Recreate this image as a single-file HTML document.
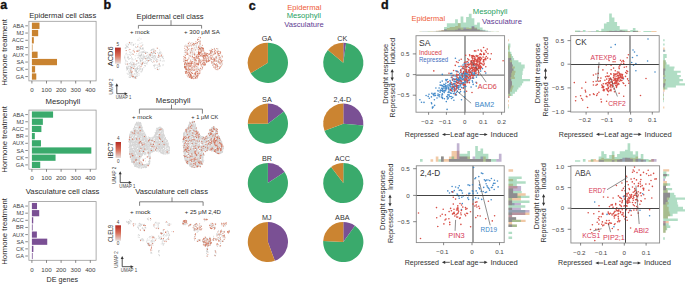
<!DOCTYPE html>
<html><head><meta charset="utf-8"><style>
html,body{margin:0;padding:0;background:#fff;}
body{width:685px;height:284px;overflow:hidden;}
svg{display:block;font-family:"Liberation Sans",sans-serif;}
</style></head><body>
<svg width="685" height="284" viewBox="0 0 685 284">
<rect width="685" height="284" fill="#fff"/>
<text x="0.30" y="8.80" font-size="12.5" fill="#111" font-weight="bold" stroke="#111" stroke-width="0.35">a</text>
<text x="103.40" y="8.90" font-size="12.5" fill="#111" font-weight="bold" stroke="#111" stroke-width="0.35">b</text>
<text x="248.80" y="9.50" font-size="12.5" fill="#111" font-weight="bold" stroke="#111" stroke-width="0.35">c</text>
<text x="381.10" y="8.90" font-size="12.5" fill="#111" font-weight="bold" stroke="#111" stroke-width="0.35">d</text>
<text x="62.70" y="18.34" font-size="7.6" fill="#2b2b2b" text-anchor="middle" textLength="67.00" lengthAdjust="spacingAndGlyphs">Epidermal cell class</text>
<rect x="28.90" y="21.30" width="67.20" height="59.60" fill="none" stroke="#9a9a9a" stroke-width="0.8"/>
<rect x="31.90" y="22.65" width="7.60" height="6.30" fill="#c98330"/>
<line x1="25.30" y1="25.80" x2="27.90" y2="25.80" stroke="#555" stroke-width="0.7"/>
<text x="23.90" y="27.80" font-size="5.6" fill="#444" text-anchor="end">ABA</text>
<rect x="31.90" y="29.90" width="6.29" height="6.30" fill="#c98330"/>
<line x1="25.30" y1="33.05" x2="27.90" y2="33.05" stroke="#555" stroke-width="0.7"/>
<text x="23.90" y="35.05" font-size="5.6" fill="#444" text-anchor="end">MJ</text>
<rect x="31.90" y="37.15" width="1.91" height="6.30" fill="#c98330"/>
<line x1="25.30" y1="40.30" x2="27.90" y2="40.30" stroke="#555" stroke-width="0.7"/>
<text x="23.90" y="42.30" font-size="5.6" fill="#444" text-anchor="end">ACC</text>
<rect x="31.90" y="44.40" width="0.59" height="6.30" fill="#c98330"/>
<line x1="25.30" y1="47.55" x2="27.90" y2="47.55" stroke="#555" stroke-width="0.7"/>
<text x="23.90" y="49.55" font-size="5.6" fill="#444" text-anchor="end">BR</text>
<rect x="31.90" y="51.65" width="5.70" height="6.30" fill="#c98330"/>
<line x1="25.30" y1="54.80" x2="27.90" y2="54.80" stroke="#555" stroke-width="0.7"/>
<text x="23.90" y="56.80" font-size="5.6" fill="#444" text-anchor="end">AUX</text>
<rect x="31.90" y="58.90" width="25.12" height="6.30" fill="#c98330"/>
<line x1="25.30" y1="62.05" x2="27.90" y2="62.05" stroke="#555" stroke-width="0.7"/>
<text x="23.90" y="64.05" font-size="5.6" fill="#444" text-anchor="end">SA</text>
<rect x="31.90" y="66.15" width="3.22" height="6.30" fill="#c98330"/>
<line x1="25.30" y1="69.30" x2="27.90" y2="69.30" stroke="#555" stroke-width="0.7"/>
<text x="23.90" y="71.30" font-size="5.6" fill="#444" text-anchor="end">CK</text>
<rect x="31.90" y="73.40" width="4.39" height="6.30" fill="#c98330"/>
<line x1="25.30" y1="76.55" x2="27.90" y2="76.55" stroke="#555" stroke-width="0.7"/>
<text x="23.90" y="78.55" font-size="5.6" fill="#444" text-anchor="end">GA</text>
<line x1="31.90" y1="80.90" x2="31.90" y2="83.50" stroke="#555" stroke-width="0.7"/>
<text x="31.90" y="91.80" font-size="6.2" fill="#444" text-anchor="middle">0</text>
<line x1="46.50" y1="80.90" x2="46.50" y2="83.50" stroke="#555" stroke-width="0.7"/>
<text x="46.50" y="91.80" font-size="6.2" fill="#444" text-anchor="middle">100</text>
<line x1="61.10" y1="80.90" x2="61.10" y2="83.50" stroke="#555" stroke-width="0.7"/>
<text x="61.10" y="91.80" font-size="6.2" fill="#444" text-anchor="middle">200</text>
<line x1="75.70" y1="80.90" x2="75.70" y2="83.50" stroke="#555" stroke-width="0.7"/>
<text x="75.70" y="91.80" font-size="6.2" fill="#444" text-anchor="middle">300</text>
<line x1="90.30" y1="80.90" x2="90.30" y2="83.50" stroke="#555" stroke-width="0.7"/>
<text x="90.30" y="91.80" font-size="6.2" fill="#444" text-anchor="middle">400</text>
<text x="62.90" y="104.04" font-size="7.6" fill="#2b2b2b" text-anchor="middle" textLength="34.80" lengthAdjust="spacingAndGlyphs">Mesophyll</text>
<rect x="28.90" y="110.10" width="67.20" height="59.10" fill="none" stroke="#9a9a9a" stroke-width="0.8"/>
<rect x="31.90" y="111.45" width="21.18" height="6.24" fill="#3aaa6c"/>
<line x1="25.30" y1="114.57" x2="27.90" y2="114.57" stroke="#555" stroke-width="0.7"/>
<text x="23.90" y="116.57" font-size="5.6" fill="#444" text-anchor="end">ABA</text>
<rect x="31.90" y="118.64" width="10.96" height="6.24" fill="#3aaa6c"/>
<line x1="25.30" y1="121.76" x2="27.90" y2="121.76" stroke="#555" stroke-width="0.7"/>
<text x="23.90" y="123.76" font-size="5.6" fill="#444" text-anchor="end">MJ</text>
<rect x="31.90" y="125.82" width="9.50" height="6.24" fill="#3aaa6c"/>
<line x1="25.30" y1="128.94" x2="27.90" y2="128.94" stroke="#555" stroke-width="0.7"/>
<text x="23.90" y="130.94" font-size="5.6" fill="#444" text-anchor="end">ACC</text>
<rect x="31.90" y="133.01" width="2.93" height="6.24" fill="#3aaa6c"/>
<line x1="25.30" y1="136.13" x2="27.90" y2="136.13" stroke="#555" stroke-width="0.7"/>
<text x="23.90" y="138.13" font-size="5.6" fill="#444" text-anchor="end">BR</text>
<rect x="31.90" y="140.20" width="9.06" height="6.24" fill="#3aaa6c"/>
<line x1="25.30" y1="143.32" x2="27.90" y2="143.32" stroke="#555" stroke-width="0.7"/>
<text x="23.90" y="145.32" font-size="5.6" fill="#444" text-anchor="end">AUX</text>
<rect x="31.90" y="147.39" width="59.43" height="6.24" fill="#3aaa6c"/>
<line x1="25.30" y1="150.51" x2="27.90" y2="150.51" stroke="#555" stroke-width="0.7"/>
<text x="23.90" y="152.51" font-size="5.6" fill="#444" text-anchor="end">SA</text>
<rect x="31.90" y="154.57" width="23.66" height="6.24" fill="#3aaa6c"/>
<line x1="25.30" y1="157.69" x2="27.90" y2="157.69" stroke="#555" stroke-width="0.7"/>
<text x="23.90" y="159.69" font-size="5.6" fill="#444" text-anchor="end">CK</text>
<rect x="31.90" y="161.76" width="8.33" height="6.24" fill="#3aaa6c"/>
<line x1="25.30" y1="164.88" x2="27.90" y2="164.88" stroke="#555" stroke-width="0.7"/>
<text x="23.90" y="166.88" font-size="5.6" fill="#444" text-anchor="end">GA</text>
<line x1="31.90" y1="169.20" x2="31.90" y2="171.80" stroke="#555" stroke-width="0.7"/>
<text x="31.90" y="179.90" font-size="6.2" fill="#444" text-anchor="middle">0</text>
<line x1="46.50" y1="169.20" x2="46.50" y2="171.80" stroke="#555" stroke-width="0.7"/>
<text x="46.50" y="179.90" font-size="6.2" fill="#444" text-anchor="middle">100</text>
<line x1="61.10" y1="169.20" x2="61.10" y2="171.80" stroke="#555" stroke-width="0.7"/>
<text x="61.10" y="179.90" font-size="6.2" fill="#444" text-anchor="middle">200</text>
<line x1="75.70" y1="169.20" x2="75.70" y2="171.80" stroke="#555" stroke-width="0.7"/>
<text x="75.70" y="179.90" font-size="6.2" fill="#444" text-anchor="middle">300</text>
<line x1="90.30" y1="169.20" x2="90.30" y2="171.80" stroke="#555" stroke-width="0.7"/>
<text x="90.30" y="179.90" font-size="6.2" fill="#444" text-anchor="middle">400</text>
<text x="62.60" y="193.64" font-size="7.6" fill="#2b2b2b" text-anchor="middle" textLength="73.60" lengthAdjust="spacingAndGlyphs">Vasculature cell class</text>
<rect x="28.90" y="201.60" width="67.20" height="58.70" fill="none" stroke="#9a9a9a" stroke-width="0.8"/>
<rect x="31.90" y="202.95" width="5.12" height="6.19" fill="#7a4f94"/>
<line x1="25.30" y1="206.04" x2="27.90" y2="206.04" stroke="#555" stroke-width="0.7"/>
<text x="23.90" y="208.04" font-size="5.6" fill="#444" text-anchor="end">ABA</text>
<rect x="31.90" y="210.09" width="7.31" height="6.19" fill="#7a4f94"/>
<line x1="25.30" y1="213.18" x2="27.90" y2="213.18" stroke="#555" stroke-width="0.7"/>
<text x="23.90" y="215.18" font-size="5.6" fill="#444" text-anchor="end">MJ</text>
<rect x="31.90" y="217.22" width="1.32" height="6.19" fill="#7a4f94"/>
<line x1="25.30" y1="220.32" x2="27.90" y2="220.32" stroke="#555" stroke-width="0.7"/>
<text x="23.90" y="222.32" font-size="5.6" fill="#444" text-anchor="end">ACC</text>
<rect x="31.90" y="224.36" width="0.74" height="6.19" fill="#7a4f94"/>
<line x1="25.30" y1="227.46" x2="27.90" y2="227.46" stroke="#555" stroke-width="0.7"/>
<text x="23.90" y="229.46" font-size="5.6" fill="#444" text-anchor="end">BR</text>
<rect x="31.90" y="231.50" width="4.97" height="6.19" fill="#7a4f94"/>
<line x1="25.30" y1="234.59" x2="27.90" y2="234.59" stroke="#555" stroke-width="0.7"/>
<text x="23.90" y="236.59" font-size="5.6" fill="#444" text-anchor="end">AUX</text>
<rect x="31.90" y="238.64" width="15.34" height="6.19" fill="#7a4f94"/>
<line x1="25.30" y1="241.73" x2="27.90" y2="241.73" stroke="#555" stroke-width="0.7"/>
<text x="23.90" y="243.73" font-size="5.6" fill="#444" text-anchor="end">SA</text>
<rect x="31.90" y="245.78" width="1.47" height="6.19" fill="#7a4f94"/>
<line x1="25.30" y1="248.87" x2="27.90" y2="248.87" stroke="#555" stroke-width="0.7"/>
<text x="23.90" y="250.87" font-size="5.6" fill="#444" text-anchor="end">CK</text>
<rect x="31.90" y="252.91" width="0.74" height="6.19" fill="#7a4f94"/>
<line x1="25.30" y1="256.01" x2="27.90" y2="256.01" stroke="#555" stroke-width="0.7"/>
<text x="23.90" y="258.01" font-size="5.6" fill="#444" text-anchor="end">GA</text>
<line x1="31.90" y1="260.30" x2="31.90" y2="262.90" stroke="#555" stroke-width="0.7"/>
<text x="31.90" y="271.70" font-size="6.2" fill="#444" text-anchor="middle">0</text>
<line x1="46.50" y1="260.30" x2="46.50" y2="262.90" stroke="#555" stroke-width="0.7"/>
<text x="46.50" y="271.70" font-size="6.2" fill="#444" text-anchor="middle">100</text>
<line x1="61.10" y1="260.30" x2="61.10" y2="262.90" stroke="#555" stroke-width="0.7"/>
<text x="61.10" y="271.70" font-size="6.2" fill="#444" text-anchor="middle">200</text>
<line x1="75.70" y1="260.30" x2="75.70" y2="262.90" stroke="#555" stroke-width="0.7"/>
<text x="75.70" y="271.70" font-size="6.2" fill="#444" text-anchor="middle">300</text>
<line x1="90.30" y1="260.30" x2="90.30" y2="262.90" stroke="#555" stroke-width="0.7"/>
<text x="90.30" y="271.70" font-size="6.2" fill="#444" text-anchor="middle">400</text>
<text x="62.30" y="282.26" font-size="7.4" fill="#2b2b2b" text-anchor="middle" textLength="31.40" lengthAdjust="spacingAndGlyphs">DE genes</text>
<text x="0" y="0" font-size="7.7" fill="#2b2b2b" text-anchor="middle" textLength="66.7" lengthAdjust="spacingAndGlyphs" transform="translate(6.6 52.50) rotate(-90)">Hormone treatment</text>
<text x="0" y="0" font-size="7.7" fill="#2b2b2b" text-anchor="middle" textLength="66.7" lengthAdjust="spacingAndGlyphs" transform="translate(6.6 139.50) rotate(-90)">Hormone treatment</text>
<text x="0" y="0" font-size="7.7" fill="#2b2b2b" text-anchor="middle" textLength="66.7" lengthAdjust="spacingAndGlyphs" transform="translate(6.6 231.40) rotate(-90)">Hormone treatment</text>
<text x="170.10" y="19.14" font-size="7.6" fill="#2b2b2b" text-anchor="middle" textLength="67.00" lengthAdjust="spacingAndGlyphs">Epidermal cell class</text>
<path d="M138.40 28.60 V25.40 H201.60 V28.60 M171.00 25.40 V20.20" fill="none" stroke="#555" stroke-width="0.75"/>
<text x="139.75" y="34.16" font-size="6.0" fill="#2b2b2b" text-anchor="middle" textLength="19.70" lengthAdjust="spacingAndGlyphs">+ mock</text>
<text x="201.95" y="34.16" font-size="6.0" fill="#2b2b2b" text-anchor="middle" textLength="35.70" lengthAdjust="spacingAndGlyphs">+ 300 μM SA</text>
<defs><linearGradient id="cb1" x1="0" y1="0" x2="0" y2="1"><stop offset="0" stop-color="#b52a22"/><stop offset="0.5" stop-color="#d9705a"/><stop offset="1" stop-color="#e6e0de"/></linearGradient></defs>
<rect x="115.00" y="47.60" width="5.80" height="16.20" fill="url(#cb1)"/>
<text x="117.90" y="46.00" font-size="4.6" fill="#444" text-anchor="middle">5</text>
<text x="117.90" y="68.40" font-size="4.6" fill="#444" text-anchor="middle">0</text>
<text x="0" y="0" font-size="7.4" fill="#2b2b2b" text-anchor="middle" textLength="19.80" lengthAdjust="spacingAndGlyphs" transform="translate(112.96 56.30) rotate(-90)">ACD6</text>
<path d="M116.80 85.70 V93.70 H125.10" fill="none" stroke="#333" stroke-width="0.85"/>
<path d="M115.30 86.20 L116.80 83.20 L118.30 86.20 Z" fill="#333"/>
<path d="M124.60 92.20 L127.60 93.70 L124.60 95.20 Z" fill="#333"/>
<text x="0" y="0" font-size="4.8" fill="#444" text-anchor="middle" textLength="16.10" lengthAdjust="spacingAndGlyphs" transform="translate(113.00 86.55) rotate(-90)">UMAP 2</text>
<text x="123.60" y="99.43" font-size="4.8" fill="#444" text-anchor="middle" textLength="15.60" lengthAdjust="spacingAndGlyphs">UMAP 1</text>
<text x="173.10" y="103.14" font-size="7.6" fill="#2b2b2b" text-anchor="middle" textLength="34.60" lengthAdjust="spacingAndGlyphs">Mesophyll</text>
<path d="M139.40 113.60 V109.10 H202.40 V113.60 M171.50 109.10 V104.60" fill="none" stroke="#555" stroke-width="0.75"/>
<text x="142.00" y="118.96" font-size="6.0" fill="#2b2b2b" text-anchor="middle" textLength="20.00" lengthAdjust="spacingAndGlyphs">+ mock</text>
<text x="204.80" y="118.96" font-size="6.0" fill="#2b2b2b" text-anchor="middle" textLength="27.00" lengthAdjust="spacingAndGlyphs">+ 1 μM CK</text>
<defs><linearGradient id="cb2" x1="0" y1="0" x2="0" y2="1"><stop offset="0" stop-color="#b52a22"/><stop offset="0.5" stop-color="#d9705a"/><stop offset="1" stop-color="#e6e0de"/></linearGradient></defs>
<rect x="115.60" y="142.00" width="5.40" height="16.00" fill="url(#cb2)"/>
<text x="118.30" y="140.40" font-size="4.6" fill="#444" text-anchor="middle">4</text>
<text x="118.30" y="162.60" font-size="4.6" fill="#444" text-anchor="middle">0</text>
<text x="0" y="0" font-size="7.4" fill="#2b2b2b" text-anchor="middle" textLength="16.00" lengthAdjust="spacingAndGlyphs" transform="translate(112.96 150.50) rotate(-90)">IBC7</text>
<path d="M120.20 173.80 V182.60 H129.30" fill="none" stroke="#333" stroke-width="0.85"/>
<path d="M118.70 174.30 L120.20 171.30 L121.70 174.30 Z" fill="#333"/>
<path d="M128.80 181.10 L131.80 182.60 L128.80 184.10 Z" fill="#333"/>
<text x="0" y="0" font-size="4.8" fill="#444" text-anchor="middle" textLength="17.00" lengthAdjust="spacingAndGlyphs" transform="translate(116.20 175.20) rotate(-90)">UMAP 2</text>
<text x="127.30" y="188.23" font-size="4.8" fill="#444" text-anchor="middle" textLength="16.00" lengthAdjust="spacingAndGlyphs">UMAP 1</text>
<text x="171.60" y="194.34" font-size="7.6" fill="#2b2b2b" text-anchor="middle" textLength="72.80" lengthAdjust="spacingAndGlyphs">Vasculature cell class</text>
<path d="M139.60 205.80 V201.80 H203.10 V205.80 M172.00 201.80 V197.40" fill="none" stroke="#555" stroke-width="0.75"/>
<text x="140.25" y="214.16" font-size="6.0" fill="#2b2b2b" text-anchor="middle" textLength="20.50" lengthAdjust="spacingAndGlyphs">+ mock</text>
<text x="202.85" y="214.36" font-size="6.0" fill="#2b2b2b" text-anchor="middle" textLength="36.10" lengthAdjust="spacingAndGlyphs">+ 25 μM 2,4D</text>
<defs><linearGradient id="cb3" x1="0" y1="0" x2="0" y2="1"><stop offset="0" stop-color="#b52a22"/><stop offset="0.5" stop-color="#d9705a"/><stop offset="1" stop-color="#e6e0de"/></linearGradient></defs>
<rect x="115.30" y="225.30" width="5.70" height="15.50" fill="url(#cb3)"/>
<text x="118.15" y="223.70" font-size="4.6" fill="#444" text-anchor="middle">4</text>
<text x="118.15" y="245.40" font-size="4.6" fill="#444" text-anchor="middle">0</text>
<text x="0" y="0" font-size="7.4" fill="#2b2b2b" text-anchor="middle" textLength="17.20" lengthAdjust="spacingAndGlyphs" transform="translate(113.06 233.40) rotate(-90)">CLEL9</text>
<path d="M122.20 258.50 V266.70 H131.10" fill="none" stroke="#333" stroke-width="0.85"/>
<path d="M120.70 259.00 L122.20 256.00 L123.70 259.00 Z" fill="#333"/>
<path d="M130.60 265.20 L133.60 266.70 L130.60 268.20 Z" fill="#333"/>
<text x="0" y="0" font-size="4.8" fill="#444" text-anchor="middle" textLength="16.40" lengthAdjust="spacingAndGlyphs" transform="translate(118.20 259.60) rotate(-90)">UMAP 2</text>
<text x="128.95" y="272.13" font-size="4.8" fill="#444" text-anchor="middle" textLength="16.30" lengthAdjust="spacingAndGlyphs">UMAP 1</text>
<path d="M136.3 73.7h0M143.1 49.6h0M144.9 56.5h0M149.5 58.5h0M132.0 66.0h0M135.0 74.0h0M126.7 53.2h0M130.3 71.2h0M130.3 55.4h0M132.9 65.1h0M159.4 64.7h0M160.5 60.8h0M132.0 76.0h0M131.5 74.1h0M147.1 52.7h0M159.4 56.5h0M137.2 68.5h0M139.2 38.1h0M163.1 64.6h0M133.4 45.2h0M135.2 77.0h0M163.6 58.6h0M127.1 54.9h0M148.5 57.0h0M157.0 67.6h0M125.9 61.7h0M136.8 76.4h0M132.0 61.0h0M137.9 50.2h0M136.9 73.2h0M129.5 69.2h0M137.4 67.3h0M125.4 64.3h0M139.5 47.5h0M157.6 52.7h0M127.6 68.6h0M129.6 42.3h0M136.6 71.9h0M139.4 66.8h0M157.4 65.3h0M158.1 69.6h0M153.2 55.6h0M146.0 53.2h0M153.2 52.9h0M161.2 53.1h0M130.2 66.9h0M142.2 68.5h0M131.4 73.1h0M131.7 65.1h0M145.0 63.3h0M131.5 42.6h0M133.5 77.7h0M144.6 57.8h0M127.0 46.8h0M131.0 75.6h0M137.5 76.3h0M135.6 70.6h0M141.7 54.3h0M126.9 67.5h0M162.7 56.6h0M153.2 58.9h0M142.5 63.4h0M127.3 61.8h0M132.1 73.9h0M143.0 63.0h0M140.6 60.4h0M154.1 52.9h0M154.6 58.1h0M147.5 60.3h0M151.5 61.4h0M138.4 55.7h0M160.0 52.7h0M127.2 73.4h0M142.7 52.6h0M134.2 63.9h0M143.4 58.9h0M132.4 77.4h0M136.6 47.6h0M132.1 42.6h0M155.1 68.5h0M129.7 42.6h0M135.7 77.4h0M131.7 43.8h0M124.9 56.1h0M135.1 70.2h0M149.0 53.9h0M128.9 50.1h0M137.8 40.1h0M130.0 70.5h0M135.1 66.4h0M149.5 56.0h0M136.0 68.8h0M154.0 52.8h0M152.3 53.2h0M132.5 67.6h0M142.3 49.0h0M127.4 46.1h0M147.2 58.2h0M129.3 74.1h0M145.2 52.4h0M143.1 55.9h0M140.0 43.3h0M147.7 57.5h0M140.5 48.2h0M128.4 47.3h0M126.1 50.8h0M127.1 44.0h0M141.9 42.8h0M129.0 70.9h0M142.6 64.7h0M130.9 42.7h0M126.4 45.9h0M142.9 51.8h0M137.6 68.7h0M140.5 68.7h0M136.8 67.9h0M152.9 56.9h0M129.5 75.0h0M147.1 56.2h0M130.6 71.1h0M162.0 53.9h0M154.6 56.7h0M139.8 55.1h0M126.7 68.6h0M136.5 68.9h0M137.3 63.7h0M128.6 66.2h0M136.2 63.6h0M140.5 61.2h0M130.5 66.6h0M145.2 62.2h0M137.8 50.6h0M125.7 60.0h0M132.4 50.9h0M129.4 63.5h0M130.5 74.9h0M151.4 59.9h0M150.0 58.7h0M129.5 66.0h0M155.8 55.9h0M159.0 53.8h0M135.5 76.4h0M164.0 61.2h0M144.8 58.1h0M129.3 43.2h0M141.5 64.7h0M146.0 52.9h0M136.2 64.5h0M144.1 56.4h0M135.9 70.7h0M153.2 50.9h0M156.7 59.7h0M138.3 39.7h0M149.2 58.8h0M141.2 54.9h0M140.3 56.4h0M134.2 67.1h0M160.2 53.4h0M159.5 65.2h0M143.2 61.8h0M128.7 71.0h0M146.0 63.4h0M158.9 53.3h0M141.3 54.3h0M131.3 63.8h0M143.1 56.4h0M152.2 54.1h0M127.3 57.8h0M139.1 49.7h0M137.5 60.8h0M129.1 73.5h0M136.1 69.6h0M129.1 68.5h0M130.2 58.5h0M142.7 69.3h0M126.6 67.0h0M138.8 71.3h0M141.9 53.0h0M159.8 66.6h0M148.7 58.3h0M140.7 63.8h0M143.4 57.6h0M137.1 75.9h0M152.8 49.2h0M146.7 58.8h0M160.9 52.2h0M129.4 75.4h0M128.0 57.9h0M129.2 59.3h0M140.7 59.9h0M142.7 58.9h0M140.0 67.0h0M140.9 52.2h0M135.6 47.0h0M142.0 49.2h0M129.9 77.5h0M137.4 66.7h0M144.7 65.6h0M126.8 70.2h0M151.0 50.4h0M127.7 64.8h0M149.0 55.7h0M153.4 56.4h0M138.9 40.5h0M139.5 50.4h0M139.7 65.4h0M148.7 56.2h0M125.0 57.8h0M160.1 51.8h0M138.8 57.7h0M147.6 55.1h0M157.3 68.3h0M136.0 71.4h0M139.2 63.1h0M136.4 53.5h0M152.2 55.5h0M133.7 64.6h0M142.9 44.8h0M127.9 56.3h0M136.2 65.2h0M137.8 50.6h0M144.0 52.4h0M127.7 68.8h0M142.0 51.7h0M133.5 76.5h0M150.2 54.9h0M137.8 44.8h0M150.5 56.3h0M155.6 57.4h0M128.4 45.0h0M158.5 66.3h0M140.0 55.4h0M141.2 69.3h0M128.5 44.4h0M135.6 68.7h0M136.2 70.7h0M138.5 63.5h0M138.0 44.8h0M129.8 72.7h0M139.0 70.4h0M151.9 55.9h0M132.0 45.2h0M156.7 59.3h0M135.0 59.7h0M142.8 47.9h0M137.7 69.2h0M130.0 43.7h0M153.6 65.4h0M157.7 48.5h0M149.5 60.4h0M159.4 68.9h0M140.6 55.7h0M139.7 50.8h0M149.1 57.8h0M156.2 58.5h0M130.6 66.3h0M129.5 63.9h0M125.7 45.0h0M150.6 59.2h0M134.2 66.6h0M162.2 61.1h0M141.7 58.6h0M155.6 55.3h0M142.4 45.3h0M145.9 51.9h0M131.8 54.4h0M131.0 64.7h0M154.8 65.3h0M139.8 55.8h0M125.2 48.1h0M130.5 72.2h0M147.8 57.9h0M155.6 56.3h0M143.8 56.0h0M134.3 69.8h0M132.5 59.0h0M158.5 54.9h0M128.0 74.4h0M160.4 65.8h0M137.4 72.6h0M152.1 49.7h0M134.0 49.1h0M138.7 66.1h0M136.2 70.9h0M135.5 58.8h0M136.0 71.9h0M153.8 50.8h0M157.5 59.5h0M135.1 69.9h0M138.5 54.1h0M141.4 60.8h0M138.7 68.6h0M148.2 54.6h0M145.1 65.8h0M162.9 57.8h0M139.9 60.9h0M127.0 69.3h0M154.4 49.3h0M135.1 71.5h0M134.3 68.3h0M136.6 61.5h0M130.1 68.6h0M144.4 52.3h0M131.4 57.7h0M130.8 52.9h0M142.1 70.5h0M148.3 58.2h0M136.8 71.9h0M133.9 44.3h0M155.3 53.0h0M126.9 46.6h0M146.9 58.8h0M130.6 62.3h0M164.0 60.4h0M133.7 44.5h0M155.8 65.0h0M127.1 67.8h0M136.9 73.1h0M135.1 55.7h0M128.6 64.3h0M139.2 53.3h0M145.2 61.3h0M128.6 57.1h0M158.2 69.7h0M154.2 66.0h0M145.4 65.9h0M149.8 58.0h0M129.2 72.7h0M137.5 57.8h0M131.5 73.0h0M154.4 55.5h0M144.7 63.5h0M130.3 63.2h0M137.0 61.1h0M154.5 52.6h0M137.9 72.3h0M130.3 77.3h0M143.8 52.1h0M127.8 63.4h0M136.2 76.5h0M130.5 73.1h0M145.8 58.2h0M130.7 69.4h0M135.5 47.0h0M137.3 69.5h0M143.7 62.2h0M136.1 75.1h0M154.9 55.8h0M159.5 53.3h0M143.6 51.7h0M134.5 77.0h0M140.5 61.9h0M153.8 57.6h0M135.3 76.6h0M131.9 69.0h0M154.3 66.9h0M127.7 69.4h0M128.1 57.6h0M155.6 60.4h0M162.9 65.6h0M136.2 78.3h0M153.8 49.1h0M144.3 50.7h0M149.4 54.3h0M154.8 59.3h0M138.0 66.2h0M131.4 73.7h0M131.6 68.9h0M134.7 77.6h0M135.1 78.2h0M127.1 66.6h0M153.2 49.3h0M150.5 53.3h0M142.8 48.6h0M161.9 56.7h0M140.0 48.9h0M139.0 73.7h0M142.3 60.7h0M142.1 63.9h0M140.7 60.6h0M129.1 72.0h0M139.5 59.1h0M130.7 68.2h0M143.5 48.2h0M155.7 51.1h0M132.1 62.4h0M152.6 62.4h0M138.6 57.5h0M141.4 58.2h0M140.1 48.8h0M132.9 67.0h0M159.5 63.3h0M127.3 47.2h0M159.8 55.8h0M144.9 56.2h0M135.2 64.5h0M141.3 53.8h0M151.3 50.5h0M160.2 54.2h0M143.5 62.7h0M162.3 57.6h0M137.2 55.3h0M146.3 56.8h0M135.0 77.4h0M153.7 56.9h0M159.7 50.0h0M140.6 48.0h0M163.0 56.2h0M129.3 58.7h0M150.9 60.1h0M132.0 59.2h0M142.2 48.3h0M150.6 55.4h0M143.3 62.4h0M139.2 56.6h0M140.8 72.0h0M151.6 49.6h0M134.2 65.9h0M159.0 60.8h0M132.7 64.4h0M150.0 60.5h0M151.6 57.5h0M154.7 64.9h0M158.9 57.2h0M125.2 63.1h0M140.6 48.1h0M146.5 55.6h0M137.9 74.0h0M140.2 55.6h0M128.7 59.2h0M133.3 63.1h0M146.8 63.0h0M142.4 69.8h0M132.5 53.7h0M133.0 62.6h0M134.3 63.1h0M125.9 48.4h0M158.9 66.2h0M142.6 58.1h0M157.8 59.9h0M141.5 52.6h0M151.6 53.9h0M157.1 65.1h0M152.8 53.6h0M141.0 39.0h0M141.9 71.6h0M147.6 62.2h0M138.8 46.9h0M130.9 71.2h0M140.8 71.6h0M124.9 58.8h0M140.4 59.4h0M128.3 68.0h0M160.2 58.9h0M153.0 57.8h0M125.9 47.5h0M147.7 52.4h0M152.6 57.5h0M132.4 71.2h0M133.8 75.7h0M148.2 61.4h0M139.9 52.7h0M129.1 77.0h0M139.9 58.5h0M143.2 54.7h0M135.4 43.8h0M140.2 69.7h0M157.8 67.1h0M139.7 69.1h0M151.4 59.8h0M133.4 60.1h0M128.8 66.9h0M160.5 60.4h0M157.5 57.3h0M131.7 76.2h0M152.6 55.1h0M142.8 59.7h0M138.3 62.6h0M125.8 54.0h0M127.7 63.9h0M127.7 73.8h0M141.3 65.2h0M134.6 73.7h0M139.8 68.2h0M139.0 75.2h0M134.0 74.2h0M137.6 74.0h0M133.0 68.6h0M133.3 45.5h0M129.8 54.6h0M150.3 52.8h0M136.4 70.8h0M131.0 64.5h0M130.9 69.2h0M126.0 60.7h0M146.5 60.5h0M129.6 52.0h0M133.8 65.3h0M130.8 44.4h0M136.0 76.7h0M158.2 56.9h0M141.4 55.4h0M131.4 56.8h0M124.5 57.2h0M141.2 57.0h0M153.7 53.1h0M157.2 61.7h0M156.7 62.4h0M140.9 57.5h0M141.4 71.7h0M128.0 54.6h0M143.8 67.6h0M131.0 52.1h0M147.0 64.0h0M131.3 68.2h0M138.4 63.2h0M153.6 60.8h0M159.9 52.6h0M131.6 72.8h0M130.1 76.7h0" stroke="#c4c4c4" stroke-width="1.00" stroke-linecap="round" opacity="0.85" fill="none"/>
<path d="M129.3 71.0h0M128.0 64.0h0M139.7 47.3h0M160.9 54.5h0M143.9 66.3h0M149.3 58.3h0M155.1 53.5h0M134.8 75.2h0M158.2 67.1h0M135.2 63.4h0M152.5 52.0h0M129.8 65.8h0M139.4 44.2h0M138.3 57.1h0M164.2 60.3h0M157.6 60.3h0M129.8 62.0h0M157.7 49.2h0M136.4 43.1h0M129.3 59.4h0M132.3 78.4h0M127.9 51.3h0M149.1 53.9h0M133.9 54.2h0M161.0 54.1h0M132.2 77.7h0M128.4 64.6h0M133.9 45.9h0M129.8 76.6h0M129.4 75.3h0M130.9 50.7h0M132.8 78.5h0M128.0 73.1h0M136.3 77.0h0M154.4 47.9h0M140.6 37.9h0M139.7 53.8h0M134.3 70.0h0M135.5 50.8h0M144.0 48.4h0M137.3 54.6h0M134.6 72.2h0M138.5 54.6h0M133.1 71.8h0M131.1 70.1h0M136.8 46.4h0M127.4 62.7h0M147.9 55.3h0M162.6 65.8h0M129.3 47.5h0M142.2 53.3h0M126.8 49.9h0M136.3 59.7h0M148.5 54.1h0M159.0 53.3h0M136.5 69.2h0M131.1 45.1h0M131.6 60.4h0M156.9 53.1h0M135.2 78.1h0M129.8 70.7h0M158.3 60.8h0M139.7 64.6h0M163.6 61.2h0M154.6 57.3h0M131.5 66.2h0M127.4 62.7h0M138.8 40.3h0M155.7 49.5h0M141.1 42.3h0M137.6 42.4h0M134.6 61.2h0M136.3 65.0h0M160.4 61.1h0M132.2 51.4h0M145.4 62.9h0M138.0 55.4h0M149.4 56.1h0M135.7 54.1h0M139.7 49.1h0M148.4 58.4h0M140.8 66.7h0M156.9 64.2h0M138.0 76.3h0M128.5 70.8h0M141.2 53.5h0M158.1 64.5h0M129.0 58.0h0M135.9 51.3h0M135.8 55.0h0M157.7 58.6h0M138.2 76.8h0M137.8 63.8h0M127.1 55.4h0M129.4 49.3h0M132.2 50.0h0M142.6 49.9h0M137.8 57.3h0M160.9 54.2h0M158.2 66.1h0M127.8 52.1h0M137.6 55.9h0M161.4 56.9h0M139.0 66.2h0M135.4 66.9h0M141.0 57.0h0M131.9 45.4h0M158.8 61.1h0M141.2 69.5h0M134.4 57.7h0M148.5 55.2h0M131.1 46.8h0M148.7 54.1h0M136.9 58.1h0M138.2 74.1h0M160.7 64.9h0M125.8 45.1h0M147.4 54.7h0M127.6 45.3h0M147.5 53.8h0M154.9 56.5h0M159.5 68.8h0M144.1 51.9h0M132.9 49.1h0M138.5 52.0h0M131.5 56.8h0M128.8 73.5h0M137.4 47.6h0M130.6 57.1h0M131.6 43.2h0M152.5 54.9h0M151.2 56.6h0M144.5 49.9h0M141.4 57.1h0M138.0 71.7h0M134.2 46.1h0M138.1 69.9h0M158.3 60.6h0M138.8 64.2h0M139.9 42.9h0M139.1 59.8h0M127.3 59.5h0M150.7 52.0h0M127.3 44.5h0M135.3 43.8h0M132.3 59.8h0M141.8 71.6h0M144.3 59.6h0M135.3 61.8h0M137.5 47.7h0M156.6 59.1h0M143.0 61.4h0M156.7 63.1h0M144.9 50.0h0M147.2 56.9h0M126.8 70.1h0M134.4 60.2h0M138.5 51.3h0M141.5 48.0h0M138.6 43.7h0M137.7 66.3h0M159.1 62.7h0M128.6 64.5h0M144.4 50.0h0M137.1 45.4h0M127.7 53.1h0M138.4 40.2h0M135.4 67.5h0M127.8 59.2h0M132.8 69.1h0M139.2 61.1h0M160.9 52.5h0M131.8 48.8h0M134.3 43.3h0M138.1 47.3h0M130.4 59.2h0M132.3 52.2h0M137.3 71.2h0M133.7 59.6h0M137.4 66.0h0M143.9 67.4h0M130.4 43.0h0M153.8 53.2h0M133.9 73.2h0M138.8 41.4h0M133.1 69.3h0M134.9 60.3h0M157.8 62.6h0M136.3 73.8h0M129.6 50.6h0M129.8 69.4h0M159.5 62.0h0M147.7 56.2h0M148.7 60.0h0M134.6 61.5h0M130.7 57.8h0M136.0 56.0h0M151.9 50.4h0M161.8 60.9h0M136.2 55.7h0M142.2 38.8h0M136.2 42.6h0M136.4 62.2h0M128.7 54.7h0M139.3 48.9h0M141.0 57.9h0M134.2 47.5h0M153.3 56.1h0M130.8 70.5h0M129.3 49.3h0M154.4 49.4h0M145.5 59.5h0M126.1 59.8h0M146.2 55.4h0M140.5 59.5h0M160.3 64.5h0M135.1 43.0h0M127.1 48.1h0M129.1 65.6h0M139.7 56.4h0M134.7 75.6h0M158.6 57.1h0M139.2 39.5h0M135.6 61.7h0M158.2 66.0h0M156.8 50.7h0M132.4 45.5h0M128.8 46.9h0M133.3 65.2h0M141.2 45.3h0M136.5 59.0h0M141.9 39.8h0M137.9 65.8h0M140.8 72.2h0M132.1 57.2h0M125.5 52.1h0M143.4 61.6h0M130.0 59.7h0M133.3 55.4h0M136.2 53.2h0M138.9 76.7h0M132.6 48.9h0M161.8 53.2h0M153.7 57.6h0M126.2 57.8h0M134.0 55.3h0M127.0 52.0h0M163.2 56.8h0M141.8 52.7h0M132.7 48.8h0M126.8 72.4h0M143.9 62.2h0M159.8 57.7h0M135.4 59.2h0M144.4 49.4h0M133.6 51.9h0M140.0 52.5h0M134.2 71.0h0M136.7 54.0h0M129.4 74.5h0M139.3 66.4h0M125.4 66.2h0M133.4 55.9h0M130.9 56.5h0M131.7 42.8h0M143.9 56.1h0M152.6 51.0h0M143.8 65.2h0M157.9 65.6h0M140.5 74.1h0M132.6 75.4h0M140.4 72.4h0M140.2 71.2h0M128.8 48.8h0M129.2 68.0h0M143.1 64.5h0M133.9 67.8h0M137.1 73.5h0M133.4 60.6h0M127.8 55.0h0M141.2 52.3h0M137.1 44.5h0M134.4 72.8h0M157.1 50.5h0M129.4 42.5h0M140.7 71.9h0M127.4 54.9h0M138.5 74.5h0M130.4 64.5h0M137.3 64.1h0M158.2 49.1h0M132.0 70.1h0M139.7 38.7h0M156.7 48.9h0M125.7 62.0h0M151.7 60.5h0M145.6 62.0h0M138.3 59.9h0M134.3 44.4h0M142.2 54.1h0M135.1 75.9h0M143.6 46.8h0M129.3 64.2h0M127.4 74.2h0M156.5 48.2h0M129.0 60.4h0M143.0 49.9h0M138.3 50.1h0M161.7 61.4h0M150.0 52.8h0M146.1 53.6h0M127.6 73.8h0M136.6 48.7h0M129.7 49.7h0M137.3 44.6h0M134.9 49.2h0M158.7 55.6h0M131.9 77.0h0M132.1 62.5h0M145.9 56.0h0M133.6 60.6h0M142.7 38.4h0M163.6 63.4h0M147.1 63.2h0M152.9 55.0h0M136.9 51.7h0M134.6 59.6h0M127.0 60.1h0M134.8 67.9h0M137.8 73.8h0M133.9 50.0h0M145.6 54.1h0M157.9 66.9h0M131.3 50.1h0M137.8 76.0h0M142.6 62.8h0M161.6 53.5h0M152.1 52.9h0M157.7 59.3h0M151.8 51.7h0M139.4 57.5h0M138.3 39.6h0M158.1 55.7h0M139.1 72.7h0M159.8 61.3h0M162.3 53.6h0M139.5 63.8h0M140.5 66.7h0M157.4 60.7h0M137.7 73.6h0M140.0 68.2h0M134.2 63.4h0M139.0 57.1h0M159.6 50.1h0M138.8 72.6h0M133.6 46.8h0M155.4 55.5h0M157.9 65.0h0M158.1 70.0h0M138.6 63.3h0M156.7 49.7h0M129.2 68.1h0M134.3 48.3h0M131.1 51.6h0M128.0 45.5h0M159.2 53.9h0M129.3 48.2h0M151.4 54.0h0M127.7 49.3h0M125.7 58.8h0M126.5 56.4h0M131.0 45.0h0M138.7 66.7h0M139.2 53.9h0M129.9 44.6h0M155.2 54.9h0M135.7 78.5h0M141.7 60.7h0M131.0 54.8h0M135.7 71.0h0" stroke="#ffffff" stroke-width="0.56" stroke-linecap="round" opacity="1.0" fill="none"/>
<path d="M133.7 50.8h0M145.5 53.3h0M157.2 48.1h0M150.3 54.9h0M145.4 58.8h0M134.4 51.9h0M133.9 64.0h0M137.2 51.5h0M126.2 50.5h0M129.4 42.5h0M132.3 76.6h0M132.1 71.9h0M136.6 60.7h0M136.8 51.1h0M131.3 67.4h0M129.9 49.4h0M127.1 64.1h0M155.4 53.5h0M142.3 62.8h0M154.0 61.8h0M133.6 68.4h0M141.0 66.6h0M133.3 76.5h0M130.9 70.2h0M159.0 64.0h0M137.5 46.7h0M142.0 64.1h0M138.2 51.0h0M133.2 54.2h0M135.4 77.9h0M155.1 50.8h0M151.6 52.4h0M149.8 54.7h0M161.0 56.1h0M156.9 61.1h0M132.1 75.1h0M161.5 55.1h0M157.4 69.5h0M158.7 55.4h0M153.8 51.8h0M131.2 72.1h0M141.1 46.1h0M158.7 57.0h0M142.3 63.5h0M148.4 60.6h0" stroke="#d2694c" stroke-width="1.10" stroke-linecap="round" opacity="0.8" fill="none"/>
<path d="M195.2 75.3h0M190.0 66.1h0M214.2 48.3h0M185.7 55.0h0M211.3 48.8h0M194.0 51.2h0M198.2 49.4h0M193.8 65.2h0M198.4 67.3h0M201.0 51.2h0M189.7 46.4h0M219.4 56.0h0M195.9 46.0h0M218.5 66.5h0M193.0 67.6h0M186.2 64.9h0M196.2 64.7h0M192.4 51.7h0M197.0 43.9h0M188.3 65.1h0M197.1 43.9h0M186.1 69.2h0M187.9 54.0h0M201.5 69.7h0M205.1 64.9h0M216.9 60.9h0M195.6 43.5h0M190.0 63.8h0M196.7 45.1h0M213.7 55.2h0M189.7 72.4h0M195.0 53.3h0M193.0 54.5h0M193.1 70.9h0M210.4 56.9h0M199.7 48.0h0M214.0 57.4h0M186.1 63.3h0M195.6 78.0h0M212.2 62.7h0M199.3 69.9h0M203.0 66.7h0M208.2 59.7h0M208.2 55.1h0M187.8 52.8h0M200.1 59.9h0M219.8 62.1h0M195.5 64.8h0M196.5 60.2h0M187.3 60.6h0M202.5 64.0h0M206.0 61.0h0M213.4 63.1h0M210.9 53.7h0M218.2 60.0h0M199.6 59.3h0M209.5 60.6h0M187.4 51.1h0M218.9 68.7h0M188.4 58.0h0M216.3 57.2h0M185.9 63.9h0M217.8 48.6h0M191.5 50.8h0M195.1 77.4h0M192.7 54.7h0M202.8 66.0h0M222.2 62.7h0M218.2 61.9h0M188.8 72.7h0M204.4 57.3h0M186.3 65.5h0M198.4 59.4h0M194.7 69.3h0M205.8 53.2h0M217.9 49.2h0M185.1 71.5h0M190.3 51.0h0M200.3 51.7h0M186.7 62.2h0M214.9 54.1h0M199.7 40.7h0M194.9 47.6h0M185.1 50.8h0M190.1 45.8h0M195.1 43.8h0M216.6 56.7h0M198.5 68.4h0M200.4 61.7h0M210.2 51.4h0M184.9 50.8h0M192.9 50.7h0M191.3 72.0h0M196.8 49.0h0M197.5 70.3h0M200.4 40.7h0M199.4 47.7h0M196.8 77.4h0M216.6 66.6h0M193.1 68.4h0M211.3 59.1h0M192.9 45.6h0M200.1 48.5h0M218.8 56.5h0M196.1 75.7h0M185.1 46.2h0M216.2 67.6h0M211.5 52.6h0M185.8 63.6h0M186.2 70.5h0M213.6 59.1h0M219.2 63.5h0M192.3 78.1h0M221.5 55.3h0M215.2 67.2h0M194.4 45.2h0M185.9 50.3h0M195.6 72.6h0M193.2 77.3h0M197.6 73.8h0M219.8 66.8h0M220.5 64.6h0M192.8 63.0h0M187.1 67.5h0M219.5 63.3h0M190.1 75.6h0M187.4 46.5h0M217.6 61.6h0M196.8 70.7h0M192.6 71.0h0M217.2 65.0h0M194.9 48.1h0M190.4 53.9h0M197.7 48.8h0M218.3 68.9h0M216.4 63.6h0M196.9 52.1h0M193.2 75.7h0M219.5 55.5h0M199.4 42.4h0M221.9 63.5h0M197.2 58.2h0M221.2 58.2h0M215.5 58.9h0M200.8 52.3h0M188.7 72.0h0M198.1 69.4h0M196.6 47.4h0M195.3 54.5h0M203.2 59.0h0M221.9 65.0h0M193.6 61.2h0M200.9 46.7h0M196.6 46.5h0M205.1 54.2h0M222.2 61.3h0M185.9 61.2h0M199.4 45.8h0M192.9 42.7h0M188.9 62.7h0M186.1 59.0h0M215.8 69.1h0M200.6 47.1h0M188.7 76.9h0M221.0 56.5h0M211.4 52.9h0M217.3 50.1h0M191.6 42.9h0M208.6 60.3h0M196.7 68.8h0M189.1 55.7h0M185.1 65.4h0M187.3 70.3h0M211.3 51.5h0M204.3 60.3h0M194.2 54.4h0M217.3 60.8h0M198.9 70.2h0M199.5 73.4h0M195.6 77.7h0M221.0 60.2h0M191.8 57.9h0M195.0 50.1h0M196.0 45.3h0M184.9 68.5h0M183.8 61.0h0M198.0 64.2h0M206.6 57.0h0M214.5 60.9h0M219.3 61.5h0M211.6 50.7h0M212.4 64.1h0M188.5 64.1h0M184.5 50.5h0M187.2 45.4h0M184.3 52.4h0M213.3 64.7h0M207.5 56.5h0M190.7 76.8h0M215.9 60.9h0M215.5 64.2h0M194.4 48.9h0M190.2 59.9h0M194.6 43.7h0M189.0 67.7h0M195.9 60.7h0M214.5 49.0h0M201.5 48.9h0M202.9 49.8h0M196.2 43.5h0M194.6 54.1h0M188.0 46.5h0M199.6 61.4h0M204.8 52.4h0M193.9 46.9h0M208.4 54.2h0M191.8 73.4h0M192.0 70.1h0M188.0 43.4h0M186.7 50.3h0M219.7 64.0h0M213.4 63.1h0M190.9 49.2h0M201.6 62.8h0M191.5 52.6h0M192.9 53.8h0M195.7 71.4h0M198.2 52.6h0M203.5 60.6h0M193.6 59.4h0M219.7 52.9h0M202.6 54.3h0M187.8 49.0h0M193.5 75.6h0M184.3 54.8h0M199.9 55.2h0M185.7 45.0h0M189.2 64.6h0M198.4 60.1h0M203.6 55.9h0M212.2 52.2h0M199.4 37.2h0M192.9 69.6h0M210.2 60.7h0M215.6 57.8h0M210.1 57.5h0M197.4 69.1h0M202.0 55.8h0M199.4 56.2h0M192.2 70.5h0M218.6 57.9h0M217.5 49.1h0M188.3 71.7h0M190.6 65.8h0M189.7 68.7h0M221.6 62.9h0M184.9 67.9h0M189.3 48.6h0M219.8 58.8h0M198.7 62.8h0M217.8 54.0h0M189.8 75.2h0M184.2 61.7h0M208.6 59.3h0M190.8 75.7h0M197.2 67.5h0M191.4 69.6h0M191.7 55.1h0M218.7 51.2h0M194.2 45.1h0M217.5 62.1h0M195.7 74.5h0M190.1 64.2h0M186.8 69.1h0M211.9 53.0h0M204.0 57.3h0M190.7 52.2h0M208.5 58.6h0M190.3 68.8h0M215.2 64.8h0M216.9 61.5h0M190.4 65.7h0M208.5 60.8h0M202.2 69.2h0M212.6 61.7h0M186.0 46.6h0M206.2 62.5h0M201.6 50.0h0M189.7 50.9h0M203.8 65.3h0M192.6 59.6h0M213.5 65.2h0M217.1 56.7h0M196.0 67.2h0M187.5 69.2h0M201.8 47.3h0M193.1 49.8h0M214.3 53.2h0M197.3 76.7h0M205.1 59.5h0M199.3 70.1h0M195.8 56.9h0M192.7 44.6h0M187.0 45.2h0M189.9 55.3h0M199.8 69.0h0M214.5 59.6h0M209.6 56.6h0M195.7 58.0h0M200.3 45.0h0M212.8 51.8h0M184.5 60.6h0M198.8 70.5h0M185.4 66.6h0M200.6 53.2h0M202.7 51.7h0M217.9 65.1h0M198.8 41.9h0M197.6 56.6h0M199.6 41.5h0M190.8 59.4h0M196.8 47.6h0M198.9 53.7h0M189.9 69.3h0M197.7 54.3h0M206.0 62.5h0M194.6 61.8h0M217.1 55.3h0M213.4 58.2h0M203.9 62.5h0" stroke="#d4ccc8" stroke-width="1.00" stroke-linecap="round" opacity="0.9" fill="none"/>
<path d="M188.9 45.9h0M191.7 50.9h0M209.5 54.5h0M192.3 76.9h0M191.9 67.0h0M189.9 73.2h0M191.2 63.9h0M206.2 60.9h0M193.0 70.0h0M218.8 62.5h0M204.6 64.6h0M204.7 63.3h0M214.3 51.5h0M198.9 60.7h0M189.2 75.1h0M185.9 60.5h0M195.4 74.6h0M197.5 75.5h0M204.1 53.5h0M197.7 71.6h0M200.1 56.5h0M187.4 60.1h0M191.8 48.4h0M210.9 52.3h0M216.0 61.0h0M188.9 64.3h0M208.6 60.2h0M187.1 75.1h0M195.8 78.1h0M191.6 72.8h0M192.2 52.8h0M198.7 53.5h0M199.9 71.1h0M189.6 73.0h0M216.2 57.3h0M208.0 61.6h0M198.6 75.7h0M190.6 64.0h0M219.9 57.5h0M191.6 63.0h0M193.2 44.3h0M188.5 67.0h0M199.3 48.4h0M190.3 65.8h0M194.4 73.2h0M187.9 76.7h0M205.7 58.2h0M193.4 78.7h0M208.9 61.4h0M203.7 63.9h0M214.4 63.8h0M213.5 61.3h0M218.5 61.7h0M190.4 74.5h0M207.6 53.5h0M214.2 58.6h0M188.5 74.7h0M199.0 47.2h0M192.9 57.7h0M194.2 66.1h0M199.7 43.9h0M205.5 64.4h0M220.6 52.7h0M197.6 77.0h0M189.2 55.8h0M199.6 58.9h0M196.6 64.2h0M204.3 62.7h0M207.8 56.2h0M187.8 73.3h0M197.8 58.2h0M212.8 57.3h0M198.7 64.4h0M211.0 55.2h0M190.4 66.7h0M205.7 56.5h0M194.9 69.8h0M184.6 67.2h0M189.1 71.2h0M190.6 52.2h0M214.1 60.4h0M219.2 59.1h0M191.3 61.8h0M210.1 58.1h0M191.6 48.9h0M194.1 64.4h0M206.1 59.1h0M194.0 66.4h0M210.1 60.3h0M196.9 63.8h0M220.2 63.6h0M197.5 54.8h0M195.1 65.9h0M205.0 52.5h0M194.3 67.2h0M185.9 66.9h0M188.9 74.1h0M195.7 77.5h0M203.1 62.0h0M199.6 52.7h0M202.3 64.1h0M210.6 52.3h0M201.0 65.0h0M200.4 38.1h0M187.0 64.7h0M195.1 69.8h0M185.5 71.4h0M189.2 42.3h0M190.4 76.1h0M194.7 57.4h0M217.4 68.6h0M200.6 52.7h0M183.7 56.7h0M201.1 60.1h0M203.4 48.2h0M217.7 53.3h0M211.7 61.4h0M189.2 65.4h0M216.2 69.6h0M188.0 68.4h0M212.2 55.7h0M206.5 53.3h0M200.3 43.9h0M199.9 54.3h0M221.6 61.8h0M186.5 63.9h0M193.3 43.8h0M203.4 49.1h0M192.6 77.9h0M198.3 47.4h0M195.7 59.2h0M195.2 63.7h0M203.6 57.0h0M205.9 60.6h0M186.0 49.4h0M202.8 63.4h0M192.1 66.0h0M203.9 53.2h0M191.1 76.6h0M194.9 76.7h0M216.2 65.3h0M190.5 63.9h0M191.6 75.9h0M214.3 53.2h0M212.7 65.3h0M215.1 50.7h0M199.0 54.9h0M215.9 59.2h0M187.8 54.1h0M194.7 58.4h0M194.4 62.7h0M221.2 61.5h0M200.5 68.4h0M190.1 53.2h0M203.7 50.4h0M212.9 62.6h0M189.7 63.0h0M203.2 55.6h0M214.4 61.1h0M184.7 48.3h0M198.8 51.1h0M205.9 55.5h0M200.2 60.9h0M187.3 53.9h0M189.4 77.5h0M190.8 60.7h0M185.8 73.2h0M211.8 63.3h0M184.6 64.6h0M186.6 72.0h0M209.6 60.4h0M195.0 75.9h0M201.0 55.6h0M197.4 71.6h0M193.3 49.1h0M216.1 61.0h0M190.1 61.7h0M185.4 63.9h0M217.3 65.1h0M189.1 66.5h0M202.1 56.1h0M219.2 62.8h0M189.0 69.5h0M194.6 73.8h0M185.8 69.3h0M193.9 66.3h0M220.3 66.5h0M191.4 45.9h0M194.3 67.9h0M185.3 60.9h0M208.7 57.4h0M191.9 78.2h0M211.0 55.3h0M202.5 60.3h0M210.6 55.8h0M185.2 62.6h0M206.7 54.9h0M205.8 54.3h0M199.1 73.4h0M204.1 60.1h0M215.7 52.8h0M191.6 78.4h0M202.1 48.2h0M196.7 56.0h0M194.8 78.3h0M202.9 48.5h0M189.0 58.1h0M185.5 55.5h0M204.9 61.0h0M184.9 66.4h0M190.3 55.9h0M202.2 48.5h0M219.5 55.3h0M216.8 58.3h0M219.5 68.3h0M222.1 56.0h0M222.7 60.6h0M187.0 72.9h0M194.4 76.4h0M211.7 62.3h0M203.2 63.3h0M219.4 68.0h0M197.1 66.2h0M214.0 67.5h0M196.0 77.9h0M193.9 70.4h0M188.4 63.4h0M196.8 58.3h0M200.2 62.4h0M214.7 59.6h0M204.0 58.7h0M200.4 68.3h0M220.3 67.6h0M211.6 58.1h0M211.0 59.3h0M189.2 65.5h0M213.1 54.3h0M185.7 52.4h0M191.7 77.1h0M188.2 64.7h0M194.5 54.3h0M198.1 69.6h0M209.9 50.4h0M206.8 61.9h0M211.4 58.6h0M206.9 61.8h0M184.8 63.2h0M194.6 59.6h0M184.8 57.5h0M184.9 57.0h0M186.5 71.6h0M220.9 62.5h0M185.7 72.9h0M214.4 59.1h0M186.5 54.5h0M213.9 66.6h0M217.8 69.7h0M201.1 47.8h0M198.6 53.4h0M184.9 67.5h0M215.6 53.5h0M187.1 69.9h0M200.3 48.7h0M201.6 52.0h0M186.1 52.6h0M222.2 64.0h0M198.8 39.5h0M184.6 63.4h0M197.6 74.9h0M202.8 49.7h0M190.5 76.0h0M215.4 53.7h0M198.7 51.7h0M216.7 48.6h0M213.6 59.2h0M198.5 56.8h0M196.5 70.8h0M187.4 50.5h0M202.2 56.6h0M195.9 74.2h0M202.0 54.0h0M202.0 49.9h0M200.8 52.9h0M217.2 52.1h0M211.4 58.9h0M203.5 64.7h0M201.7 61.6h0M190.5 71.5h0M190.6 70.8h0M207.9 58.4h0M215.2 50.2h0M197.0 54.9h0M187.8 49.0h0M205.0 65.2h0M203.9 62.3h0M195.8 68.3h0M222.4 56.9h0M216.7 64.0h0M203.1 48.6h0M201.8 54.7h0M195.5 49.9h0M188.6 75.3h0M219.1 59.4h0M203.1 57.1h0M197.2 68.3h0M197.1 78.0h0M205.8 53.7h0M201.2 51.0h0M217.4 52.0h0M191.1 74.7h0M199.0 53.2h0M188.9 63.1h0M190.1 45.0h0M187.5 66.0h0M188.5 70.3h0M212.4 51.8h0M189.0 65.4h0M216.0 56.9h0M200.2 63.1h0M196.6 76.3h0M208.5 61.1h0M185.7 58.1h0M188.4 43.6h0M220.8 60.4h0M192.0 63.3h0M202.0 68.8h0M210.1 53.3h0M210.9 53.5h0M215.1 68.6h0M187.2 72.2h0M193.9 63.2h0M199.0 54.1h0M198.0 63.3h0M209.5 54.4h0M186.4 68.9h0M221.3 65.9h0M184.6 64.7h0M196.2 57.0h0M186.2 66.5h0M185.3 62.4h0M206.6 61.9h0M203.7 55.6h0M218.5 55.3h0M195.0 60.7h0M214.8 52.0h0M199.0 52.5h0M199.6 53.3h0M198.4 69.6h0M217.3 66.3h0M186.8 64.9h0M196.8 64.2h0M194.4 44.2h0M202.3 45.4h0M191.6 70.2h0M214.2 64.5h0M198.5 52.9h0M189.9 66.3h0M217.2 52.4h0M199.4 54.5h0M198.8 41.5h0M192.5 73.2h0M193.5 45.0h0M191.6 63.4h0M205.0 55.2h0M191.4 49.0h0M196.3 72.0h0M189.7 73.3h0M207.6 55.6h0M191.1 77.5h0M217.0 51.3h0M194.2 57.6h0M195.7 73.5h0M200.4 41.9h0M198.9 54.7h0M197.1 42.9h0M201.3 66.1h0M220.2 53.7h0M184.9 46.1h0M186.5 60.5h0M187.5 62.8h0M189.7 63.5h0M214.3 60.7h0M206.2 54.2h0M219.1 51.5h0M199.0 72.9h0M187.3 52.3h0M200.9 52.2h0M190.3 74.7h0M194.2 70.2h0M220.4 59.6h0M206.8 60.1h0M186.6 46.7h0M195.9 62.2h0M199.1 52.4h0M186.3 53.3h0M208.0 57.0h0M199.3 73.8h0M192.2 44.6h0M190.8 77.9h0M185.6 72.5h0M198.5 58.3h0M202.1 50.0h0M196.4 76.0h0M186.8 72.9h0M191.7 77.8h0M207.1 53.8h0M187.0 63.8h0M203.8 51.3h0M183.8 61.2h0M191.2 63.9h0M189.8 69.6h0M199.3 48.3h0M189.8 64.2h0M194.7 54.4h0M211.0 50.6h0M198.8 37.7h0M205.3 63.7h0M198.6 56.2h0M220.1 51.5h0M198.9 52.4h0M185.0 59.2h0M214.4 60.4h0M191.6 65.0h0M186.2 69.5h0M195.1 60.6h0M211.1 58.4h0M204.9 55.6h0M198.2 63.9h0M185.4 67.3h0M200.3 63.0h0M194.5 73.6h0M201.8 51.1h0M211.8 51.4h0M191.9 77.2h0M192.7 73.5h0M189.8 69.6h0M198.3 61.2h0M221.0 60.2h0M186.1 51.2h0M194.8 55.5h0M186.4 71.6h0M217.1 67.5h0M203.1 55.4h0M184.6 66.8h0M201.8 47.5h0M205.4 55.1h0M194.1 74.0h0M210.9 51.3h0M197.5 40.2h0M202.4 47.7h0M210.7 52.1h0M191.2 76.2h0M199.9 70.7h0M196.0 41.7h0M189.9 69.4h0M196.2 66.4h0M207.2 60.9h0M212.2 56.2h0M218.0 53.7h0M204.8 56.2h0M220.7 52.3h0M204.9 53.2h0M196.2 69.2h0M206.4 59.7h0M190.8 56.6h0M220.1 57.9h0M215.5 66.2h0M196.6 60.8h0M188.7 43.8h0M190.6 65.9h0M193.4 57.9h0M199.1 59.0h0M196.8 63.1h0M186.6 73.0h0M197.5 64.7h0M217.9 53.3h0M218.6 53.7h0M212.0 57.7h0M187.4 47.9h0M188.7 72.4h0M204.1 58.8h0M203.9 60.6h0M190.0 69.5h0M218.5 51.2h0M203.9 58.8h0M212.4 49.5h0M210.4 58.2h0M188.5 69.1h0M200.1 49.7h0M205.0 55.2h0M204.1 65.0h0M195.6 73.2h0M195.5 43.4h0M191.7 62.4h0M190.8 65.6h0M197.0 63.6h0M203.3 60.2h0M195.2 65.1h0M198.6 74.2h0M190.7 43.4h0M198.3 63.9h0M188.0 59.4h0M197.9 57.6h0M195.9 71.9h0M205.9 53.8h0M197.6 42.7h0M192.5 63.0h0M192.9 69.2h0M191.0 62.3h0M219.8 53.6h0M202.0 53.5h0M198.9 62.6h0M188.8 63.4h0M204.0 54.8h0M197.1 76.4h0M186.3 68.0h0M195.4 72.6h0M200.3 48.7h0M185.0 67.0h0M208.9 54.4h0M200.3 50.0h0M184.9 66.7h0M198.1 39.4h0M190.2 76.6h0M204.1 56.4h0M197.5 39.3h0M191.0 75.6h0M192.2 48.3h0M196.3 69.1h0M198.4 53.9h0M187.8 54.2h0M195.5 59.4h0M215.4 67.3h0M187.0 69.8h0M194.1 53.0h0M193.5 76.5h0M199.7 49.0h0M200.5 37.5h0M203.5 57.3h0M199.8 69.7h0M185.1 57.6h0M198.6 65.0h0M186.1 73.5h0M190.5 74.2h0M214.1 63.3h0M198.6 49.8h0M183.8 59.0h0M187.2 47.4h0M213.9 54.4h0M196.8 56.7h0M212.6 59.6h0M192.1 61.5h0M189.6 76.7h0M191.8 68.4h0M212.8 49.6h0M198.9 46.0h0M206.3 58.1h0M204.6 55.2h0M187.3 61.0h0M215.5 64.6h0M192.3 56.5h0M196.3 57.0h0M206.6 55.5h0M185.6 60.5h0M218.1 54.8h0M208.8 59.1h0M215.9 65.6h0M197.5 73.6h0M198.7 56.3h0M191.5 62.4h0M201.2 64.6h0M199.8 60.3h0M218.8 60.9h0M187.9 63.5h0M202.3 67.2h0M214.5 49.0h0M185.6 68.4h0M205.7 57.4h0M188.7 49.4h0M200.5 55.5h0M196.4 63.5h0M200.2 72.9h0M189.3 69.9h0M192.4 61.7h0M191.3 72.6h0M196.9 42.9h0M192.5 56.2h0M217.4 66.3h0M193.4 43.7h0M192.0 67.6h0M186.6 72.3h0M209.2 53.7h0M188.9 68.2h0M198.4 64.5h0M199.0 61.6h0M197.3 73.2h0M198.5 47.1h0M211.8 50.1h0M202.4 67.8h0M198.7 53.3h0" stroke="#cd6245" stroke-width="1.00" stroke-linecap="round" opacity="0.8" fill="none"/>
<path d="M190.1 65.1h0M219.5 51.0h0M186.0 52.4h0M196.3 41.5h0M210.5 58.4h0M215.9 59.1h0M208.1 56.6h0M198.8 67.7h0M207.4 52.4h0M209.5 59.4h0M187.8 68.2h0M194.0 66.2h0M191.3 71.6h0M197.4 65.8h0M192.6 70.8h0M189.4 60.1h0M205.8 52.9h0M195.1 71.3h0M186.5 54.6h0M211.7 58.9h0M189.7 53.5h0M195.2 55.7h0M200.3 72.6h0M183.8 57.5h0M185.4 47.4h0M207.7 59.7h0M213.8 51.2h0M188.2 52.4h0M216.6 55.2h0M199.2 69.8h0M198.6 75.2h0M195.7 68.4h0M189.9 64.5h0M209.6 58.3h0M218.5 58.9h0M216.1 67.9h0M194.2 68.4h0M195.2 54.5h0M191.5 52.2h0M187.2 49.2h0M213.3 57.8h0M198.9 70.6h0M194.2 72.5h0M185.2 54.8h0M210.6 60.1h0M196.7 63.2h0M185.3 70.5h0M216.0 65.8h0M211.0 60.5h0M196.3 70.4h0M188.6 61.3h0M187.6 68.3h0M203.4 63.5h0M190.1 54.4h0M209.8 55.4h0M197.7 41.4h0M212.9 53.5h0M184.8 63.0h0M201.1 68.5h0M213.1 54.9h0M190.3 64.8h0M212.0 63.0h0M193.5 44.5h0M185.7 43.9h0M197.7 51.0h0M186.1 72.4h0M191.7 55.4h0M209.3 54.4h0M197.9 68.8h0M205.8 63.1h0M194.1 76.5h0M190.3 47.9h0M218.9 50.8h0M204.0 54.4h0M217.0 52.0h0M195.0 69.5h0M197.0 48.8h0M212.8 65.0h0M193.9 48.5h0M187.2 51.1h0M185.1 46.7h0M194.3 77.3h0M202.5 65.8h0M210.1 55.6h0M202.2 49.5h0M220.9 66.3h0M197.9 43.7h0M199.1 55.5h0M215.9 66.4h0M217.8 67.8h0M186.2 50.3h0M193.3 71.9h0M190.7 46.9h0M196.5 62.6h0M196.6 68.1h0M192.3 62.3h0M189.8 43.2h0M215.3 63.3h0M206.1 52.7h0M198.3 38.8h0M193.6 69.8h0M195.2 68.6h0M191.5 62.0h0M198.0 59.3h0M198.3 61.8h0M212.9 66.4h0M200.6 38.4h0M198.5 70.1h0M203.1 66.8h0M197.2 53.8h0M191.3 43.7h0M203.6 53.4h0M206.7 63.4h0M221.6 63.2h0M199.9 69.5h0M186.5 46.9h0M190.5 71.4h0M184.9 53.6h0M199.2 65.0h0M196.9 50.7h0M197.6 61.5h0M213.4 56.5h0M200.1 56.2h0M186.6 53.5h0M196.0 68.4h0M196.9 69.1h0M186.3 61.6h0M220.2 59.3h0M199.7 37.3h0M197.0 69.9h0M190.9 51.3h0M208.8 58.0h0M215.6 54.2h0M218.8 62.2h0M223.0 60.7h0M216.8 68.3h0M190.1 70.1h0M203.3 66.1h0M188.6 55.5h0M222.4 58.7h0M222.9 58.3h0M186.6 73.7h0M210.9 60.6h0M219.0 64.2h0M194.6 73.3h0M216.6 52.2h0M212.8 50.0h0M204.0 60.0h0M186.8 72.8h0M197.3 53.9h0M189.1 65.5h0M211.1 51.9h0M184.4 47.9h0M189.8 55.8h0M201.5 53.0h0M219.8 53.0h0M191.0 76.8h0M201.4 62.3h0M196.5 77.4h0M194.4 76.1h0M197.0 69.2h0M188.7 64.5h0M196.3 40.9h0M212.4 57.5h0M194.1 67.6h0M199.1 38.7h0M189.7 68.2h0M194.2 75.3h0M196.1 70.4h0M197.8 68.7h0M200.9 45.7h0M191.5 48.9h0M188.1 73.4h0M195.2 53.2h0M217.7 68.5h0M184.9 45.3h0M189.0 69.5h0M214.7 60.9h0M195.5 69.9h0M190.9 66.2h0M206.0 53.4h0M210.5 61.2h0M220.2 67.9h0M206.7 57.5h0M189.5 50.2h0M189.0 44.1h0M203.8 52.2h0M209.8 53.0h0M217.4 53.4h0M209.5 51.8h0M198.6 67.8h0M206.8 59.3h0M189.9 63.0h0M194.8 49.2h0M193.6 49.5h0M193.4 50.1h0M195.2 71.9h0M199.3 57.9h0M191.7 56.0h0M212.8 56.2h0M222.4 63.0h0M193.9 55.5h0M192.1 70.8h0M196.6 42.8h0M219.0 51.3h0M221.4 55.6h0M190.2 43.0h0M205.5 54.9h0M187.8 52.6h0M190.7 56.1h0M199.2 74.1h0M185.0 51.4h0M212.2 55.7h0M186.5 51.9h0M213.7 62.8h0M197.3 53.3h0M196.5 64.8h0M218.0 49.5h0M219.8 54.5h0M203.0 47.6h0" stroke="#ffffff" stroke-width="0.56" stroke-linecap="round" opacity="0.9" fill="none"/>
<path d="M132.3 131.1h0M146.7 144.8h0M165.5 138.2h0M151.9 144.5h0M162.7 143.8h0M132.8 145.2h0M140.1 132.7h0M156.9 128.4h0M136.1 152.2h0M134.7 131.3h0M156.4 148.4h0M141.3 144.1h0M144.4 149.0h0M140.1 151.0h0M164.4 138.6h0M130.7 145.9h0M150.4 149.7h0M131.8 155.0h0M135.5 141.5h0M166.9 152.4h0M166.3 139.6h0M137.7 134.6h0M167.0 149.8h0M160.4 141.1h0M161.5 141.2h0M131.5 138.1h0M136.9 122.4h0M148.4 151.8h0M129.5 135.5h0M136.5 162.8h0M145.4 153.6h0M139.7 155.2h0M156.7 138.5h0M142.3 136.3h0M139.4 154.2h0M142.3 136.9h0M157.0 137.8h0M131.3 148.2h0M135.1 165.7h0M149.7 152.0h0M139.9 146.6h0M143.6 161.0h0M164.0 152.2h0M138.6 146.0h0M137.0 133.2h0M162.1 141.2h0M168.4 146.7h0M156.4 147.3h0M134.6 134.3h0M162.1 136.8h0M164.5 143.1h0M162.5 146.8h0M160.7 129.1h0M135.8 140.7h0M147.6 142.8h0M144.3 146.5h0M140.3 132.4h0M134.0 151.7h0M136.1 164.7h0M136.7 164.4h0M139.6 144.1h0M144.0 151.2h0M141.4 130.6h0M141.2 133.2h0M138.2 127.9h0M136.5 151.9h0M143.4 166.0h0M157.2 131.2h0M161.8 152.3h0M139.1 158.2h0M149.5 140.2h0M139.3 163.0h0M149.0 144.2h0M132.1 142.1h0M139.4 133.6h0M141.3 140.4h0M141.4 127.6h0M142.2 162.8h0M165.4 150.4h0M133.2 148.4h0M150.1 138.5h0M153.6 150.2h0M140.1 134.9h0M134.4 145.3h0M138.1 147.4h0M145.4 164.6h0M137.5 149.8h0M161.0 147.8h0M138.4 157.7h0M131.1 134.7h0M136.8 122.6h0M159.1 148.1h0M150.2 158.8h0M150.6 142.5h0M141.4 153.3h0M138.5 122.1h0M137.0 130.6h0M136.1 147.9h0M148.1 148.1h0M142.1 155.2h0M168.4 144.1h0M136.2 164.9h0M156.5 148.3h0M157.2 137.4h0M164.8 148.4h0M133.6 162.2h0M138.9 128.7h0M158.8 136.2h0M150.2 152.9h0M139.8 125.8h0M146.7 143.7h0M154.5 148.4h0M130.7 149.1h0M143.2 146.6h0M158.9 147.3h0M149.4 142.3h0M153.5 147.8h0M137.8 147.5h0M138.8 150.8h0M134.5 155.8h0M162.8 149.6h0M163.8 152.0h0M162.5 151.2h0M155.3 140.2h0M150.2 140.3h0M163.6 134.4h0M135.0 145.2h0M138.3 151.8h0M136.6 147.2h0M156.4 137.1h0M139.5 166.1h0M143.8 133.8h0M133.8 156.4h0M161.0 140.1h0M161.9 150.0h0M130.6 132.3h0M151.2 137.8h0M131.5 152.9h0M132.6 141.0h0M150.1 153.6h0M132.3 145.0h0M132.3 159.3h0M143.7 142.1h0M141.5 155.1h0M138.1 156.1h0M143.8 140.1h0M138.4 164.2h0M148.9 161.6h0M143.1 151.5h0M134.5 133.8h0M139.4 129.2h0M161.0 143.2h0M154.9 136.9h0M150.3 145.0h0M148.5 141.9h0M151.0 141.1h0M150.2 151.4h0M136.9 136.8h0M133.9 157.5h0M161.8 133.0h0M164.1 142.1h0M160.8 148.4h0M133.1 139.0h0M155.5 145.0h0M163.8 138.3h0M140.4 122.7h0M155.3 141.1h0M142.3 131.7h0M136.0 142.7h0M129.8 153.3h0M143.6 143.1h0M134.2 159.3h0M139.0 143.6h0M147.1 142.8h0M143.1 132.9h0M159.4 130.6h0M138.9 148.5h0M145.3 165.0h0M134.4 132.4h0M158.0 130.7h0M132.5 162.6h0M129.4 140.8h0M141.3 134.9h0M138.7 153.9h0M136.9 137.6h0M141.0 127.1h0M141.8 146.2h0M160.3 142.0h0M159.9 130.1h0M168.0 147.2h0M139.3 127.4h0M146.9 147.4h0M164.9 148.2h0M151.8 149.9h0M135.6 124.9h0M160.7 133.2h0M131.5 137.8h0M163.8 145.9h0M150.5 143.3h0M157.4 142.4h0M136.6 132.6h0M166.1 153.9h0M130.8 137.4h0M160.4 144.1h0M132.5 156.7h0M142.0 165.3h0M158.8 151.9h0M154.6 141.8h0M144.4 165.8h0M146.4 165.7h0M143.3 151.5h0M158.2 136.5h0M137.9 143.6h0M158.1 138.3h0M162.2 137.8h0M142.3 150.4h0M137.6 166.3h0M130.2 146.6h0M135.1 144.3h0M162.2 144.7h0M134.6 165.9h0M134.4 133.6h0M129.6 150.7h0M139.9 165.5h0M141.5 167.7h0M162.4 140.3h0M134.6 141.0h0M143.3 148.2h0M129.0 141.8h0M132.3 158.2h0M160.8 139.5h0M138.0 143.6h0M158.8 148.2h0M137.7 157.4h0M144.2 164.7h0M139.1 147.7h0M133.7 142.6h0M155.3 143.7h0M134.5 133.3h0M135.8 124.0h0M153.4 140.2h0M134.7 148.0h0M139.6 154.8h0M166.8 144.4h0M143.9 140.3h0M160.0 139.8h0M138.1 141.5h0M135.9 154.6h0M155.5 146.3h0M162.3 129.1h0M146.7 164.8h0M159.5 147.1h0M130.0 137.1h0M165.1 145.8h0M153.9 144.7h0M166.1 144.5h0M135.2 154.7h0M167.6 149.5h0M130.0 156.0h0M133.5 156.6h0M136.4 149.9h0M155.1 132.6h0M151.7 147.9h0M148.1 139.6h0M149.1 150.0h0M137.0 130.2h0M133.7 137.1h0M140.9 129.1h0M130.0 151.4h0M145.3 149.3h0M146.9 142.6h0M134.9 160.6h0M137.0 138.0h0M160.9 145.0h0M163.3 149.7h0M155.9 142.3h0M161.2 132.5h0M137.3 167.3h0M156.4 146.3h0M145.6 145.3h0M153.5 144.7h0M162.9 152.7h0M167.9 143.8h0M164.3 145.2h0M139.2 152.1h0M131.7 159.3h0M130.5 153.3h0M132.2 156.5h0M152.8 137.9h0M159.9 130.7h0M133.5 140.7h0M142.9 135.4h0M151.3 140.7h0M160.0 132.2h0M133.9 144.4h0M142.9 131.0h0M161.8 132.8h0M159.5 151.1h0M158.3 140.3h0M142.4 127.7h0M166.5 141.5h0M143.3 150.3h0M134.4 149.1h0M153.9 149.9h0M143.9 150.9h0M141.2 129.5h0M147.3 139.1h0M161.2 138.9h0M141.8 140.8h0M144.2 153.5h0M152.3 151.9h0M155.7 136.0h0M131.7 146.0h0M149.7 158.6h0M130.2 143.4h0M146.0 139.5h0M154.9 139.0h0M131.0 155.0h0M160.8 138.0h0M137.2 155.0h0M134.5 134.6h0M159.4 143.9h0M131.9 139.5h0M142.3 147.9h0M133.0 139.0h0M145.2 134.8h0M143.6 145.0h0M146.0 154.8h0M161.3 135.1h0M161.2 148.1h0M140.2 132.8h0M133.7 132.4h0M147.1 140.3h0M163.4 130.7h0M140.3 150.6h0M164.8 139.0h0M159.6 143.5h0M133.6 147.0h0M165.6 138.1h0M145.4 158.4h0M156.2 133.0h0M137.4 164.1h0M157.3 130.2h0M140.9 127.3h0M131.3 149.8h0M145.5 167.7h0M131.1 159.1h0M158.1 146.3h0M149.8 153.4h0M163.2 153.6h0M161.4 132.3h0M140.7 154.9h0M162.3 150.8h0M143.9 136.8h0M138.2 160.0h0M132.8 133.9h0M137.4 149.4h0M142.0 154.3h0M140.8 134.2h0M138.3 161.9h0M130.3 151.3h0M165.9 151.1h0M132.8 162.5h0M145.1 167.2h0M146.2 139.0h0M137.3 141.3h0M161.9 153.3h0M150.3 139.9h0M140.8 132.7h0M137.1 144.7h0M140.4 125.4h0M137.2 125.2h0M163.3 133.5h0M147.9 144.3h0M161.3 152.2h0M157.3 148.4h0M159.7 135.2h0M140.1 153.2h0M150.9 146.9h0M135.0 159.3h0M155.2 136.2h0M168.5 150.6h0M132.1 161.7h0M160.4 150.9h0M166.1 151.1h0M158.6 137.2h0M156.8 133.3h0M138.6 151.2h0M140.2 150.9h0M158.7 135.2h0M136.0 158.5h0M144.5 139.0h0M132.7 159.2h0M149.8 161.2h0M130.9 140.4h0M133.3 145.8h0M155.7 148.8h0M137.6 146.4h0M133.9 141.4h0M150.0 139.6h0M147.7 152.1h0M158.8 143.0h0M156.4 141.9h0M144.5 139.4h0M159.7 134.7h0M144.1 133.5h0M139.1 153.2h0M160.3 142.9h0M139.0 144.4h0M140.1 147.8h0M145.9 136.9h0M142.7 139.1h0M142.2 150.6h0M158.0 146.8h0M144.2 144.6h0M165.8 142.1h0M161.2 140.2h0M137.0 146.7h0M141.5 165.5h0M169.0 152.0h0M144.6 146.5h0M149.5 161.0h0M162.7 141.0h0M157.8 132.6h0M152.0 140.1h0M133.9 159.3h0M142.3 137.1h0M141.0 133.8h0M133.5 128.3h0M162.8 145.2h0M163.0 135.8h0M131.2 156.0h0M163.8 152.3h0M148.7 140.6h0M134.5 154.6h0M139.3 142.2h0M146.0 143.6h0M133.3 153.5h0M136.5 144.4h0M140.4 154.8h0M138.6 167.4h0M164.8 140.5h0M162.9 135.4h0M156.1 137.6h0M158.2 140.9h0M162.0 136.9h0M134.4 159.5h0M139.1 137.2h0M134.4 138.8h0M166.6 143.9h0M135.1 144.6h0M138.7 144.8h0M137.2 159.8h0M147.4 147.9h0M139.8 153.5h0M153.8 145.2h0M142.7 129.7h0M152.9 138.6h0M142.4 130.4h0M137.9 151.0h0M143.8 153.8h0M130.7 148.1h0M143.5 139.0h0M163.5 146.5h0M158.9 129.4h0M146.1 140.2h0M159.0 130.2h0M130.7 141.1h0M151.5 142.8h0M165.4 144.4h0M140.9 164.8h0M138.9 127.3h0M144.4 143.2h0M136.5 151.7h0M149.5 158.3h0M140.2 151.6h0M137.7 136.7h0M145.9 149.8h0M131.0 131.8h0M135.9 141.3h0M138.3 128.5h0M130.0 146.5h0M156.6 133.7h0M137.6 135.9h0M138.8 136.4h0M147.0 137.9h0M139.3 158.1h0M164.7 151.4h0M145.1 167.4h0M150.6 146.1h0M140.3 136.1h0M139.5 123.4h0M131.1 139.6h0M135.7 143.4h0M163.0 129.5h0M131.9 148.4h0M142.9 153.4h0M156.1 130.2h0M131.0 141.0h0M138.9 163.9h0M149.8 162.2h0M134.9 155.2h0M129.7 138.1h0M148.3 150.2h0M142.9 137.1h0M130.2 153.3h0M166.6 149.2h0M140.8 130.2h0M139.1 147.8h0M141.5 129.7h0M136.5 152.7h0M159.5 148.5h0M142.3 149.0h0M133.4 162.4h0M136.9 158.1h0M134.6 139.1h0M135.8 164.4h0M140.0 148.4h0M148.4 144.4h0M166.9 140.8h0M137.7 152.2h0M160.7 146.0h0M135.1 134.0h0M154.9 139.4h0M144.3 165.3h0M130.5 151.7h0M130.8 156.2h0M159.0 132.0h0M140.7 137.9h0M144.5 145.6h0M149.7 140.9h0M137.8 154.1h0M130.7 143.9h0M135.1 151.5h0M165.3 138.3h0M159.9 145.3h0M163.3 147.4h0M133.7 133.7h0M138.0 158.5h0M146.3 141.7h0M142.0 145.5h0M152.5 138.3h0M133.5 137.5h0M144.5 151.6h0M149.3 146.0h0M149.0 148.3h0M153.3 150.8h0M139.9 142.7h0M147.5 149.3h0M168.8 153.4h0M130.0 140.1h0M135.6 158.1h0M140.0 127.4h0M137.1 165.1h0M138.1 124.8h0M138.9 128.6h0M149.5 137.6h0M140.1 158.6h0M135.2 134.9h0M143.0 139.4h0M149.0 155.8h0M140.7 164.1h0M157.6 142.9h0M163.1 135.0h0M149.0 164.3h0M142.5 155.0h0M134.0 144.6h0M137.6 139.7h0M149.4 156.6h0M144.8 145.8h0M158.5 146.8h0M137.7 142.9h0M144.6 166.8h0M136.2 165.1h0M163.8 146.5h0M142.6 150.8h0M149.7 153.4h0M157.3 145.0h0M137.1 138.5h0M164.9 148.8h0M141.0 168.2h0M159.6 150.7h0M129.1 147.4h0M129.5 148.8h0M165.7 143.6h0M138.5 124.0h0M142.1 140.4h0M159.3 128.1h0M162.2 131.6h0M147.6 142.0h0M142.8 134.4h0M145.1 135.3h0M139.8 160.2h0M133.3 133.4h0M134.1 135.3h0M134.2 129.0h0M139.6 153.5h0M159.5 151.0h0M157.7 138.8h0M148.3 150.1h0M144.6 148.1h0M129.2 144.8h0M136.0 124.7h0M138.7 160.8h0M129.2 138.8h0M130.8 148.2h0M152.0 150.2h0M162.1 141.6h0M168.8 153.7h0M149.7 163.5h0M142.4 143.3h0M146.2 145.8h0M146.8 145.8h0M156.6 146.7h0M147.3 164.9h0M147.6 164.1h0M165.8 144.5h0M157.3 133.5h0M156.8 142.9h0M133.6 137.3h0M136.4 130.3h0M158.8 130.9h0M167.5 144.2h0M137.0 137.6h0M132.6 139.6h0M159.0 137.8h0M134.9 142.7h0M135.5 133.1h0M137.5 146.6h0M162.3 140.3h0M137.6 157.1h0M155.7 134.2h0M134.8 134.4h0M132.8 151.9h0M148.3 145.7h0M131.8 145.1h0M149.8 149.2h0M165.2 154.1h0M158.5 141.8h0M139.1 165.8h0M138.9 147.9h0M142.6 148.7h0M136.5 160.6h0M137.6 159.6h0M132.3 135.4h0M150.3 154.0h0M146.8 147.1h0M131.9 142.2h0M167.8 144.2h0M155.1 148.6h0M148.8 151.2h0M129.8 153.7h0M151.4 140.4h0M169.5 150.3h0M158.6 131.7h0M136.5 132.3h0M148.5 140.6h0M137.7 162.8h0M140.0 165.6h0M161.7 139.5h0M142.5 134.3h0M140.3 143.4h0M129.5 140.1h0M159.7 127.6h0M154.6 151.1h0M141.5 145.6h0M151.9 151.7h0M166.4 143.4h0M136.0 146.7h0M138.3 144.9h0M134.6 132.2h0M150.8 148.6h0M159.1 148.2h0M153.2 150.0h0M134.7 131.3h0M160.1 142.8h0M152.4 149.1h0M150.4 156.1h0M133.7 147.9h0M150.6 145.4h0M153.6 145.9h0M155.8 140.6h0M142.8 164.6h0M140.6 146.5h0M147.7 141.9h0M161.2 131.0h0M158.2 140.2h0M152.7 145.5h0M142.8 146.3h0M153.7 137.6h0M133.6 144.8h0M148.3 155.9h0M131.3 151.0h0M144.8 166.3h0M137.2 145.2h0M166.5 147.2h0M155.7 138.9h0M135.1 131.3h0M140.7 146.9h0M148.2 146.6h0M149.3 153.1h0M139.1 122.9h0M158.3 129.5h0M132.0 136.2h0M132.6 143.7h0M144.8 146.1h0M162.5 142.7h0M141.2 163.2h0M135.5 166.4h0M141.9 165.6h0M163.1 136.7h0M162.3 153.4h0M166.0 148.2h0M134.6 135.7h0M129.7 152.3h0M162.6 150.6h0M136.9 166.4h0M159.6 146.7h0M140.1 134.3h0M157.7 137.1h0M144.1 133.2h0M163.9 152.0h0M146.3 140.8h0M154.5 135.0h0M140.6 164.4h0M134.9 127.4h0M152.2 144.4h0M162.5 132.0h0M135.1 130.4h0M152.3 144.7h0M135.8 162.0h0M138.9 157.8h0M155.9 140.8h0M136.3 127.6h0M147.8 143.0h0M159.2 150.9h0M136.7 139.9h0M137.3 144.1h0M132.4 145.6h0M144.7 141.9h0M134.7 153.8h0M162.5 136.6h0M153.2 150.7h0M158.4 149.1h0M145.7 149.6h0M137.0 122.2h0M138.6 136.3h0M144.9 137.3h0M162.2 139.1h0M143.9 146.9h0M135.8 130.2h0M146.9 165.3h0M152.9 150.5h0M136.2 137.7h0M136.8 135.5h0M135.8 127.5h0M139.2 156.4h0M146.4 149.0h0M154.8 141.4h0M145.8 143.4h0M134.7 163.0h0M144.3 143.3h0M160.9 129.2h0M150.0 146.7h0M136.2 145.7h0M149.7 145.4h0M135.8 163.8h0M129.7 138.4h0M136.5 123.3h0M139.4 167.1h0M143.3 167.5h0M162.0 129.0h0M137.0 163.7h0M139.5 148.3h0M142.9 138.0h0M141.7 140.8h0M156.5 131.8h0M168.0 151.2h0M134.4 149.2h0M162.7 142.8h0M165.8 142.4h0M139.6 128.5h0M141.5 144.7h0M134.8 156.2h0M140.3 166.4h0M159.8 127.6h0M156.0 150.1h0M131.0 153.3h0M135.2 130.1h0M135.6 145.2h0M138.8 146.5h0M130.8 133.3h0M139.3 164.0h0M163.8 140.8h0M135.7 129.4h0M143.8 149.4h0M166.9 145.7h0M138.1 143.3h0M138.2 142.6h0M147.0 147.7h0M149.1 154.1h0M168.9 147.1h0M130.3 157.1h0M158.3 143.0h0M163.3 137.5h0M159.7 150.5h0M130.1 145.3h0M138.4 128.7h0M164.1 141.5h0M160.3 151.8h0M155.6 138.9h0M142.0 143.6h0M130.0 136.2h0M144.0 147.7h0M140.6 127.6h0M135.2 151.2h0M131.8 160.5h0M141.3 139.8h0M164.9 139.5h0M163.8 140.7h0M138.5 144.2h0M167.0 153.0h0M139.0 131.4h0M140.0 142.8h0M136.7 144.7h0M141.8 147.6h0M145.1 134.1h0M167.2 140.5h0M138.9 163.1h0M146.9 149.7h0M156.2 134.1h0M142.6 165.1h0M132.7 142.8h0M157.0 149.7h0M134.9 166.3h0M138.9 167.7h0M151.0 138.1h0M169.0 148.8h0M140.8 142.4h0M138.3 128.1h0M139.8 149.9h0M148.2 165.0h0M162.2 135.5h0M147.4 141.9h0M132.9 156.4h0M138.9 137.7h0M165.1 144.9h0M142.5 139.1h0M164.5 142.9h0M139.6 151.0h0M167.1 146.7h0M141.9 130.3h0M160.8 136.6h0M160.4 142.7h0M135.6 133.2h0M163.7 135.9h0M133.7 146.4h0M141.6 164.0h0M141.5 156.9h0M137.9 163.7h0M158.4 149.9h0M160.5 143.2h0M131.9 156.8h0M140.7 127.8h0M145.3 137.9h0M136.1 150.2h0M158.6 146.7h0M164.8 147.5h0M143.3 167.4h0M157.8 132.5h0M160.7 152.2h0M159.1 143.6h0M133.2 144.6h0M159.9 133.5h0M155.4 134.4h0M131.7 131.3h0M131.8 149.5h0M144.4 154.7h0M158.0 141.3h0M137.1 159.2h0M168.6 150.6h0M137.0 123.8h0M152.4 147.5h0M138.4 141.0h0M136.1 148.5h0M133.5 137.5h0M131.5 139.1h0M131.5 155.5h0M160.2 141.1h0M129.7 138.2h0M143.5 140.8h0M132.6 142.5h0M141.3 125.2h0M134.9 135.8h0M142.4 153.8h0M156.7 136.5h0M166.7 141.0h0M133.4 142.7h0M137.2 153.8h0M148.7 152.4h0M140.5 126.5h0M135.1 155.2h0M161.0 140.7h0M131.1 141.0h0M148.0 149.6h0M145.2 143.6h0M142.4 139.5h0M160.4 138.2h0M139.4 156.9h0M163.8 153.7h0M134.4 141.4h0M152.4 151.3h0M132.4 161.3h0M133.2 146.3h0M145.0 149.2h0M139.6 155.6h0M148.7 147.0h0M158.7 141.9h0M135.0 148.0h0M139.7 160.2h0M131.8 160.6h0M162.7 147.5h0M134.9 127.6h0M160.3 138.7h0M138.6 127.6h0M163.1 133.7h0M132.4 161.8h0M162.9 143.4h0M157.4 129.5h0M138.1 129.6h0M163.7 150.7h0M148.0 165.4h0M134.5 126.4h0M141.0 134.1h0M164.6 139.7h0M149.9 140.5h0M142.6 165.7h0M132.0 155.9h0M158.4 145.7h0M142.9 133.0h0M159.4 138.6h0M146.7 148.2h0M145.3 145.4h0M153.6 145.6h0M136.2 164.5h0M134.1 157.6h0M132.3 150.6h0M133.2 149.0h0M149.5 160.6h0M161.7 142.7h0M134.4 146.9h0M135.7 138.2h0M141.2 166.9h0M139.1 168.1h0M140.6 165.1h0M159.9 132.5h0M163.5 134.9h0M145.9 145.3h0M132.7 150.7h0M135.6 129.6h0M143.9 151.7h0M161.3 144.1h0M144.7 154.3h0M162.1 152.6h0M133.0 155.2h0M158.2 146.2h0M162.1 148.3h0M150.1 137.9h0M136.4 157.6h0M140.9 164.8h0M137.4 154.5h0M130.8 147.7h0M139.8 132.8h0M156.6 146.6h0M159.4 146.6h0M142.5 154.6h0M130.5 145.1h0M137.9 163.2h0M161.6 152.2h0M136.0 148.4h0M153.4 140.2h0M166.9 153.3h0M129.7 146.5h0M131.8 131.8h0M154.7 136.9h0M160.5 148.0h0M158.1 143.7h0M151.5 151.9h0M140.6 124.3h0M140.3 156.4h0M139.6 154.0h0M135.1 135.0h0M146.6 164.0h0M158.5 129.0h0M137.8 131.9h0M139.5 167.0h0M138.3 136.7h0M133.8 139.1h0M132.3 145.3h0M158.3 141.8h0M160.9 138.3h0M134.0 157.3h0M131.3 159.6h0M133.1 158.8h0M131.5 131.4h0M164.4 143.3h0M135.3 160.2h0M169.0 153.1h0M157.8 137.3h0M136.3 152.9h0M145.1 150.2h0M142.2 150.2h0M159.1 147.5h0M140.9 156.4h0M169.6 148.4h0M133.9 151.9h0M144.0 142.5h0M144.3 138.0h0M132.6 153.3h0M160.3 133.2h0M138.7 142.3h0M161.5 131.8h0M130.7 140.5h0M142.0 139.3h0M162.5 140.1h0M147.0 138.8h0M157.6 141.1h0M136.3 157.0h0M163.9 139.7h0M158.7 135.7h0M163.5 134.1h0M134.7 126.2h0M148.7 141.2h0M146.5 145.4h0M134.7 139.2h0M150.1 142.9h0M135.5 131.9h0M156.9 129.3h0M148.5 156.8h0M143.4 146.6h0M160.4 137.4h0M139.3 154.5h0M131.8 151.5h0M142.1 131.5h0M163.9 142.5h0M147.3 142.7h0M140.5 140.0h0M135.6 138.5h0M140.3 152.3h0M137.6 154.4h0M143.0 131.4h0M163.5 140.1h0M153.1 138.4h0M134.9 161.1h0M135.4 141.8h0M141.4 149.0h0M146.7 144.2h0M137.4 123.8h0M130.5 149.4h0M134.6 162.3h0M139.0 162.5h0M142.9 135.6h0M139.7 147.7h0M147.9 151.6h0M130.4 142.8h0M158.1 129.0h0M164.3 136.3h0M129.4 149.6h0M165.1 153.8h0M155.0 140.1h0M135.9 150.9h0M138.8 162.4h0M162.5 138.0h0M140.6 145.9h0M140.1 151.9h0M135.7 151.6h0M156.8 149.0h0M135.0 133.2h0M159.7 150.8h0M141.2 127.9h0M131.1 142.4h0M131.1 156.9h0M167.8 152.2h0M145.8 137.3h0M158.0 136.6h0M149.6 147.7h0M138.6 149.2h0M147.5 145.3h0M161.5 144.4h0M145.5 140.2h0M146.2 145.4h0M135.3 149.7h0M165.4 138.0h0M139.1 139.9h0M140.2 139.9h0M145.8 135.2h0M142.8 153.0h0M138.1 122.5h0M132.6 150.7h0M164.5 148.6h0M140.2 167.1h0M134.5 136.5h0M139.7 137.3h0M137.6 142.5h0M136.0 146.8h0M135.4 166.3h0M133.3 134.6h0M150.9 144.5h0M144.9 138.0h0M148.6 140.9h0M155.1 146.9h0M161.6 133.1h0M136.5 132.5h0M156.8 151.4h0M140.6 164.4h0M130.9 144.0h0M135.2 154.0h0M152.2 140.7h0M140.0 131.9h0M139.9 144.1h0M134.9 159.1h0M138.8 153.6h0M162.8 141.2h0M130.0 134.6h0M131.7 161.5h0M143.1 167.7h0M134.5 157.2h0M139.7 160.1h0M138.0 160.2h0M134.7 147.9h0M136.9 147.5h0M135.7 150.1h0M134.6 132.4h0M159.5 144.4h0M145.0 143.3h0M133.5 163.9h0M133.9 137.1h0M133.0 140.5h0M150.6 144.2h0M161.8 134.3h0M139.1 144.8h0M131.3 146.5h0M137.0 165.7h0M167.9 149.1h0M148.7 141.6h0M131.3 150.9h0M162.3 130.2h0M147.7 148.5h0M166.4 144.9h0M158.4 130.0h0M132.5 155.4h0M161.1 129.5h0M137.2 126.3h0M152.8 151.5h0M166.1 150.4h0M160.8 152.7h0M159.0 129.8h0M142.8 135.9h0M158.5 134.7h0M141.9 133.8h0M140.0 138.1h0M133.7 142.5h0M143.0 142.2h0M141.6 148.6h0M132.7 135.1h0M131.1 159.3h0M157.8 128.5h0M142.2 135.2h0M138.3 164.2h0M158.6 130.2h0M135.3 163.7h0M130.9 131.9h0M140.5 123.1h0M160.8 130.7h0M138.4 159.7h0M134.7 145.6h0M144.6 136.5h0M163.4 131.6h0M135.1 129.4h0M137.0 128.2h0M142.9 131.1h0M157.1 146.2h0M138.9 155.4h0M145.4 139.1h0M140.2 153.6h0M141.1 164.3h0M132.4 140.8h0M160.3 150.7h0M133.8 163.7h0M130.6 156.4h0M138.8 153.3h0M169.3 147.0h0M144.1 158.8h0M159.5 134.2h0M156.3 142.1h0M161.0 141.9h0M131.6 137.3h0M142.7 130.0h0M135.3 140.9h0M139.6 140.4h0M145.6 144.2h0M142.5 139.3h0M144.3 135.0h0M134.4 158.6h0M132.0 162.2h0M130.2 135.5h0M134.8 162.2h0M134.0 159.9h0M129.9 146.1h0M164.3 141.8h0M145.5 166.8h0M137.4 130.7h0M141.6 145.1h0M133.0 154.5h0M131.2 148.8h0M149.8 143.4h0M144.1 132.2h0M136.0 133.3h0M156.4 147.3h0M166.9 142.1h0M163.8 140.7h0M139.1 131.4h0M159.1 146.9h0M143.0 133.5h0M169.4 147.4h0M139.9 142.5h0M143.0 147.4h0M132.1 148.8h0M134.5 152.5h0M151.3 145.8h0M139.3 127.9h0M142.1 130.3h0M136.2 161.0h0M133.1 161.4h0M156.0 145.1h0M149.3 163.6h0M138.6 155.1h0M133.9 131.7h0M130.2 137.4h0M152.6 144.8h0M136.0 166.4h0M133.2 150.4h0M139.2 153.2h0M138.3 125.0h0M132.2 148.3h0M134.9 157.6h0M154.6 145.9h0M149.0 146.1h0M135.2 151.1h0M145.3 153.2h0M154.7 137.1h0M134.2 129.3h0M151.7 150.7h0M130.6 149.6h0M136.8 160.3h0M155.7 141.0h0M148.1 144.3h0M145.9 150.9h0M162.5 130.7h0M141.4 156.2h0M167.3 146.3h0M140.7 122.8h0M138.4 139.7h0M155.7 136.1h0M134.7 165.9h0M157.0 144.7h0M135.8 144.3h0M136.0 161.5h0M155.6 142.9h0M142.7 135.5h0M157.1 151.2h0M140.9 142.2h0M161.1 153.0h0M141.9 165.6h0M145.7 137.2h0M134.2 142.5h0M156.9 133.3h0M139.4 165.6h0M136.4 162.6h0M134.5 149.9h0M138.7 138.7h0M135.5 124.7h0M155.9 146.4h0M167.9 146.2h0M140.9 165.3h0M135.6 141.8h0M151.7 152.2h0M156.0 150.7h0M129.8 134.0h0M158.1 138.6h0M130.4 154.8h0M155.8 133.1h0M136.2 141.2h0M133.6 154.1h0M145.6 161.1h0M138.1 124.2h0M156.7 130.7h0M163.4 142.9h0M142.5 150.4h0M157.2 150.6h0M156.8 139.7h0M139.1 134.1h0M135.8 160.7h0M146.6 167.1h0M137.1 140.4h0M139.7 148.5h0M132.4 144.7h0M136.8 132.4h0M141.8 135.0h0M135.4 164.2h0M162.3 140.7h0M164.9 142.3h0M145.2 149.3h0M140.4 157.4h0M143.1 135.1h0M162.6 141.5h0M145.7 144.0h0M135.4 145.0h0M162.2 128.8h0M157.6 137.5h0M139.5 136.8h0M155.2 135.4h0M139.5 130.1h0M149.2 158.4h0M143.0 130.5h0M161.8 140.2h0M133.9 160.6h0M139.7 149.7h0M150.5 145.1h0M153.8 144.0h0M140.0 150.5h0M144.6 134.9h0M144.7 132.9h0M133.4 161.5h0M156.8 136.0h0M152.0 150.7h0M146.5 141.9h0M130.3 139.0h0M156.7 139.2h0M140.0 141.1h0M155.9 139.5h0M140.2 134.4h0M160.3 128.4h0M133.2 148.5h0M133.7 142.0h0M145.7 138.3h0M140.1 141.3h0M140.3 161.3h0M132.3 138.7h0M137.9 166.6h0M131.9 132.7h0M138.9 123.0h0M142.9 152.1h0M167.4 141.2h0M137.4 153.4h0M131.0 158.0h0M136.0 140.1h0M154.1 150.9h0M150.4 151.6h0M143.8 145.8h0M140.1 125.2h0M157.4 143.9h0M135.0 156.4h0M163.4 144.0h0M134.1 155.4h0M142.2 159.1h0M135.1 135.0h0M162.9 142.1h0M152.2 151.7h0M166.7 152.0h0M159.6 147.7h0M142.6 131.4h0M138.1 149.2h0M148.3 141.2h0M139.7 145.1h0M164.0 149.4h0M139.1 146.4h0M136.4 141.4h0M148.4 165.5h0M129.2 141.9h0M138.5 135.5h0M143.5 138.8h0M130.7 141.7h0M131.2 152.4h0M169.0 150.4h0M132.7 148.9h0M147.0 144.8h0M137.5 133.7h0M139.3 146.4h0M160.5 146.6h0M141.9 128.7h0M140.8 152.0h0M157.5 134.4h0M164.6 144.7h0M133.8 128.6h0M145.3 167.0h0M143.1 149.8h0M140.9 151.2h0M141.4 125.3h0M137.7 132.2h0M132.1 153.4h0M142.6 153.1h0M133.0 134.6h0M129.7 151.7h0M140.6 142.0h0M167.1 143.2h0M151.8 147.8h0M157.1 139.0h0M136.5 144.5h0M165.7 152.3h0M131.6 156.7h0M158.2 142.0h0M163.2 135.8h0M160.7 133.4h0M163.9 150.8h0M133.0 157.7h0M169.3 149.2h0M149.1 145.1h0M164.0 134.6h0M163.0 140.2h0M165.0 137.3h0M165.4 138.7h0M136.4 131.1h0M140.2 134.3h0M140.4 134.9h0M161.0 139.1h0M162.4 146.3h0M162.1 132.1h0M134.6 126.7h0M169.0 152.2h0M134.6 159.5h0M139.5 144.1h0M152.8 146.4h0M162.7 138.5h0M141.8 132.8h0M137.4 155.0h0M136.4 132.8h0M149.7 163.1h0M159.8 146.5h0M141.4 153.8h0M145.5 139.3h0M135.9 146.7h0M141.9 128.5h0M143.5 146.9h0M136.8 122.6h0M148.0 148.7h0M139.5 133.7h0M148.4 138.1h0M131.6 162.1h0M163.1 135.2h0M139.9 150.3h0M146.7 166.9h0M144.9 146.8h0M152.2 137.3h0M143.2 153.0h0M133.1 151.2h0M133.0 154.9h0M139.6 125.0h0M136.9 154.8h0M139.8 157.6h0M151.5 148.6h0M153.1 149.0h0M158.6 127.6h0M132.5 161.2h0M160.6 145.2h0M141.8 149.1h0M131.3 145.5h0M137.7 137.8h0M159.2 135.1h0M163.0 147.3h0M130.1 149.3h0M138.2 152.9h0M131.3 151.9h0M137.3 164.5h0M133.3 156.5h0M132.9 143.9h0M135.9 159.4h0M139.3 123.8h0M139.6 125.3h0M139.0 131.4h0M150.9 140.6h0M157.8 148.9h0M136.4 139.9h0M133.1 158.0h0M137.4 139.9h0M149.7 158.2h0M146.0 137.1h0M136.1 151.0h0M133.6 161.8h0M143.0 138.7h0M154.2 149.0h0M161.2 135.8h0M138.1 166.8h0M149.8 138.1h0M150.6 145.1h0M158.6 147.3h0M131.9 140.3h0M149.6 154.0h0M160.3 139.5h0M138.0 162.6h0M151.1 149.7h0M136.1 152.7h0M135.2 124.5h0M150.5 148.6h0M133.6 162.8h0M138.5 132.7h0M144.0 151.1h0M143.5 149.0h0M163.5 132.3h0M131.0 149.6h0M142.8 144.5h0M139.1 164.6h0M134.2 138.5h0M137.9 132.6h0M159.3 144.6h0M136.2 163.0h0M152.2 138.7h0M132.7 157.0h0M157.6 131.9h0M161.8 137.8h0M137.2 130.7h0M134.0 154.0h0M145.6 154.2h0M138.7 135.0h0M155.6 137.8h0M143.4 139.8h0M145.4 137.6h0M135.0 148.8h0M164.9 145.5h0M162.2 153.1h0M147.0 149.7h0M161.1 136.4h0M139.6 145.8h0M131.6 141.0h0M134.5 139.3h0M146.2 141.4h0M142.6 143.9h0M167.7 153.6h0M129.3 142.2h0M135.6 124.3h0M133.8 130.7h0M133.8 155.8h0M153.6 148.2h0M132.0 136.4h0M163.9 150.3h0M132.3 153.0h0M135.2 164.9h0M134.4 135.6h0M164.2 153.9h0M144.8 142.2h0M137.6 135.9h0M167.7 150.7h0M134.4 151.0h0M153.6 146.2h0M140.8 123.6h0M136.7 164.2h0M148.7 161.8h0M134.5 156.1h0M163.8 147.5h0M146.1 140.7h0M138.9 159.7h0M135.1 148.0h0M133.1 150.7h0M133.0 136.1h0M134.7 154.2h0M146.1 136.4h0M142.1 166.5h0M167.2 145.7h0M162.6 148.7h0M129.7 153.2h0M139.8 131.3h0M147.8 148.4h0M144.0 147.3h0M157.5 145.1h0M142.9 153.5h0M158.1 145.1h0M133.6 133.5h0M133.5 133.5h0M158.0 133.7h0M162.4 148.6h0M139.8 127.5h0M165.4 138.9h0M130.1 134.8h0M145.2 140.6h0M141.5 135.7h0M151.0 142.3h0M135.8 161.8h0M150.0 152.4h0M140.0 147.4h0M133.9 162.6h0M136.6 165.2h0M133.7 142.7h0M141.7 165.0h0M135.3 155.2h0M156.5 132.7h0M137.4 139.1h0M136.0 159.4h0M142.4 148.9h0M135.5 134.1h0M136.3 134.6h0M149.6 162.0h0M135.0 144.9h0M148.7 152.3h0M133.0 138.0h0M141.1 155.6h0M140.6 147.8h0M138.2 131.8h0M129.9 140.9h0M132.1 131.9h0M149.3 150.3h0M149.1 163.7h0M152.3 145.9h0M159.4 148.9h0M157.0 145.8h0M133.4 153.3h0M131.2 155.7h0M141.5 138.1h0M145.4 141.5h0M129.6 139.2h0M151.4 148.6h0M139.5 147.5h0M131.9 140.2h0M139.5 158.0h0M134.5 130.3h0M144.5 165.2h0M159.1 136.9h0M143.0 131.6h0M156.4 134.1h0M149.8 158.8h0M167.5 153.8h0M142.8 140.2h0M165.7 141.0h0M156.3 141.8h0M148.1 153.6h0M153.3 136.8h0M140.4 151.8h0M155.4 149.8h0M130.0 142.7h0M159.0 141.7h0M151.3 151.2h0M147.1 140.5h0M155.9 133.0h0M138.3 149.8h0M144.0 146.8h0M154.1 137.3h0M147.2 149.2h0M157.3 145.1h0M152.4 140.9h0M156.7 142.8h0M159.8 138.3h0M131.2 134.7h0M129.6 153.8h0M133.9 139.3h0M136.1 160.1h0M133.1 153.8h0M139.6 126.1h0M141.0 128.4h0M162.8 136.9h0M168.6 146.7h0M141.0 129.6h0M145.1 135.3h0M139.5 161.8h0M140.8 153.7h0M151.8 140.2h0M140.5 125.9h0M137.0 124.0h0M135.8 165.5h0M133.7 158.6h0M155.9 150.1h0M150.9 145.4h0M144.1 164.8h0M145.6 148.0h0M164.5 142.7h0M135.2 155.8h0M158.9 134.4h0M158.0 139.7h0M142.7 160.6h0M129.1 147.6h0M150.2 156.4h0M159.1 150.5h0M140.0 150.2h0M159.5 147.4h0M137.8 139.8h0M161.9 129.9h0M131.8 156.9h0M164.4 148.0h0M149.3 141.0h0M157.5 137.1h0M156.7 142.7h0M133.8 151.9h0M161.6 147.6h0M156.5 142.8h0M139.0 145.7h0M132.4 160.0h0M162.7 137.2h0M161.4 137.5h0M167.3 141.2h0M157.0 130.9h0M154.2 145.4h0M136.1 131.2h0M136.6 142.9h0M151.5 146.3h0M161.8 145.8h0M143.3 167.5h0M131.5 136.7h0M145.8 141.7h0M134.8 136.7h0M154.0 141.4h0M159.0 130.6h0M138.8 134.1h0M161.2 146.8h0M136.3 123.5h0M138.7 134.6h0M150.0 161.1h0M136.0 125.4h0M139.7 131.0h0M161.7 135.2h0M135.8 133.9h0M157.8 139.5h0M157.2 142.1h0M137.3 140.7h0M134.3 136.6h0M132.1 148.6h0M149.2 163.8h0M135.1 148.7h0M139.5 163.9h0M151.9 143.3h0M162.7 130.3h0M137.5 160.3h0M159.7 147.6h0M155.4 134.9h0M143.8 164.6h0M162.0 145.1h0M157.8 142.7h0M136.1 149.9h0M135.1 134.3h0M129.8 147.6h0M134.9 146.0h0M144.6 152.5h0M148.9 164.6h0M159.0 139.2h0M140.5 136.1h0M157.1 145.2h0M169.0 152.1h0M144.4 137.8h0M129.7 154.1h0M154.1 136.1h0M145.2 140.7h0M138.0 156.5h0M169.3 150.3h0M139.5 153.2h0M160.9 149.8h0M136.9 160.7h0M132.5 149.7h0M140.7 154.4h0M158.2 149.3h0M144.0 147.9h0M148.5 164.7h0M161.4 127.9h0M139.3 134.7h0M140.8 125.8h0M149.7 145.7h0M148.5 143.2h0M141.0 129.7h0M161.0 138.1h0M156.7 131.9h0M143.4 151.3h0M137.6 164.1h0M152.0 150.6h0M143.3 150.2h0M163.7 143.3h0M130.0 145.8h0M160.7 138.4h0M161.7 140.3h0M141.5 168.2h0M167.0 152.3h0M145.9 139.7h0M156.3 133.2h0M140.0 122.4h0M137.9 123.7h0M142.0 154.5h0M140.1 133.0h0M152.9 141.0h0M143.9 145.4h0M139.7 124.5h0M140.7 164.2h0M136.5 163.3h0M136.3 131.9h0M162.2 134.6h0M142.5 147.7h0M141.1 150.6h0M156.3 136.3h0M142.8 134.0h0M160.0 126.9h0M149.1 146.2h0M157.7 136.6h0M148.7 154.6h0M138.0 140.6h0M165.0 142.9h0M157.6 146.7h0M162.4 147.2h0M131.7 141.6h0M140.4 125.4h0M134.9 145.7h0M149.0 163.3h0M151.2 141.2h0M134.8 126.3h0M163.3 142.0h0M156.2 131.2h0M146.7 149.1h0M136.8 124.7h0M161.5 147.5h0M142.6 142.5h0M141.9 127.2h0M145.9 149.9h0M134.1 128.7h0M142.5 134.4h0M136.4 164.0h0M146.7 153.1h0M158.8 131.2h0M140.2 123.2h0M134.5 143.1h0M134.3 162.7h0M134.6 152.0h0M141.2 129.5h0M162.0 138.9h0M144.0 152.0h0M138.4 165.6h0M150.4 149.6h0M168.3 145.3h0M160.3 143.9h0M143.4 147.8h0M132.8 141.1h0M135.8 132.9h0M157.2 128.2h0M161.3 147.9h0M160.2 149.5h0M143.2 142.4h0M137.4 125.1h0M144.8 165.0h0M134.1 164.1h0M148.8 161.2h0M141.9 149.6h0M137.4 159.4h0M132.1 154.7h0M162.2 128.5h0M138.5 151.0h0M157.1 132.8h0M139.4 135.6h0M148.9 163.9h0M138.9 155.1h0M150.4 139.6h0M132.7 152.5h0M154.9 136.2h0M149.6 163.1h0M140.3 164.5h0M130.8 156.5h0M147.6 142.0h0M131.2 158.7h0M136.4 153.0h0M149.5 144.1h0M152.5 151.1h0M134.7 164.3h0M133.0 153.5h0M145.5 152.5h0M154.4 142.9h0M142.7 140.8h0M159.2 145.5h0M143.6 137.3h0M130.5 141.6h0M163.0 137.4h0M138.5 163.1h0M166.4 152.4h0M141.2 155.3h0M132.3 151.6h0M149.5 159.0h0M159.0 130.9h0M168.1 143.1h0M141.5 151.5h0M156.9 128.3h0M164.4 135.9h0M141.1 150.7h0M164.7 146.5h0M139.3 157.7h0M136.3 148.5h0M143.4 137.9h0M148.0 156.4h0M133.4 154.0h0M151.4 146.3h0M165.0 143.4h0M135.5 159.0h0M148.6 152.9h0M137.0 124.0h0M156.5 132.5h0M139.8 153.2h0M139.4 159.1h0M135.3 134.7h0M154.5 135.7h0M137.7 136.6h0M150.3 157.5h0M160.9 137.1h0M159.2 147.9h0M143.3 136.2h0M168.0 142.9h0M131.7 144.9h0M159.9 150.6h0M157.1 140.0h0M162.6 142.5h0M167.5 145.4h0M163.0 151.8h0M147.1 146.2h0M138.5 129.0h0M132.9 162.2h0M164.4 145.4h0M159.4 138.3h0M134.3 155.7h0M147.7 164.9h0M139.8 139.0h0M167.5 152.3h0M166.4 150.0h0M138.6 127.1h0M155.6 133.6h0M133.7 159.0h0M134.7 127.3h0M141.3 154.6h0M141.3 165.0h0M133.9 130.6h0M135.3 131.5h0M145.6 148.5h0M133.8 153.1h0M162.0 145.1h0M146.3 139.0h0M130.8 145.4h0M138.4 149.5h0M164.1 138.3h0M139.8 163.3h0M139.3 137.5h0M136.4 132.3h0M151.2 151.5h0M145.3 135.9h0M153.8 142.3h0M158.7 132.3h0M148.3 136.9h0M141.0 142.9h0M137.7 150.5h0M141.0 130.9h0M133.8 160.1h0M141.8 165.0h0M149.7 160.4h0M135.6 150.6h0M150.0 144.8h0M142.5 135.2h0M143.0 152.8h0M140.6 154.1h0M146.5 167.1h0M161.1 134.8h0M138.9 152.3h0M152.2 141.6h0M164.9 144.2h0M163.2 145.9h0M130.9 145.5h0M153.2 137.7h0M133.2 150.6h0M141.1 163.7h0M138.4 153.2h0M166.2 144.2h0M134.4 137.3h0M133.3 156.4h0M155.5 149.2h0M134.6 152.7h0M162.3 145.4h0M148.3 164.6h0M148.3 154.1h0M139.1 133.7h0M160.8 151.1h0M160.2 128.3h0M140.0 136.0h0M165.9 146.0h0M143.1 166.8h0M161.8 148.5h0M161.6 148.0h0M140.5 137.1h0M135.2 146.6h0M145.8 166.0h0M137.9 127.5h0M132.3 159.9h0M156.7 130.4h0M149.1 155.7h0M166.3 151.8h0M139.6 134.5h0M141.3 141.2h0M162.8 129.4h0M155.9 139.2h0M141.1 131.0h0M157.7 148.2h0M162.1 135.6h0M138.4 165.4h0M133.3 157.6h0M142.1 154.9h0M138.7 125.3h0M137.8 153.3h0M142.8 138.2h0M129.6 137.0h0M141.7 147.3h0M131.4 132.2h0M142.9 139.0h0M140.2 125.6h0M142.8 131.2h0M138.7 126.9h0M141.3 135.9h0M163.7 141.6h0M143.6 165.7h0M164.3 139.3h0M132.9 132.3h0M155.1 141.5h0M139.9 126.5h0M166.5 143.3h0M135.8 142.7h0M158.0 143.5h0M163.8 143.8h0M162.4 135.0h0M145.6 146.4h0M133.3 144.8h0M159.9 144.3h0M161.2 146.4h0M146.9 150.9h0M134.9 156.8h0M133.9 133.3h0M142.4 151.4h0M139.0 144.9h0M139.1 126.0h0M133.8 151.6h0M141.8 147.2h0M131.0 155.1h0M147.8 164.3h0M130.1 141.2h0M134.7 131.6h0M144.9 141.8h0M146.6 167.5h0M133.4 151.2h0M141.8 145.0h0M144.5 145.1h0M149.5 142.5h0M164.6 143.8h0M135.8 166.2h0M131.2 136.1h0M134.8 127.1h0M167.7 152.6h0M148.9 148.9h0M142.9 167.6h0M168.0 149.1h0M151.2 150.4h0M133.4 134.4h0M136.8 142.6h0M165.8 139.5h0M156.7 134.0h0M141.2 141.1h0M141.8 133.8h0M139.9 130.9h0M163.5 153.8h0M167.3 150.1h0M139.8 143.7h0M134.9 149.7h0M145.1 136.0h0M165.2 152.8h0M136.0 151.9h0M138.1 140.5h0M137.3 145.3h0M146.7 138.7h0M135.5 157.8h0M160.3 142.7h0M132.0 150.4h0M137.0 162.2h0M134.7 143.8h0M141.2 151.5h0M159.1 136.8h0M138.4 167.1h0M130.4 134.5h0M134.6 154.1h0M156.3 133.0h0M138.0 152.1h0M141.7 140.8h0M156.0 143.9h0M159.9 141.6h0M134.0 160.4h0M158.7 129.8h0M145.9 166.9h0M163.2 152.1h0M138.7 142.7h0M161.9 147.8h0M132.1 161.8h0M158.9 130.1h0M136.7 163.8h0M160.1 136.1h0M135.3 159.1h0M157.6 130.4h0M140.8 131.8h0M156.4 134.4h0M147.7 146.4h0M169.5 150.4h0M129.4 143.0h0M130.4 150.6h0M161.4 150.1h0M161.6 141.9h0M164.9 143.3h0M142.6 143.1h0M152.7 143.8h0M134.1 155.2h0M145.6 141.0h0M144.6 143.2h0M138.6 144.4h0M153.0 141.9h0M163.1 147.1h0M149.7 138.3h0M163.8 147.2h0M143.3 152.8h0M155.7 142.5h0M131.6 141.5h0M145.8 136.9h0M161.2 138.1h0M141.9 143.5h0M153.3 151.3h0M141.3 140.7h0M164.4 135.4h0M144.9 143.6h0M137.6 130.9h0M133.9 153.1h0M137.3 145.1h0M135.7 164.7h0M145.9 147.2h0M134.3 143.8h0M147.7 146.5h0M160.6 139.7h0M135.3 130.1h0M130.9 154.4h0M138.9 123.4h0M141.9 131.5h0M132.7 158.8h0M156.1 136.5h0M160.2 127.4h0M132.7 153.3h0M138.4 154.7h0M132.8 153.4h0M141.2 137.3h0M148.9 147.4h0M161.1 130.6h0M133.3 142.7h0M143.1 165.1h0M137.7 125.3h0M141.1 143.2h0M135.9 128.7h0M133.7 156.5h0M166.4 147.8h0M133.6 160.7h0M139.3 161.0h0M141.0 142.4h0M141.8 135.1h0M129.5 138.7h0M152.4 139.7h0M141.2 129.1h0M155.8 135.4h0M135.7 130.5h0M130.7 142.8h0M131.6 137.0h0M148.2 153.4h0M130.9 152.6h0M149.9 148.8h0M159.9 144.6h0M135.5 148.7h0M164.6 146.0h0M130.5 139.9h0M136.3 142.7h0M135.5 137.7h0M141.3 127.9h0M147.0 144.5h0M144.2 152.7h0M163.1 133.3h0M135.1 143.2h0M136.5 166.9h0M141.4 129.6h0M152.9 150.9h0M156.0 132.9h0M164.9 144.7h0M131.7 134.7h0M134.6 126.8h0M136.7 157.9h0M153.2 148.0h0M150.0 139.2h0M165.0 138.0h0M153.8 143.6h0M129.9 142.7h0M141.3 125.9h0M144.4 150.7h0M146.4 146.2h0M155.4 139.4h0M161.2 136.5h0M142.8 145.1h0M149.5 141.2h0M137.8 163.2h0M148.8 151.6h0M141.1 124.0h0M166.9 147.0h0M134.2 157.3h0M160.3 149.4h0M135.1 158.1h0M138.4 131.0h0M128.8 141.3h0M137.1 142.2h0M139.0 157.8h0M137.4 150.6h0M131.5 147.1h0M133.5 139.3h0M160.1 130.5h0M132.0 133.4h0M158.1 130.8h0M139.8 149.8h0M144.3 147.1h0M155.3 147.4h0M139.4 122.8h0M139.7 164.4h0M157.3 145.5h0M160.2 127.8h0M163.0 153.8h0M131.7 132.8h0M132.6 160.8h0M140.3 153.6h0M156.8 147.4h0M131.7 156.5h0M139.2 162.1h0M162.2 134.6h0M140.2 137.2h0M153.4 143.0h0M139.5 146.1h0M137.1 123.6h0M151.9 144.4h0M146.0 142.1h0M129.7 145.1h0M151.6 140.3h0M147.0 147.4h0M167.7 147.2h0M133.2 129.2h0M130.5 144.0h0M150.5 152.6h0M151.3 146.6h0M160.8 146.8h0M157.3 136.3h0M164.2 149.5h0M132.5 156.8h0M134.6 149.0h0M162.6 151.0h0M142.5 137.0h0M134.4 132.8h0M144.2 138.0h0M130.9 156.1h0M144.9 166.9h0M135.2 127.7h0M134.0 142.5h0M164.9 150.2h0M162.6 148.5h0M148.9 142.5h0M151.9 139.4h0M143.5 134.0h0M148.7 152.2h0M141.9 126.6h0M135.9 160.7h0M161.3 144.3h0M136.1 164.2h0M150.4 150.2h0M140.0 125.5h0M136.1 156.2h0M142.2 164.8h0M160.7 135.4h0M132.3 159.4h0M130.3 154.3h0M138.5 153.4h0M159.1 147.2h0M129.9 151.8h0M133.3 154.8h0M129.6 139.6h0M161.3 137.0h0M159.0 137.5h0M133.3 142.8h0M130.3 144.8h0M131.1 143.1h0M151.1 140.5h0M136.7 127.3h0M162.8 136.0h0M134.9 155.2h0M149.2 152.7h0M162.5 140.5h0M159.8 141.7h0M129.5 135.4h0M148.9 140.4h0M136.2 158.1h0M159.9 141.5h0M155.2 137.6h0M160.0 148.9h0M153.3 150.5h0M137.9 144.3h0M135.3 139.8h0" stroke="#d5d5d5" stroke-width="1.00" stroke-linecap="round" opacity="1.0" fill="none"/>
<path d="M139.7 156.5h0M159.8 134.7h0M129.3 139.7h0M140.5 141.7h0M150.9 144.1h0M152.1 146.4h0M140.2 130.7h0M164.0 144.6h0M132.5 155.7h0M139.6 163.1h0M136.1 159.4h0M141.1 162.0h0M132.6 139.2h0M135.9 160.3h0M156.6 148.0h0M139.4 138.8h0M139.4 142.1h0M153.4 144.4h0M139.8 127.2h0M136.6 138.9h0M134.8 130.9h0M134.1 161.9h0M148.1 165.7h0M129.8 154.0h0M131.9 153.9h0M161.1 129.0h0M148.6 140.8h0M155.5 149.8h0M160.2 139.1h0M154.1 146.8h0M142.4 144.9h0M144.4 136.5h0M167.2 151.9h0M159.9 129.7h0M138.1 133.0h0M151.3 150.4h0M142.6 164.1h0M162.5 141.5h0M132.3 132.8h0M139.5 151.1h0M152.0 140.3h0M150.0 158.1h0M144.7 149.0h0M148.1 152.8h0M130.4 157.0h0M143.5 160.3h0M149.4 139.8h0M159.2 137.1h0M141.6 143.0h0M133.0 155.6h0M154.3 141.7h0M144.0 144.2h0M129.8 137.1h0M139.1 143.1h0M159.1 144.3h0M143.4 151.4h0M134.2 133.2h0M143.4 159.8h0M132.6 139.1h0M140.9 148.3h0M147.3 156.9h0M159.7 138.3h0" stroke="#d0583c" stroke-width="1.20" stroke-linecap="round" opacity="0.85" fill="none"/>
<path d="M185.3 150.2h0M218.2 140.2h0M189.6 127.1h0M194.2 167.6h0M191.6 138.5h0M210.2 129.0h0M202.0 148.6h0M194.6 157.1h0M204.3 138.2h0M191.6 154.9h0M198.7 161.3h0M222.4 152.3h0M213.9 141.4h0M215.7 135.4h0M188.8 152.8h0M210.4 136.5h0M194.9 155.2h0M202.2 137.3h0M222.5 151.8h0M184.0 155.7h0M216.5 143.9h0M185.8 157.1h0M199.4 159.0h0M199.1 141.7h0M212.6 133.6h0M194.4 155.0h0M206.9 138.0h0M183.8 135.4h0M192.8 144.4h0M193.8 163.7h0M198.1 136.7h0M197.4 132.3h0M187.5 151.4h0M196.1 139.8h0M220.7 151.0h0M201.1 162.0h0M196.8 135.4h0M205.4 148.9h0M208.4 149.1h0M185.4 159.5h0M194.4 132.9h0M214.1 127.0h0M197.4 166.6h0M197.4 145.1h0M200.4 156.4h0M210.8 138.5h0M212.6 147.1h0M198.2 138.6h0M201.5 142.3h0M190.6 153.0h0M188.2 135.7h0M218.0 137.1h0M210.3 149.2h0M191.6 156.1h0M188.4 153.5h0M198.8 157.4h0M215.1 128.0h0M209.4 141.6h0M190.3 129.1h0M205.3 146.1h0M216.2 138.7h0M216.2 133.9h0M198.2 150.6h0M200.7 157.9h0M206.1 138.6h0M209.1 147.8h0M198.6 139.4h0M189.1 156.8h0M197.5 159.1h0M203.3 150.8h0M202.3 145.2h0M188.4 150.3h0M197.8 152.2h0M187.1 131.7h0M195.9 166.1h0M192.7 128.1h0M182.9 139.8h0M195.3 137.9h0M215.4 141.0h0M198.3 146.1h0M202.7 154.5h0M207.6 141.1h0M189.5 165.0h0M218.6 145.5h0M192.5 146.8h0M213.1 145.8h0M205.7 139.6h0M216.5 130.9h0M217.3 151.2h0M196.4 161.3h0M191.4 127.6h0M195.4 144.9h0M196.7 150.0h0M196.3 140.6h0M191.0 150.3h0M192.9 154.0h0M217.5 153.2h0M189.2 132.1h0M216.0 141.4h0M220.3 146.6h0M194.1 145.6h0M205.1 144.4h0M188.2 162.3h0M221.4 146.7h0M198.2 138.2h0M185.9 136.9h0M199.9 154.0h0M195.1 139.2h0M213.7 144.2h0M207.7 140.7h0M190.4 139.9h0M215.9 147.3h0M191.0 143.7h0M186.2 147.0h0M220.7 140.7h0M205.9 141.3h0M188.4 149.8h0M189.9 134.2h0M196.4 133.1h0M211.0 149.6h0M215.8 132.6h0M212.3 137.7h0M204.4 142.6h0M201.9 151.0h0M220.2 144.2h0M223.0 149.2h0M214.8 148.3h0M208.4 137.5h0M209.9 134.0h0M205.0 145.4h0M203.4 138.2h0M197.1 161.0h0M194.6 145.6h0M188.4 137.6h0M212.4 141.4h0M193.7 144.7h0M217.1 148.4h0M193.5 162.7h0M187.0 156.2h0M200.9 145.8h0M193.1 133.3h0M188.9 146.6h0M194.2 143.9h0M222.4 144.6h0M205.1 146.1h0M189.4 145.7h0M189.1 158.3h0M191.6 141.3h0M186.2 148.2h0M190.8 159.5h0M206.2 140.0h0M183.4 133.5h0M191.5 163.2h0M193.4 147.9h0M183.5 143.6h0M200.7 136.1h0M210.0 133.7h0M212.5 144.4h0M207.0 147.6h0M211.2 138.7h0M182.7 141.4h0M220.6 148.6h0M193.3 144.5h0M219.1 150.0h0M209.3 139.8h0M186.8 138.4h0M189.4 147.9h0M209.7 146.1h0M198.1 133.3h0M210.6 129.5h0M220.8 144.5h0M187.4 164.0h0M219.4 138.6h0M189.5 158.3h0M184.3 156.2h0M212.4 127.4h0M211.7 141.4h0M195.2 124.0h0M216.8 151.5h0M211.9 129.6h0M184.7 134.1h0M216.0 130.1h0M195.1 147.6h0M219.2 146.9h0M195.3 165.6h0M184.8 139.1h0M215.2 131.4h0M189.2 147.6h0M197.5 159.4h0M198.0 155.2h0M191.5 125.0h0M184.5 133.4h0M191.5 150.6h0M207.9 147.2h0M193.4 122.7h0M183.9 141.5h0M198.8 164.4h0M188.7 163.8h0M214.1 142.8h0M217.5 140.1h0M193.2 127.5h0M185.6 143.2h0M186.9 140.8h0M187.4 151.7h0M211.3 143.1h0M190.9 147.6h0M200.2 138.9h0M218.2 147.2h0M191.2 143.5h0M207.5 138.4h0M189.3 156.7h0M214.9 129.0h0M184.1 155.7h0M198.8 153.5h0M196.2 157.9h0M184.2 147.3h0M191.3 154.4h0M201.3 153.6h0M187.2 160.0h0M198.3 137.5h0M186.0 160.9h0M189.1 154.6h0M187.6 140.2h0M187.0 152.3h0M199.0 147.4h0M190.7 141.4h0M205.9 136.8h0M185.0 137.4h0M194.0 130.4h0M189.1 126.1h0M217.2 142.3h0M217.7 148.5h0M190.3 151.3h0M197.8 139.6h0M219.1 141.2h0M189.8 156.9h0M219.5 142.3h0M218.3 149.6h0M206.5 150.0h0M215.8 150.3h0M216.9 146.5h0M191.9 164.3h0M192.9 151.1h0M195.3 147.4h0M203.8 150.0h0M192.9 139.5h0M197.0 166.1h0M199.6 165.8h0M199.6 138.8h0M185.6 143.9h0M196.6 132.8h0M197.5 143.9h0M221.5 149.2h0M190.9 159.2h0M215.5 136.1h0M191.0 133.6h0M191.1 163.2h0M203.9 137.2h0M203.5 150.5h0M210.8 146.6h0M193.3 142.9h0M191.1 126.3h0M216.8 148.9h0M190.4 158.4h0M202.9 141.5h0M198.8 163.9h0M186.3 135.3h0M197.5 141.6h0M217.1 141.2h0M197.7 164.6h0M189.7 126.2h0M188.6 125.2h0M189.5 140.2h0M216.4 152.1h0M190.8 166.2h0M214.7 136.3h0M214.3 140.8h0M186.8 150.6h0M183.6 146.1h0M192.3 152.7h0M217.3 146.3h0M209.2 142.9h0M183.2 139.2h0M189.2 129.5h0M216.8 137.3h0M211.2 143.4h0M185.3 159.3h0M183.7 139.0h0M206.5 150.5h0M204.9 138.5h0M187.1 159.9h0M215.2 151.3h0M186.7 149.1h0M205.2 149.9h0M214.5 145.1h0M213.5 137.6h0M201.7 146.0h0M197.7 166.9h0M194.3 151.2h0M196.8 149.4h0M220.9 153.0h0M199.9 141.8h0M211.1 143.7h0M193.7 145.9h0M198.1 159.3h0M201.8 142.4h0M211.8 146.2h0M201.5 161.5h0M186.9 162.4h0M203.0 153.5h0M208.2 144.3h0M191.2 137.9h0M197.0 157.0h0M217.5 152.0h0M187.7 152.3h0M188.8 161.0h0M189.5 150.2h0M192.3 135.7h0M199.8 161.5h0M201.7 143.6h0M195.4 139.5h0M195.2 146.7h0M214.6 140.2h0M214.8 141.8h0M200.8 153.1h0M200.8 138.4h0M202.0 159.3h0M190.5 165.1h0M191.6 147.3h0M190.8 162.3h0M214.1 145.6h0M218.3 153.1h0M219.2 139.7h0M211.3 137.7h0M210.0 145.9h0M213.4 146.8h0M213.2 136.0h0M197.7 140.6h0M218.3 138.8h0M197.9 155.6h0M196.2 131.9h0M203.1 140.8h0M194.8 148.1h0M189.5 133.4h0M205.3 140.1h0M199.5 152.3h0M185.5 156.3h0M195.2 125.7h0M186.9 129.3h0M207.0 136.1h0M192.7 121.3h0M183.8 151.3h0M201.8 138.5h0M211.5 146.9h0M192.8 137.0h0M213.7 128.6h0M206.6 150.0h0M217.2 129.8h0M214.4 149.0h0M206.8 141.1h0M211.3 148.6h0M188.3 154.0h0M188.2 127.3h0M188.5 125.4h0M193.9 129.8h0M194.7 155.6h0M199.2 144.4h0M188.9 150.7h0M211.1 137.3h0M216.3 148.1h0M214.1 149.2h0M203.6 138.3h0M198.2 162.2h0M194.6 128.5h0M186.7 133.8h0M191.8 165.3h0M220.3 145.4h0M195.4 130.4h0M222.8 150.9h0M190.1 140.7h0M193.4 124.2h0M220.7 150.9h0M193.0 146.0h0M211.6 130.3h0M214.3 147.6h0M194.1 136.6h0M203.4 159.0h0M188.3 161.8h0M210.5 143.9h0M201.9 160.2h0M197.1 155.2h0M192.0 132.1h0M188.7 144.1h0M197.9 138.9h0M209.8 138.0h0M189.8 162.2h0M193.0 137.7h0M201.2 155.0h0M219.9 152.1h0M192.0 160.8h0M195.6 125.0h0M197.5 151.9h0M217.9 148.7h0M205.8 151.1h0M191.7 153.5h0M210.4 131.7h0M198.0 163.1h0M186.1 157.0h0M216.6 129.9h0M196.0 145.2h0M195.7 160.6h0M202.7 157.7h0M195.6 143.2h0M203.6 141.3h0M190.5 163.2h0M209.4 137.6h0M195.1 126.5h0M201.9 136.7h0M191.0 151.5h0M194.0 137.0h0M189.0 136.6h0M198.4 144.3h0M212.2 127.8h0M190.2 163.7h0M192.4 143.9h0M215.2 134.0h0M211.8 140.3h0M206.7 150.2h0M185.4 152.0h0M215.2 129.8h0M185.7 145.6h0M203.4 142.2h0M190.9 130.9h0M199.9 157.6h0M219.5 138.4h0M186.3 139.8h0M217.0 129.7h0M198.6 159.0h0M200.2 161.5h0M223.6 148.6h0M210.2 130.7h0M189.3 139.8h0M194.2 142.8h0M189.8 152.3h0M185.8 148.3h0M202.5 160.2h0M212.8 145.8h0M185.1 151.3h0M194.3 144.0h0M193.7 166.6h0M186.4 152.3h0M198.8 140.1h0M212.3 149.6h0M202.3 141.5h0M189.5 127.5h0M189.0 139.4h0M203.9 141.1h0M214.3 151.6h0M209.6 145.6h0M201.9 137.8h0M199.5 156.2h0M191.6 145.2h0M198.0 148.1h0M192.4 166.8h0M196.3 138.7h0M218.1 146.7h0M217.8 151.9h0M196.6 143.8h0M196.0 158.0h0M206.6 145.6h0M196.4 155.5h0M193.3 135.6h0M195.9 136.3h0M200.1 151.5h0M193.5 129.0h0M220.0 144.5h0M184.9 136.9h0M210.6 139.8h0M217.4 133.2h0M187.7 143.5h0M192.7 144.8h0M212.9 134.4h0M197.9 150.0h0M196.1 127.3h0M217.9 142.8h0M215.2 133.5h0M218.9 147.9h0M210.0 145.8h0M196.6 147.9h0M210.2 144.9h0M193.0 145.4h0M194.5 154.2h0M211.5 147.3h0M194.3 139.2h0M184.6 132.6h0M204.1 141.6h0M185.7 145.2h0M210.9 136.9h0M193.6 140.8h0M194.0 138.8h0M194.4 126.6h0M192.0 158.9h0M198.5 142.2h0M195.0 165.5h0M193.0 141.1h0M213.8 135.9h0M190.0 127.7h0M217.3 139.5h0M196.2 141.3h0M192.1 130.1h0M187.3 163.5h0M201.1 153.7h0M191.2 140.3h0M214.0 141.6h0M195.0 124.5h0M198.1 166.6h0M208.6 143.9h0M188.4 140.8h0M217.9 137.1h0M192.9 129.3h0M190.7 136.5h0M191.6 153.4h0M195.1 145.3h0M197.9 149.1h0M186.0 150.0h0M196.5 160.7h0M205.8 139.4h0M193.1 131.9h0M199.7 138.4h0M198.8 139.5h0M198.0 158.9h0M201.6 149.5h0M205.8 146.9h0M183.9 140.0h0M203.3 138.4h0M209.2 132.1h0M187.2 150.0h0M183.6 140.4h0M211.8 146.9h0M222.3 149.0h0M192.9 165.7h0M207.7 137.3h0M193.9 137.3h0M187.8 161.7h0M189.6 137.1h0M196.3 128.8h0M190.1 160.8h0M198.8 161.3h0M194.5 122.2h0M200.1 149.4h0M189.0 136.9h0M221.9 142.0h0M198.6 161.2h0M207.4 144.4h0M184.4 154.1h0M193.4 136.0h0M192.7 140.2h0M218.3 146.6h0M211.9 127.6h0M191.6 122.6h0M216.9 129.4h0M216.2 131.8h0M187.6 152.5h0M199.6 162.6h0M188.7 156.9h0M204.8 149.8h0M203.0 139.6h0M191.2 152.0h0M201.5 164.4h0M189.5 124.6h0M209.4 143.1h0M200.6 163.1h0M189.7 153.5h0M211.3 149.8h0M211.0 143.7h0M196.3 133.5h0M194.6 140.5h0M192.3 129.1h0M183.3 151.5h0M187.4 143.7h0M215.7 130.8h0M200.4 165.2h0M192.5 153.8h0M219.3 139.9h0M183.9 134.2h0M198.9 135.8h0M191.4 143.4h0M217.8 150.8h0M204.2 154.8h0M185.2 145.7h0M214.7 142.1h0M210.6 143.0h0M215.4 135.7h0M200.0 154.6h0M188.1 127.5h0M191.8 134.7h0M197.8 143.0h0M189.5 135.5h0M218.9 141.5h0M191.2 135.7h0M220.5 150.2h0M192.2 121.4h0M192.3 164.1h0M196.8 137.5h0M187.3 152.4h0M194.3 134.8h0M195.1 142.9h0M205.9 151.4h0M198.2 135.0h0M193.5 129.0h0M200.8 142.7h0M192.6 143.0h0M203.9 150.0h0M187.9 160.9h0M189.0 136.9h0M217.7 137.2h0M198.0 136.6h0M204.2 140.0h0M217.3 140.7h0M201.5 156.1h0M213.5 150.0h0M191.3 137.9h0M218.1 137.7h0M216.6 141.0h0M188.4 159.8h0M220.9 152.2h0M194.1 156.5h0M197.9 154.0h0M205.4 146.6h0M191.2 143.3h0M191.0 149.3h0M189.1 131.1h0M186.6 161.3h0M215.5 144.9h0M202.7 157.6h0M190.8 150.0h0M198.0 152.0h0M198.2 132.3h0M216.4 145.9h0M211.4 148.1h0M188.1 127.9h0M202.8 155.7h0M209.0 137.7h0M192.8 167.1h0M196.2 143.1h0M200.0 166.5h0M194.6 134.6h0M189.8 158.9h0M192.2 143.6h0M184.8 159.2h0M216.5 150.4h0M194.7 133.1h0M208.1 136.8h0M207.2 150.1h0M193.7 135.0h0M186.3 158.0h0M213.6 131.1h0M199.4 155.6h0M202.2 151.2h0M200.7 158.4h0M187.6 144.2h0M193.4 156.1h0M201.7 149.3h0M197.8 135.9h0M190.0 133.6h0M193.8 138.1h0M194.6 128.3h0M206.9 149.0h0M195.8 153.9h0M194.3 142.7h0M183.8 140.4h0M199.6 146.3h0M191.3 137.4h0M198.3 141.5h0M202.0 149.9h0M194.7 146.7h0M223.1 146.4h0M186.6 135.1h0M189.2 124.8h0M218.9 140.4h0M192.9 161.1h0M210.9 132.7h0M190.9 155.0h0M190.1 134.4h0M190.4 158.9h0M192.5 134.7h0M220.3 152.4h0M193.4 131.8h0M186.4 133.3h0M195.8 153.7h0M191.7 143.5h0M203.2 162.0h0M183.6 144.3h0M203.3 139.3h0M186.1 139.8h0M216.8 143.8h0M200.0 149.1h0M218.0 151.3h0M192.4 157.2h0M215.7 150.5h0M202.9 141.4h0M196.0 162.0h0M202.9 142.0h0M208.7 140.7h0M183.7 134.6h0M193.5 126.1h0M185.1 160.5h0M185.7 151.2h0M201.4 139.9h0M214.3 143.4h0M200.0 154.5h0M196.3 132.8h0M187.6 131.9h0M192.5 148.8h0M199.3 156.3h0M205.8 151.5h0M215.8 145.8h0M193.5 150.7h0M187.2 154.4h0M199.6 140.7h0M198.1 162.9h0M220.7 145.2h0M193.0 161.0h0M203.6 140.8h0M203.0 137.9h0M196.2 164.1h0M193.1 154.7h0M191.9 165.8h0M189.2 161.6h0M208.1 148.0h0M221.9 149.0h0M196.4 165.7h0M216.6 140.0h0M191.7 137.9h0M191.6 149.6h0M213.1 128.3h0M197.8 140.1h0M217.3 133.2h0M197.1 130.3h0M202.9 139.3h0M211.4 138.0h0M189.8 127.6h0M211.4 128.2h0M189.5 153.9h0M187.0 133.5h0M196.8 144.7h0M189.4 164.3h0M189.1 162.8h0M194.0 148.3h0M187.2 141.8h0M185.0 155.5h0M201.0 163.9h0M195.5 129.1h0M211.4 132.5h0M183.2 138.8h0M218.4 152.9h0M218.7 136.0h0M194.4 162.6h0M192.9 141.2h0M193.3 159.5h0M216.5 153.1h0M200.7 150.6h0M184.3 146.9h0M183.2 145.6h0M195.0 136.5h0M186.2 146.5h0M216.0 149.5h0M186.6 132.0h0M202.1 155.5h0M215.8 129.9h0M219.4 141.3h0M193.4 124.4h0M189.6 139.2h0M219.9 145.4h0M219.8 147.8h0M207.1 150.0h0M186.9 128.2h0M212.3 137.5h0M212.3 147.0h0M186.1 159.8h0M211.5 132.0h0M217.3 139.5h0M212.9 149.2h0M193.6 130.9h0M193.9 121.3h0M185.5 154.0h0M217.4 136.2h0M192.1 140.2h0M201.6 162.9h0M218.1 139.8h0M187.7 150.9h0M199.0 163.4h0M203.1 147.0h0M207.7 135.9h0M191.5 147.0h0M186.6 149.1h0M184.1 132.7h0M192.5 164.2h0M185.2 150.8h0M220.7 142.9h0M200.7 137.6h0M189.6 137.9h0M216.8 140.3h0M220.3 150.2h0M192.9 130.3h0M189.9 128.9h0M189.7 138.7h0M207.6 144.0h0M212.0 129.4h0M211.6 145.3h0M187.1 132.0h0M202.2 137.0h0M198.9 133.3h0M201.9 158.6h0M189.2 160.4h0M191.7 133.1h0M193.1 125.6h0M196.4 135.4h0M195.7 150.6h0M190.4 138.6h0M202.6 158.1h0M184.5 139.9h0M191.1 137.6h0M194.9 153.9h0M191.7 146.4h0M192.7 141.7h0M219.2 149.1h0M190.2 156.1h0M200.1 164.3h0M219.6 143.9h0M186.1 139.8h0M196.0 153.6h0M211.7 138.3h0M192.1 126.2h0M189.1 134.8h0M189.9 145.2h0M209.7 140.8h0M190.4 125.1h0M195.1 142.0h0M183.4 140.1h0M189.0 161.8h0M212.4 130.9h0M187.7 157.6h0M188.2 146.9h0M216.4 141.9h0M192.8 127.0h0M194.4 138.0h0M213.5 127.1h0M193.5 142.1h0M184.5 137.1h0M215.8 135.0h0M204.3 150.3h0M192.3 136.9h0M216.4 148.4h0M223.3 148.2h0M199.0 166.1h0M207.2 148.9h0M216.7 137.2h0M191.5 132.5h0M211.5 151.0h0M188.1 160.6h0M200.8 163.9h0M221.7 151.7h0M189.1 134.0h0M218.3 145.9h0M204.2 140.9h0M213.0 138.7h0M216.7 144.6h0M216.2 131.4h0M187.8 131.8h0M194.0 122.2h0M192.2 139.9h0M189.5 164.1h0M184.8 134.7h0M191.3 146.2h0M185.8 146.4h0M189.3 156.4h0M198.4 138.4h0M203.7 155.1h0M186.9 156.4h0M196.4 133.3h0M194.5 167.2h0M221.2 141.7h0M201.6 151.2h0M185.2 130.8h0M205.5 137.9h0M192.4 123.2h0M206.4 140.3h0M201.3 141.2h0M199.9 145.7h0M200.7 160.5h0M213.6 148.8h0M216.7 152.4h0M194.2 129.4h0M190.3 134.5h0M186.6 129.7h0M187.7 132.3h0M199.0 159.1h0M220.3 148.6h0M203.6 143.9h0M208.7 137.3h0M202.5 136.5h0M185.5 151.1h0M207.3 148.1h0M186.5 152.4h0M199.9 136.3h0M196.1 142.0h0M200.7 154.3h0M221.7 145.5h0M190.0 165.0h0M187.9 130.2h0M197.5 163.9h0M193.6 136.2h0M210.7 138.8h0M194.4 137.1h0M218.6 135.7h0M189.6 133.5h0M198.7 165.7h0M202.1 162.1h0M219.4 148.6h0M212.6 127.4h0M186.9 144.0h0M219.5 146.7h0M188.0 128.3h0M206.8 146.8h0M191.5 135.0h0M187.1 145.1h0M216.4 133.0h0M206.8 136.1h0M194.4 161.7h0M204.7 140.6h0M202.3 159.1h0M215.3 133.2h0M192.1 130.1h0M205.6 139.8h0M194.4 157.3h0M187.6 142.3h0M221.8 146.2h0M209.3 147.3h0M210.9 137.4h0M207.8 140.9h0M220.3 143.4h0M212.4 142.7h0M188.8 145.0h0M191.3 137.3h0M194.1 145.0h0M192.4 148.5h0M193.6 126.2h0M187.6 140.4h0M202.3 149.5h0M186.6 129.2h0M195.3 124.2h0M186.0 137.2h0M197.9 155.8h0M190.2 124.1h0M195.6 160.5h0M210.5 132.9h0M186.4 143.9h0M205.8 147.5h0M212.7 147.0h0M192.5 157.1h0M198.4 152.1h0M216.2 140.7h0M192.7 128.7h0M213.8 137.2h0M221.2 143.7h0M203.0 161.9h0M200.0 157.8h0M196.6 129.0h0M207.2 149.7h0M198.6 137.6h0M210.8 139.0h0M213.8 146.4h0M214.6 138.6h0M189.8 142.9h0M184.0 147.6h0M214.9 138.3h0M209.4 142.0h0M197.8 163.1h0M190.4 151.8h0M187.9 158.4h0M210.2 145.4h0M208.4 138.2h0M194.1 160.4h0M186.1 153.0h0M200.3 147.2h0M212.5 143.4h0M209.9 140.7h0M201.0 160.8h0M206.8 144.9h0M213.3 136.6h0M216.9 150.1h0M192.8 152.4h0M216.8 131.8h0M197.3 146.2h0M192.0 153.1h0M216.2 143.1h0M184.1 136.4h0M212.3 149.4h0M203.5 157.1h0M222.4 144.2h0M193.7 156.5h0M189.9 128.3h0M210.4 132.9h0M214.9 134.0h0M201.9 138.1h0M190.7 133.4h0M211.4 143.9h0M193.7 160.2h0M192.9 165.1h0M194.0 158.6h0M211.0 136.9h0M215.0 133.8h0M192.9 121.6h0M190.8 123.6h0M199.6 136.8h0M186.8 159.3h0M197.1 157.2h0M195.6 131.5h0M196.5 151.8h0M198.0 159.0h0M201.5 153.8h0M198.4 154.6h0M207.7 140.9h0M209.6 136.4h0M190.6 131.8h0M204.5 150.6h0M196.0 161.4h0M187.0 147.4h0M199.7 165.1h0M215.8 129.6h0M196.1 137.2h0M186.6 160.1h0M194.0 150.5h0M189.7 143.0h0M186.5 157.4h0M222.5 144.6h0M196.7 166.9h0M199.5 161.2h0M220.0 138.5h0M214.5 151.5h0M197.9 135.3h0M201.0 151.4h0M204.5 148.7h0M194.1 151.8h0M185.8 131.8h0M189.2 134.0h0M214.5 143.4h0M200.0 136.0h0M185.3 143.4h0M210.1 145.8h0M195.2 166.0h0M207.0 138.7h0M194.2 153.3h0M217.0 131.3h0M200.9 150.0h0M183.6 146.3h0M184.8 142.0h0M196.3 150.8h0M188.2 160.4h0M185.1 147.3h0M197.4 161.6h0M220.1 140.5h0M197.4 141.3h0M212.5 133.3h0M197.9 148.5h0M221.5 152.6h0M193.9 164.5h0M193.7 144.1h0M193.0 136.9h0M215.6 131.8h0M200.7 149.6h0M199.0 145.7h0M204.0 145.3h0M209.7 143.7h0M217.1 146.0h0M198.4 148.4h0M182.9 142.4h0M220.4 152.4h0M196.3 147.9h0M197.9 146.4h0M186.6 130.0h0M189.5 165.8h0M198.9 139.5h0M213.4 130.9h0M186.7 133.4h0M216.4 137.5h0M207.6 143.5h0M197.4 158.5h0M218.9 147.2h0M191.1 149.8h0M194.2 143.2h0M186.2 162.6h0M189.4 124.2h0M212.9 134.5h0M207.9 149.5h0M184.4 155.0h0M184.1 140.9h0M205.4 141.3h0M192.9 124.1h0M190.7 160.0h0M200.6 146.7h0M187.9 157.5h0M193.1 149.5h0M183.7 139.6h0M199.0 146.7h0M218.3 140.2h0M186.1 155.6h0M204.7 147.4h0M188.8 163.9h0M190.1 149.6h0M185.9 158.3h0M189.8 162.0h0M203.5 149.2h0M190.8 164.0h0M205.2 143.7h0M187.0 145.8h0M199.3 134.0h0M203.8 143.8h0M199.8 162.2h0M187.9 163.3h0M215.2 133.0h0M197.4 146.5h0M210.8 143.1h0M201.6 161.6h0M189.2 147.8h0M189.7 127.1h0M204.6 148.5h0M213.8 143.6h0M200.0 156.2h0M217.6 132.5h0M187.7 135.9h0M190.0 132.5h0M189.8 122.9h0M194.2 159.8h0M197.2 153.3h0M192.0 164.6h0M216.5 134.6h0M216.4 148.8h0M198.0 161.4h0M184.1 144.6h0M202.0 143.5h0M194.2 146.5h0M196.2 167.3h0M185.1 135.2h0M201.6 149.0h0M202.2 146.5h0M186.5 159.8h0M199.6 146.8h0M195.8 130.7h0M192.9 141.9h0M188.6 154.1h0M193.4 164.5h0M207.5 148.2h0M214.9 150.2h0M195.5 148.4h0M186.5 141.2h0M192.2 164.8h0M196.7 155.1h0M190.1 155.7h0M222.1 143.4h0M196.4 144.8h0M189.4 159.1h0M188.9 143.8h0M191.3 141.9h0M192.4 132.6h0M190.5 131.2h0M208.1 134.2h0M219.2 144.8h0M196.7 148.8h0M207.3 140.5h0M219.1 143.9h0M209.2 134.9h0M198.1 159.4h0M222.3 149.6h0M199.0 138.0h0M185.1 138.4h0M196.3 136.5h0M214.9 144.6h0M194.7 153.1h0M215.7 152.3h0M187.9 134.1h0M191.1 146.5h0M192.8 146.2h0M219.8 147.4h0M190.6 159.1h0M194.9 164.0h0M213.2 129.4h0M186.4 135.2h0M202.9 161.4h0M186.2 133.4h0M203.8 147.0h0M195.9 165.2h0M218.6 145.0h0M192.2 134.3h0M189.6 122.5h0M222.4 151.7h0M194.1 138.0h0M190.8 165.5h0M211.6 133.1h0M198.2 155.9h0M190.0 152.3h0M190.3 136.8h0M193.7 144.7h0M191.3 151.8h0M196.2 144.8h0M218.8 151.9h0M203.2 153.0h0M218.5 139.4h0M200.5 164.6h0M187.0 147.7h0M214.5 135.1h0M218.6 152.1h0M192.4 154.0h0M193.0 126.1h0M189.5 157.1h0M191.7 156.0h0M190.3 142.7h0M201.9 155.0h0M210.9 139.1h0M193.5 124.4h0M204.0 150.3h0M214.6 128.3h0M199.6 154.1h0M191.1 162.4h0M215.6 150.1h0M192.5 150.7h0M217.6 152.8h0M192.8 166.9h0M203.8 160.4h0M194.4 122.9h0M217.8 151.7h0M195.6 135.5h0M190.0 164.8h0M198.2 160.9h0M193.7 153.0h0M214.7 136.6h0M191.3 152.5h0M189.5 132.3h0M187.5 152.6h0M190.6 157.4h0M193.9 167.1h0M211.9 145.6h0M195.6 128.4h0M212.8 136.6h0M208.0 146.6h0M199.0 152.7h0M197.5 154.8h0M188.1 130.9h0M193.5 145.6h0M221.0 151.3h0M204.9 146.3h0M201.3 150.3h0M215.1 137.6h0M191.6 149.3h0M218.0 141.2h0M201.5 156.4h0M188.8 128.4h0M222.4 151.9h0M183.2 145.5h0M221.7 142.2h0M186.8 162.7h0M193.6 135.6h0M196.2 161.3h0M213.6 144.8h0M216.0 152.0h0M190.1 139.0h0M208.7 143.8h0M198.1 157.1h0M194.2 148.2h0M190.2 159.0h0M213.5 129.9h0M202.4 144.6h0M207.9 137.5h0M208.2 148.1h0M194.0 140.1h0M202.7 137.4h0M210.1 139.6h0M194.9 166.3h0M184.4 157.1h0M211.9 137.0h0M213.5 133.7h0M198.0 157.4h0M203.3 145.3h0M183.8 135.4h0M193.3 141.0h0M189.8 164.3h0M199.2 151.2h0M196.6 134.3h0M218.1 150.7h0M191.1 164.1h0M191.0 124.0h0M196.3 156.5h0M196.2 163.8h0M193.7 137.0h0M193.7 140.2h0M194.5 139.7h0M208.2 149.0h0M198.3 163.2h0M198.6 134.2h0M193.0 126.4h0M192.0 161.8h0M213.4 128.2h0M196.6 143.2h0M192.1 133.2h0M213.5 139.3h0M216.2 143.3h0M220.7 143.2h0M208.6 142.2h0M186.3 143.8h0M201.9 150.8h0M186.8 133.9h0M193.3 126.6h0M190.7 147.4h0M213.9 134.4h0M210.9 132.6h0M191.3 151.2h0M184.3 155.8h0M196.1 160.6h0M194.2 151.0h0M194.3 122.6h0M217.5 137.0h0M195.8 134.0h0M214.8 128.6h0M210.6 143.6h0M206.5 139.8h0M196.5 143.4h0M192.9 136.8h0M194.0 121.8h0M207.6 143.0h0M187.2 162.6h0M187.0 140.8h0M208.7 140.7h0M214.6 138.2h0M198.8 146.4h0M188.1 149.8h0M213.8 150.5h0M212.2 128.2h0M211.8 131.2h0M200.4 162.3h0M211.6 139.5h0M188.0 158.9h0M197.6 156.9h0M202.3 140.3h0M210.3 146.7h0M200.1 151.7h0M211.8 141.1h0M214.2 136.4h0M188.8 154.7h0M200.7 151.0h0M216.6 128.8h0M217.0 147.5h0M186.5 138.2h0M211.6 140.6h0M198.2 132.1h0M217.9 150.2h0M212.8 149.1h0M191.1 151.3h0M216.3 146.0h0M221.5 146.0h0M216.6 138.1h0M186.4 161.7h0M195.4 162.4h0M196.0 130.5h0M201.3 150.7h0M221.4 147.1h0M194.6 133.9h0M198.5 151.9h0M203.4 154.7h0M184.1 133.1h0M185.7 153.9h0M210.7 130.3h0M211.9 143.1h0M203.4 155.5h0M189.7 122.0h0M195.1 160.1h0M199.3 143.8h0M214.1 151.2h0M192.2 153.4h0M217.9 150.1h0M215.2 137.3h0M206.0 146.3h0M186.5 140.6h0M191.8 157.5h0M199.3 145.1h0M186.9 151.5h0M193.2 161.2h0M191.7 126.1h0M219.2 152.6h0M183.4 148.9h0M191.4 131.0h0M188.3 125.9h0M211.0 142.1h0M188.3 143.8h0M223.0 148.0h0M188.3 128.6h0M214.9 147.6h0M202.9 149.0h0M188.3 162.6h0M209.9 137.3h0M191.6 148.8h0M222.4 144.9h0M208.5 141.0h0M192.2 150.4h0M212.7 146.3h0M188.0 133.8h0M211.5 147.3h0M185.8 138.4h0M197.0 165.9h0M187.3 162.5h0M205.1 148.0h0M204.5 142.2h0M190.1 149.4h0M193.4 141.9h0M186.6 133.9h0M189.8 144.1h0M184.4 132.1h0M185.7 158.7h0M199.8 162.3h0M188.7 128.2h0M217.6 145.1h0M203.0 147.0h0M198.9 159.1h0M187.6 156.0h0M188.1 133.8h0M202.7 164.1h0M189.3 150.6h0M218.7 150.5h0M202.8 137.7h0M200.3 139.7h0M198.7 145.9h0M213.2 130.8h0M207.6 147.0h0M183.5 134.6h0M210.1 149.2h0M196.0 160.8h0M218.0 146.1h0M183.7 135.3h0M202.8 154.5h0M194.3 153.9h0M191.6 159.3h0M202.7 147.7h0M195.8 159.7h0M213.4 131.6h0M211.2 132.2h0M194.1 148.5h0M212.2 151.0h0M221.8 146.6h0M191.4 141.0h0M210.7 140.7h0M198.2 140.0h0M201.9 152.6h0M202.9 141.8h0M197.1 161.5h0M192.9 124.8h0M183.6 134.1h0M184.5 156.0h0M189.0 133.7h0M213.8 150.9h0M212.0 136.1h0M210.2 144.7h0M222.6 151.4h0M215.2 147.2h0M196.4 146.6h0M208.1 137.8h0M195.8 164.8h0M184.9 148.4h0M214.1 127.0h0M205.6 140.8h0M187.3 155.1h0M215.6 134.7h0M208.5 148.5h0M186.0 138.1h0M213.0 128.1h0M201.8 151.7h0M209.4 132.1h0M199.5 154.3h0M196.0 152.9h0M213.9 141.1h0M187.7 158.8h0M209.1 147.6h0M192.6 151.6h0M191.3 161.7h0M186.7 162.6h0M190.8 125.7h0M190.4 156.9h0M213.0 150.0h0M220.5 153.4h0M191.7 125.5h0M197.3 152.5h0M192.5 160.6h0M194.3 127.2h0M189.2 154.8h0M214.0 145.7h0M197.5 166.9h0M184.3 150.7h0M191.0 140.5h0M197.9 137.7h0M193.1 155.2h0M213.3 142.4h0M203.6 142.8h0M206.6 146.4h0M191.5 163.9h0M198.2 164.3h0M206.4 148.3h0M188.6 152.0h0M189.7 131.2h0M220.3 139.7h0M187.8 135.2h0M189.4 164.6h0M193.2 138.1h0M207.2 136.1h0M217.5 139.1h0M195.5 130.7h0M201.6 164.4h0M215.9 131.7h0M218.8 148.3h0M196.0 155.2h0M205.4 141.2h0M195.6 132.0h0M208.0 150.1h0M191.8 137.3h0M199.1 134.6h0M194.9 164.2h0M203.5 148.1h0M199.1 155.4h0M197.2 145.9h0M195.3 154.5h0M200.1 158.1h0M193.4 153.2h0M184.4 157.2h0M206.5 146.8h0M188.8 162.8h0M189.6 140.5h0M217.7 153.2h0M187.9 152.4h0M215.6 141.1h0M219.3 142.2h0M196.1 154.2h0M218.9 137.5h0M211.4 137.3h0M191.6 159.2h0M187.3 148.5h0M211.3 135.1h0M189.6 138.8h0M213.1 127.5h0M209.4 141.6h0M208.9 133.3h0M206.7 143.5h0M219.9 151.2h0M197.7 165.5h0M190.2 144.5h0M211.8 141.7h0M209.6 134.9h0M198.2 142.2h0M193.8 150.9h0M209.4 139.6h0M184.0 155.5h0M186.9 160.2h0M220.8 153.3h0M220.7 151.9h0M184.0 153.9h0M192.4 126.0h0M191.4 164.6h0M199.0 155.9h0M210.4 135.4h0M218.2 136.5h0M195.1 127.6h0M200.4 147.2h0M199.2 159.9h0M194.9 161.2h0M195.0 132.4h0M217.1 144.1h0M185.8 154.8h0M184.0 152.0h0M212.6 150.5h0M219.1 136.6h0M201.2 162.0h0M215.8 129.8h0M203.0 142.0h0M209.1 148.4h0M219.2 146.7h0M217.9 143.0h0M192.1 128.2h0M197.6 148.2h0M216.1 140.9h0M193.0 125.4h0M194.8 162.3h0M195.2 130.9h0M191.4 164.6h0M189.8 140.0h0M191.0 157.2h0M183.2 145.7h0M183.9 133.1h0M197.6 153.3h0M215.1 150.2h0M203.2 146.2h0M213.2 140.0h0M185.4 156.2h0M208.9 146.1h0M192.2 157.4h0M195.3 148.0h0M192.3 142.1h0M194.0 149.4h0M202.5 151.6h0M196.0 156.2h0M185.2 147.0h0M191.0 130.9h0M210.3 133.7h0M195.8 143.7h0M192.2 141.0h0M212.1 130.8h0M195.4 160.6h0M215.2 135.5h0M186.8 130.6h0M185.6 152.7h0M207.4 144.4h0M190.7 150.3h0M183.5 141.8h0M184.8 134.9h0M208.9 134.4h0M184.5 138.8h0M211.8 139.1h0M190.5 131.4h0M188.8 132.4h0M212.9 148.5h0M189.3 125.1h0M197.6 149.9h0M198.8 157.9h0M188.5 152.7h0M204.7 139.7h0M198.9 162.0h0M199.7 147.6h0M194.9 159.4h0M203.0 138.7h0M222.0 151.4h0M203.2 155.5h0M184.4 148.4h0M197.5 143.4h0M195.0 142.0h0M188.4 134.2h0M188.7 141.0h0M205.5 138.5h0M193.5 131.6h0M187.4 127.9h0M210.2 143.4h0M189.2 143.4h0M187.5 151.4h0M193.9 125.5h0M202.9 161.5h0M212.6 142.0h0M185.7 156.6h0M221.5 148.6h0M193.1 157.5h0M213.6 146.5h0M202.7 156.4h0M196.1 156.1h0M188.0 128.5h0M204.9 140.0h0M201.6 152.3h0M198.8 137.7h0M201.9 147.2h0M183.6 134.2h0M211.7 133.8h0M189.3 132.1h0M203.8 139.0h0M210.5 144.5h0M196.8 150.8h0M211.9 140.7h0M212.6 149.4h0M189.9 134.2h0M184.5 148.1h0M189.6 140.2h0M199.8 143.2h0M217.2 149.1h0M200.6 164.1h0M207.6 137.5h0M190.1 160.5h0M214.7 133.8h0M215.7 146.0h0M193.3 152.3h0M191.1 146.3h0M199.5 160.0h0M218.7 137.1h0M215.3 149.4h0M188.3 128.5h0M211.2 137.7h0M214.6 149.9h0M193.1 137.8h0M188.5 136.9h0M189.1 147.6h0M192.7 152.9h0M194.6 121.7h0M184.3 147.4h0M190.7 142.8h0M191.1 148.8h0M213.8 151.1h0M193.8 138.0h0M190.0 125.8h0M194.3 150.8h0M204.2 142.0h0M193.8 134.4h0M210.8 135.5h0M187.5 154.8h0M196.5 159.6h0M216.5 139.4h0M205.4 137.1h0M209.1 148.0h0M202.5 143.7h0M206.8 138.8h0M201.9 143.7h0M202.6 154.4h0M191.9 164.7h0M191.3 135.3h0M189.0 143.2h0M194.5 140.8h0M204.9 146.8h0M218.7 139.5h0M193.0 144.8h0M201.5 148.8h0M219.0 147.8h0M215.5 143.1h0M184.9 136.0h0M188.3 143.9h0M219.3 138.4h0M219.1 141.9h0M185.4 132.0h0M184.6 152.9h0M201.9 147.0h0M192.6 121.5h0M212.7 143.4h0M190.6 148.2h0M221.2 141.2h0M195.9 142.0h0M198.2 161.2h0M188.3 134.0h0M188.6 137.3h0M194.5 152.0h0M183.6 148.3h0M185.9 144.3h0M192.1 135.8h0M211.8 149.6h0M204.2 155.2h0M220.9 142.4h0M209.3 133.0h0M196.2 137.4h0M194.7 127.4h0M185.9 131.4h0M200.9 154.8h0M187.5 138.8h0M219.8 143.6h0M211.7 130.9h0M207.1 139.5h0M188.9 151.0h0M196.3 127.6h0M204.7 145.3h0M194.8 146.2h0M189.8 139.6h0M189.4 130.7h0M210.5 133.2h0M193.5 159.5h0M221.0 142.2h0M221.7 150.8h0M202.4 160.6h0M216.4 139.8h0M188.3 142.9h0M184.9 142.4h0M201.9 163.3h0M207.9 144.5h0M201.0 163.7h0M202.4 143.6h0M193.1 143.2h0M186.1 161.5h0M213.7 134.4h0M211.9 139.0h0M192.0 130.2h0M197.6 142.5h0M191.6 140.5h0M204.8 144.8h0M221.1 152.4h0M193.3 124.4h0M199.6 157.5h0M193.9 130.0h0M191.7 139.4h0M194.0 129.2h0M199.5 164.1h0M190.3 132.1h0M192.0 148.9h0M191.8 153.4h0M210.2 129.5h0M192.7 128.0h0M199.1 136.1h0M221.3 147.1h0M198.1 144.7h0M184.8 149.4h0M212.7 134.5h0M195.2 128.5h0M214.5 127.8h0M215.8 132.9h0M194.9 159.0h0M196.7 156.7h0M196.8 165.8h0M188.5 126.0h0M208.7 138.1h0M215.7 149.8h0M219.2 152.7h0M191.5 139.1h0M188.7 139.3h0M183.7 138.4h0M187.4 139.1h0M193.5 157.0h0M202.0 152.5h0M194.7 156.2h0M202.9 147.7h0M198.1 163.5h0M206.0 148.5h0M217.6 152.5h0M191.1 160.3h0M187.4 129.7h0M213.9 143.2h0M186.7 155.6h0M188.5 148.2h0M210.7 139.1h0M186.1 130.4h0M187.9 141.7h0M184.2 153.1h0M197.3 154.0h0M194.1 159.6h0M190.4 127.3h0M203.9 148.8h0M214.7 133.9h0M196.3 163.7h0M217.6 149.7h0M207.8 143.8h0M205.1 146.5h0M191.1 166.6h0M192.6 162.8h0M187.6 127.8h0M219.3 143.4h0M218.2 150.7h0M196.1 141.4h0M216.9 138.1h0M198.2 159.2h0M199.5 140.3h0M217.3 137.3h0M194.0 155.8h0M206.3 141.6h0M194.8 153.6h0M189.0 129.6h0M197.9 165.1h0M189.1 150.7h0M193.2 141.0h0M211.8 130.1h0M199.5 164.3h0M201.3 148.3h0M208.1 137.5h0M197.1 143.0h0M196.2 138.6h0M191.8 154.6h0M201.2 147.0h0M211.6 128.6h0M200.8 137.3h0M213.4 136.7h0M187.9 137.9h0M223.3 147.7h0M206.3 144.4h0M212.8 137.2h0M186.9 161.4h0M219.2 152.1h0M215.3 151.4h0M192.0 155.5h0M187.0 135.4h0M208.1 146.4h0M201.8 157.7h0M187.7 162.7h0M194.9 133.5h0M185.0 141.0h0M196.3 135.2h0M215.2 144.2h0M194.4 137.1h0M185.1 136.0h0M189.1 132.5h0M189.3 137.1h0M184.4 141.0h0M221.4 147.8h0M221.2 146.0h0M202.3 164.2h0M184.3 149.9h0M188.0 160.9h0M213.0 131.8h0M185.8 152.6h0M210.8 134.8h0M218.4 149.3h0M186.1 135.9h0M183.6 137.7h0M214.7 146.7h0M188.1 143.0h0M203.5 154.8h0M196.5 162.2h0M194.4 130.8h0M202.3 159.6h0M206.1 147.4h0M200.9 151.0h0M186.6 156.7h0M210.8 147.1h0M204.1 138.6h0M184.5 158.6h0M219.7 145.4h0M192.4 132.9h0M201.9 140.9h0M185.3 141.8h0M190.1 126.7h0M187.9 133.5h0M207.4 145.7h0M192.3 132.8h0M193.5 160.7h0M215.4 144.6h0M218.0 152.4h0M201.3 162.7h0M189.8 140.3h0M217.4 137.6h0M185.2 140.5h0M195.8 150.6h0M219.9 139.8h0M185.7 132.0h0M190.7 135.6h0M200.6 166.7h0M190.1 152.8h0M219.9 149.2h0M190.6 156.5h0M203.4 136.9h0M184.3 137.2h0M190.9 123.7h0M214.6 149.4h0M208.4 141.9h0M190.2 125.8h0M219.8 141.0h0M185.2 153.8h0M201.2 157.6h0M199.6 137.3h0M212.9 140.3h0M191.6 167.0h0M203.1 138.7h0M217.0 153.2h0M197.5 150.9h0M200.3 154.5h0M185.0 153.4h0M187.6 130.1h0M191.5 154.6h0M220.2 143.2h0M211.8 148.6h0M201.7 164.1h0M214.0 142.8h0M211.3 132.6h0M195.2 142.0h0M187.7 140.9h0M185.3 157.5h0M197.6 137.6h0M187.2 152.0h0M183.9 135.2h0M220.0 141.2h0M193.0 134.6h0M197.6 146.1h0M197.4 165.0h0M194.9 125.8h0M184.2 140.9h0M210.9 148.9h0M193.0 140.6h0M193.4 124.7h0M199.8 147.9h0M196.5 143.3h0M183.4 141.8h0M200.1 162.4h0M214.8 133.4h0M216.3 142.8h0M194.9 161.7h0M189.3 123.0h0M185.7 148.8h0M201.3 150.2h0M190.3 166.5h0M186.4 136.9h0M190.2 164.4h0M213.8 135.6h0M185.7 149.8h0M209.3 137.7h0M220.1 144.0h0M196.8 131.9h0M187.9 138.7h0M195.6 141.2h0M208.9 147.7h0M211.6 136.2h0M202.2 149.7h0M217.2 132.3h0M210.7 147.9h0M203.7 137.1h0M215.0 144.8h0M205.4 141.0h0M197.1 136.6h0M199.4 144.6h0M220.3 139.3h0M203.4 153.8h0M206.4 142.0h0M183.8 152.2h0M187.2 150.9h0M185.8 133.6h0M219.3 148.4h0M194.6 130.2h0M189.2 162.6h0M194.0 151.7h0M220.4 142.5h0M197.6 155.2h0M199.5 141.6h0M198.5 134.7h0M187.0 161.7h0M213.0 128.3h0M212.9 130.6h0M195.5 158.2h0M207.6 146.0h0M220.8 140.4h0M192.8 152.1h0M189.6 128.1h0M219.6 142.0h0M193.1 144.8h0M189.1 146.6h0M192.6 123.0h0M203.7 153.0h0M187.7 145.7h0M211.8 138.7h0M190.8 133.5h0M206.1 149.3h0M197.4 139.7h0M194.2 149.1h0M205.6 147.7h0M214.3 143.1h0M192.3 123.1h0M187.3 128.5h0M198.5 158.7h0M192.5 128.1h0M186.7 148.5h0M201.5 147.2h0M188.7 137.0h0M190.9 156.2h0M191.3 138.5h0M208.8 134.1h0M201.6 136.6h0M198.6 159.5h0M215.6 132.2h0M188.7 135.8h0M191.6 158.1h0M195.3 147.1h0M185.9 147.1h0M186.3 158.1h0M189.6 141.0h0M192.7 149.8h0M190.9 125.2h0M186.9 133.6h0M184.3 151.5h0M195.8 143.1h0M196.5 147.6h0M214.0 143.1h0M196.9 145.4h0M215.2 146.7h0M222.1 147.0h0M188.1 160.2h0M188.9 149.4h0M189.7 153.8h0M198.3 134.7h0M193.3 130.5h0M207.4 144.8h0M207.8 146.4h0M183.6 149.9h0M198.0 134.8h0M183.9 133.8h0M190.9 136.1h0M198.8 141.5h0M184.4 134.1h0M208.3 143.7h0M208.5 134.4h0M216.1 147.6h0M191.8 166.7h0M192.9 143.4h0M201.3 163.6h0M218.7 137.2h0M195.7 167.5h0M200.8 148.3h0M203.1 145.4h0M197.5 159.1h0M186.5 156.0h0M202.3 149.9h0M220.5 150.1h0M187.7 138.0h0M194.0 150.0h0M199.5 141.7h0M193.3 144.0h0M183.3 141.5h0M217.5 134.7h0M209.5 146.3h0M213.0 140.7h0M199.2 162.4h0M204.0 146.0h0M222.9 147.4h0M195.1 165.0h0M209.2 140.4h0M191.5 150.6h0M200.6 153.4h0M208.7 133.9h0M195.4 125.9h0M190.0 123.8h0M210.8 134.9h0M209.5 150.5h0M209.3 135.2h0M200.1 138.0h0M192.9 144.9h0M198.6 161.9h0M196.7 163.8h0M210.1 137.2h0M219.6 149.8h0M216.0 134.5h0M187.3 128.2h0M200.1 153.5h0M212.9 131.1h0M212.4 141.2h0M192.8 122.1h0M193.7 150.9h0M196.2 134.5h0M218.8 152.7h0M193.8 149.0h0M213.7 136.2h0M188.8 141.0h0M214.3 127.4h0M199.9 140.2h0M204.4 140.9h0M197.8 145.5h0M192.1 121.9h0M215.0 135.4h0M205.7 144.7h0M193.4 142.0h0M190.1 130.7h0M202.9 160.4h0M194.8 151.7h0M196.3 143.8h0M186.4 138.0h0M190.3 151.8h0M194.1 132.8h0M192.6 156.7h0M184.6 141.8h0M195.1 139.9h0M194.9 156.9h0M201.9 157.0h0M188.4 146.4h0M192.2 142.8h0M190.2 153.5h0M212.2 128.8h0M203.5 139.0h0M194.7 160.9h0M202.7 162.9h0M209.1 134.5h0M189.8 135.1h0M220.3 140.7h0M217.8 133.9h0M214.2 145.1h0M214.6 151.5h0M213.0 128.8h0M218.8 147.8h0M190.8 141.4h0M212.6 150.4h0M218.1 140.5h0M191.7 164.5h0M213.4 147.4h0M202.7 157.9h0M196.0 153.9h0M198.3 166.2h0M186.6 138.0h0M200.2 135.7h0M191.8 124.7h0M194.1 125.0h0M207.0 149.6h0M189.0 149.0h0M185.0 150.2h0M201.0 154.8h0M219.1 140.0h0M195.1 155.9h0M203.0 138.0h0M193.0 133.2h0M193.4 151.1h0M197.6 160.4h0M211.7 131.8h0M195.2 129.9h0M218.0 138.6h0M193.9 126.2h0M196.2 129.9h0M218.2 135.5h0M203.0 155.8h0M187.4 146.0h0M195.4 125.9h0M197.0 159.9h0M206.3 148.7h0M184.7 153.3h0M215.2 142.4h0M195.4 156.3h0" stroke="#d5d5d5" stroke-width="1.00" stroke-linecap="round" opacity="1.0" fill="none"/>
<path d="M202.1 143.1h0M194.8 163.5h0M216.1 133.5h0M214.8 144.6h0M184.8 143.4h0M196.3 155.5h0M200.8 162.9h0M204.7 139.5h0M203.0 148.2h0M215.4 145.8h0M195.7 151.9h0M202.1 164.0h0M196.0 140.8h0M213.9 141.6h0M196.8 166.0h0M210.0 130.5h0M188.4 141.3h0M221.2 150.2h0M220.5 149.1h0M200.3 166.8h0M191.8 153.7h0M199.3 162.5h0M195.8 145.2h0M216.2 128.7h0M198.0 132.0h0M217.9 138.6h0M215.5 134.7h0M190.0 155.5h0M214.4 151.4h0M198.9 134.8h0M189.1 157.2h0M222.9 146.2h0M186.9 143.9h0M190.1 130.6h0M213.0 131.8h0M207.7 148.7h0M217.2 148.2h0M198.4 137.8h0M214.7 150.2h0M187.3 163.4h0M200.2 158.5h0M197.1 132.3h0M198.3 136.1h0M215.8 145.1h0M221.4 145.7h0M196.5 133.3h0M218.1 143.8h0M195.3 164.7h0M212.2 148.1h0M200.9 161.5h0M194.5 139.7h0M187.6 147.5h0M185.6 149.9h0M215.4 141.9h0M196.0 150.8h0M185.8 140.6h0M184.0 139.2h0M213.7 128.2h0M211.2 139.0h0M194.8 151.2h0M195.7 136.3h0M221.4 146.5h0M221.0 143.3h0M209.9 129.9h0M207.8 145.0h0M196.3 128.0h0M207.0 138.0h0M220.0 140.0h0M197.6 166.6h0M184.1 151.0h0M193.8 146.8h0M200.4 157.8h0M219.5 142.6h0M191.1 140.9h0M214.0 142.6h0M194.0 158.3h0M208.7 133.6h0M214.9 138.6h0M192.0 166.8h0M217.2 131.3h0M203.1 146.2h0M183.8 136.8h0M191.1 160.4h0M217.4 129.3h0M184.2 137.8h0M198.2 147.0h0M200.2 166.5h0M199.2 136.7h0M187.8 161.5h0M183.4 138.8h0M192.6 122.2h0M217.9 141.9h0M200.1 156.1h0M194.8 163.8h0M217.1 145.1h0M221.4 149.8h0M192.2 135.5h0M202.2 138.8h0M195.6 159.2h0M190.3 123.0h0M214.5 143.2h0M213.4 128.2h0M184.5 156.7h0M193.9 161.2h0M195.8 162.5h0M188.7 146.3h0M191.3 159.3h0M187.4 134.6h0M196.1 154.3h0M197.3 166.7h0M197.0 134.9h0M196.5 149.0h0M184.6 145.1h0M195.4 157.7h0M191.8 161.4h0M221.7 147.8h0M211.2 143.4h0M186.7 140.9h0M195.4 163.7h0M215.4 149.5h0M212.5 131.1h0M185.1 156.5h0M187.4 145.7h0M186.0 129.4h0M198.5 153.1h0M193.8 130.3h0M210.0 149.2h0M195.9 131.8h0M214.7 139.3h0M216.7 145.8h0M189.2 136.5h0M188.3 143.8h0M198.4 147.6h0M205.9 144.5h0M210.8 140.0h0M185.6 138.5h0M199.0 134.4h0M188.2 128.9h0M186.1 147.1h0M206.2 136.4h0M215.3 136.3h0M199.5 163.3h0M221.7 148.1h0M195.1 146.8h0M184.8 149.9h0M201.3 155.3h0M189.9 160.1h0M210.1 144.5h0M197.7 141.0h0M184.2 145.7h0M220.6 150.6h0M209.6 142.2h0M217.8 146.6h0M186.8 162.4h0M193.4 163.5h0M193.3 165.3h0M198.0 165.9h0M198.0 161.0h0M212.3 147.9h0M192.1 139.7h0M214.6 142.1h0M216.8 140.7h0M214.7 139.7h0M217.6 137.9h0M220.7 143.9h0M186.8 150.8h0M194.3 160.2h0M201.9 150.5h0M211.8 141.1h0M185.8 129.8h0M191.5 128.3h0M185.4 136.8h0M199.2 146.2h0M186.1 156.1h0M214.2 138.7h0M199.6 141.0h0M214.7 142.2h0M218.2 153.6h0M192.0 156.5h0M194.8 131.3h0M205.9 142.5h0M195.9 143.2h0M196.8 154.7h0M216.2 130.7h0M203.8 146.4h0M205.8 138.1h0M217.9 150.2h0M205.6 147.3h0M186.6 151.5h0M213.3 140.7h0M196.9 159.1h0M186.8 137.2h0M191.7 125.1h0M217.0 137.2h0M205.2 151.6h0M216.8 150.0h0M183.2 139.6h0M186.6 132.0h0M199.3 134.6h0M193.9 136.7h0M207.7 147.2h0M197.5 133.6h0M210.6 134.3h0M219.0 137.0h0M194.3 121.6h0M217.5 148.9h0M201.6 163.1h0M195.6 134.3h0M188.4 137.0h0M220.4 148.6h0M214.1 138.7h0M187.4 161.4h0M199.8 149.5h0M211.7 141.8h0M219.4 147.8h0M190.5 149.1h0M190.7 156.6h0M210.7 142.5h0M199.2 161.1h0M211.4 129.9h0M216.9 139.8h0M216.7 137.5h0M220.8 149.9h0M188.5 154.2h0M213.7 139.7h0M189.2 150.8h0M211.2 133.7h0M213.0 148.9h0M220.0 142.8h0M185.2 149.5h0M217.0 131.0h0M191.0 164.0h0M209.4 135.5h0M200.5 155.3h0M189.1 131.7h0M194.3 159.3h0M211.0 148.3h0M198.4 162.5h0M216.7 145.5h0M193.3 139.6h0M221.3 146.1h0M197.3 132.2h0M215.7 140.4h0M215.0 143.3h0M186.0 160.8h0M193.1 133.1h0M189.7 140.2h0M213.7 126.8h0M199.0 162.6h0M187.4 157.3h0M192.6 159.2h0M219.6 142.9h0M183.6 138.4h0M195.4 153.6h0M194.5 152.8h0M197.1 135.0h0M194.3 158.2h0M203.7 137.6h0M221.7 144.4h0M186.3 130.0h0M210.1 144.6h0M215.0 140.4h0M215.4 151.0h0M192.2 143.4h0M217.5 147.7h0M188.3 148.1h0M221.6 144.8h0M217.1 136.5h0M188.4 150.2h0M184.4 137.3h0M214.2 129.0h0M219.5 138.4h0M211.4 149.4h0M192.5 133.0h0M211.3 142.0h0M191.9 125.8h0M187.0 148.7h0M192.1 155.0h0M188.4 137.9h0M208.6 143.3h0M207.1 150.6h0M183.8 147.3h0M187.4 148.5h0M196.5 131.1h0M186.8 149.5h0M210.9 150.3h0M190.2 128.0h0M199.1 134.0h0M194.1 167.5h0M213.8 129.2h0M190.6 126.6h0M211.5 129.9h0M188.8 127.1h0M192.8 159.1h0M185.6 149.0h0M217.7 153.2h0M185.5 142.3h0M211.6 138.8h0M213.9 135.1h0M184.1 155.2h0M218.2 148.4h0M218.5 149.7h0M211.8 131.5h0M186.0 130.9h0M201.5 149.7h0M195.6 153.1h0M196.5 137.4h0M188.0 152.2h0M211.4 134.2h0M208.5 140.7h0M215.6 141.8h0M211.3 133.4h0M193.8 148.7h0M210.3 132.9h0M219.1 153.6h0M214.7 137.7h0M212.6 135.9h0M208.8 144.0h0M214.7 129.7h0M205.0 138.0h0M201.8 141.4h0M201.6 147.1h0M210.3 134.5h0M206.9 141.4h0M195.4 148.4h0M222.8 145.9h0M211.7 134.0h0M215.9 152.1h0M217.2 133.4h0M203.5 153.9h0" stroke="#cf5a3c" stroke-width="1.10" stroke-linecap="round" opacity="0.8" fill="none"/>
<path d="M148.4 245.1h0M158.8 222.8h0M145.9 228.0h0M149.4 236.9h0M154.2 241.7h0M158.6 251.4h0M168.5 237.2h0M148.8 217.6h0M148.2 244.6h0M161.0 239.5h0M139.4 235.5h0M169.5 223.5h0M158.0 227.0h0M151.6 252.7h0M166.3 239.4h0M128.6 223.6h0M135.7 224.0h0M156.1 222.3h0M150.8 242.0h0M138.2 237.0h0M147.7 218.5h0M159.6 250.6h0M143.8 224.9h0M140.4 226.1h0M139.2 225.7h0M168.8 224.8h0M144.7 229.9h0M160.5 233.6h0M167.3 231.1h0M158.8 250.8h0M142.9 240.3h0M147.4 243.5h0M147.6 243.4h0M158.6 251.0h0M146.6 242.2h0M149.8 240.5h0M161.9 232.7h0M163.8 243.8h0M161.2 243.9h0M143.6 224.8h0M161.4 237.6h0M137.7 227.4h0M128.3 221.9h0M130.3 223.7h0M152.7 243.5h0M157.9 223.9h0M163.3 232.1h0M159.0 236.2h0M139.9 224.6h0M168.1 231.6h0M168.4 233.5h0M153.7 226.5h0M152.8 243.6h0M129.7 222.3h0M168.5 232.2h0M154.2 237.2h0M152.0 250.2h0M139.8 226.0h0M150.1 238.1h0M147.7 240.7h0M145.6 227.7h0M147.4 219.4h0M142.2 239.5h0M162.1 241.9h0M154.9 238.3h0M151.8 236.0h0M131.0 220.7h0M150.6 220.2h0M168.5 237.3h0M169.4 234.3h0M141.0 224.3h0M158.8 228.0h0M159.8 237.7h0M158.3 225.7h0M163.6 230.6h0M143.1 229.0h0M165.6 222.3h0M148.1 245.0h0M126.7 222.0h0M135.6 224.4h0M162.2 233.5h0M152.8 243.3h0M150.3 218.5h0M154.1 241.0h0M165.5 232.4h0M153.7 225.4h0M159.3 255.0h0M163.2 245.2h0M138.6 227.2h0M144.6 225.8h0M149.3 244.6h0M141.9 239.2h0M161.1 232.8h0M154.5 240.7h0M153.0 237.0h0M152.5 240.1h0M151.3 240.9h0M151.2 240.7h0M163.7 235.5h0M163.3 240.8h0M140.3 239.6h0M159.5 255.7h0M158.4 236.1h0M151.5 241.2h0M143.8 230.4h0M157.0 224.9h0M129.9 222.1h0M129.2 223.5h0M152.7 241.8h0M163.1 235.9h0M148.7 219.2h0M162.6 242.3h0M166.8 234.1h0M132.5 224.1h0M127.7 222.3h0M140.1 224.0h0M161.2 239.1h0M152.3 241.1h0M161.2 238.2h0M139.6 223.3h0M162.7 243.5h0M148.7 219.9h0M164.5 234.7h0M161.5 232.6h0M158.7 254.7h0M151.3 247.3h0M131.6 221.7h0M128.1 222.5h0M156.5 238.9h0M152.3 239.8h0M137.8 226.6h0M144.5 224.3h0M148.1 243.9h0M128.2 223.7h0M154.6 227.1h0M171.9 231.6h0M164.1 234.0h0M149.5 236.5h0M163.4 230.3h0M142.9 239.7h0M158.8 251.7h0M159.8 237.7h0M163.1 244.6h0M142.1 228.2h0M168.1 238.6h0M150.0 245.5h0M151.9 244.1h0M158.9 252.3h0M154.9 223.4h0M169.7 235.3h0M158.6 224.1h0M162.9 240.9h0M127.3 222.5h0M153.0 236.4h0M168.6 225.5h0M139.8 229.9h0M158.2 227.2h0M134.7 225.2h0M147.1 240.1h0M149.9 244.4h0M154.0 240.2h0M151.0 253.5h0M142.9 240.8h0M151.7 252.7h0M151.8 253.5h0M148.3 243.8h0M145.4 227.4h0M159.4 223.2h0M150.9 252.5h0M148.3 243.1h0M157.8 222.7h0M144.4 227.7h0M129.4 223.0h0M143.4 240.0h0M167.2 235.0h0M151.0 219.4h0M142.1 238.9h0M167.4 224.9h0M128.7 221.5h0M150.7 245.2h0M140.8 240.0h0M141.0 240.2h0M142.6 239.3h0M166.8 233.0h0M157.1 228.3h0M149.0 240.1h0M163.2 239.8h0M135.0 223.8h0M144.3 230.7h0M168.1 238.9h0M143.8 240.6h0M129.2 222.1h0M156.8 223.3h0M148.6 244.3h0M159.9 238.7h0M170.9 224.1h0M165.8 240.8h0M142.9 239.0h0M166.1 236.1h0M138.8 234.5h0M138.2 235.3h0M148.8 245.4h0M130.3 220.5h0M147.6 243.5h0M149.1 237.5h0M146.5 241.3h0M165.9 235.4h0M167.5 222.4h0M141.6 240.0h0M147.5 239.0h0M160.5 239.1h0M139.1 223.6h0M163.6 238.7h0M142.1 224.3h0M169.2 235.7h0M161.0 236.5h0M138.4 228.9h0M154.0 226.1h0M147.3 218.6h0M141.6 225.3h0M126.5 221.4h0M163.0 239.6h0M127.8 221.9h0M148.0 242.9h0M130.4 220.8h0M149.4 243.2h0M158.3 238.2h0M155.6 222.4h0M142.6 227.8h0M150.6 236.7h0M155.0 225.1h0M129.9 222.2h0M128.5 224.1h0M167.6 238.9h0M129.2 221.9h0M141.6 239.4h0M149.7 245.1h0M153.0 245.3h0M142.9 228.3h0M161.2 238.7h0M138.5 228.3h0M168.3 223.9h0M151.9 242.7h0M139.2 237.5h0M128.3 222.2h0M138.2 225.2h0M167.4 231.3h0M141.2 224.8h0M152.8 241.1h0M139.9 223.7h0M163.4 234.9h0M129.6 219.8h0M164.1 237.1h0M141.9 240.2h0M168.2 235.1h0M166.1 240.2h0M161.4 234.4h0M164.2 243.3h0M139.9 225.3h0M163.0 230.2h0" stroke="#c6c6c6" stroke-width="0.90" stroke-linecap="round" opacity="0.9" fill="none"/>
<path d="M131.2 220.9h0M154.7 226.7h0M144.9 225.9h0M144.1 240.3h0M133.6 224.8h0M139.8 227.9h0M141.0 240.7h0M130.4 223.7h0M159.0 251.2h0M156.5 224.6h0M167.5 231.6h0M151.1 255.9h0M151.6 235.9h0M146.9 241.6h0M164.1 230.0h0M147.9 219.0h0M159.8 252.2h0M131.6 222.4h0M158.2 222.7h0M160.5 238.6h0M154.2 242.0h0M158.7 255.1h0M147.5 240.6h0M161.0 238.6h0M139.8 229.1h0M158.1 227.3h0M155.8 224.9h0M151.3 218.3h0M142.5 239.5h0M161.0 236.8h0M155.2 239.2h0M142.5 240.3h0M139.0 232.9h0M148.8 243.4h0M159.1 251.2h0M156.9 224.1h0M127.6 221.1h0M158.0 222.8h0M127.3 223.6h0M150.3 219.6h0M140.1 228.3h0M152.9 240.5h0M148.3 237.6h0M137.6 229.2h0M155.3 239.9h0M134.9 224.7h0M149.7 219.2h0M149.5 236.9h0M157.3 239.7h0M154.3 240.9h0M162.8 233.3h0M163.8 237.5h0M141.0 240.1h0M168.7 222.6h0M129.6 221.6h0M140.0 227.1h0M152.5 241.1h0M157.2 238.4h0M138.6 236.0h0M135.9 224.7h0M133.3 224.2h0M143.4 223.7h0M129.4 222.3h0M149.3 240.5h0M162.2 233.1h0M140.9 229.0h0M153.8 243.8h0M150.2 244.7h0M151.6 255.4h0M151.4 245.0h0M155.9 225.9h0M165.7 224.8h0M149.3 217.7h0M150.2 242.3h0M165.2 229.3h0M139.4 233.5h0M141.6 239.4h0M148.4 217.6h0M141.5 229.3h0M164.6 236.0h0M155.7 228.2h0M154.9 243.1h0M127.0 221.7h0M162.4 242.3h0M147.6 239.5h0M166.1 240.3h0M143.7 230.2h0M159.7 227.2h0M151.5 253.2h0M128.7 224.3h0M141.5 240.8h0M153.7 226.5h0M142.7 230.2h0M143.7 240.2h0M165.7 231.0h0M146.5 242.4h0M149.9 240.8h0M151.0 244.4h0M141.7 229.9h0M152.4 239.7h0M139.7 224.3h0M143.0 226.3h0M151.5 242.0h0M158.8 253.1h0M159.5 253.6h0M157.2 223.0h0M129.6 220.6h0M160.3 224.4h0M159.7 254.3h0M137.5 226.4h0M161.9 237.3h0M150.1 238.2h0M127.2 220.6h0M164.3 229.4h0M127.4 223.3h0M167.6 221.7h0M162.8 236.3h0M157.7 236.2h0M127.9 222.6h0M158.2 237.9h0M148.4 242.6h0M148.0 218.1h0M134.4 225.1h0M154.0 225.6h0M144.3 227.4h0M139.2 224.3h0M164.0 240.7h0M142.2 229.6h0M164.0 237.2h0M130.4 222.2h0M157.2 222.6h0M165.0 243.8h0M152.2 243.5h0M154.3 240.5h0M167.0 233.2h0M151.0 239.6h0M151.0 253.7h0M150.8 240.5h0M160.9 243.5h0M163.7 233.0h0M140.5 229.6h0M151.7 250.1h0M130.0 220.4h0M130.1 223.8h0M150.3 242.8h0M143.1 224.6h0M138.5 226.1h0M135.5 224.1h0M149.8 240.5h0M149.4 237.0h0" stroke="#ffffff" stroke-width="0.50" stroke-linecap="round" opacity="1.0" fill="none"/>
<path d="M149.4 245.7h0M162.0 233.5h0M140.4 230.1h0M156.2 228.2h0M168.8 239.3h0M150.8 249.3h0M158.6 228.6h0M155.5 240.2h0M153.8 237.7h0M161.5 238.6h0M143.8 225.3h0M160.8 233.0h0M166.5 221.9h0M165.6 232.4h0M164.7 241.2h0M133.6 223.9h0M144.4 230.6h0M152.7 243.6h0M153.0 236.9h0M145.6 225.6h0M150.5 218.5h0M169.7 225.1h0M173.6 231.7h0M148.2 243.5h0M166.2 241.6h0M144.0 225.5h0M161.7 233.7h0M151.5 247.1h0M150.9 250.7h0M148.8 244.9h0M163.3 238.5h0M144.1 230.0h0M140.6 240.6h0M154.0 224.8h0M152.2 237.8h0M151.1 245.1h0M133.4 225.8h0M165.9 231.9h0M151.4 248.2h0M164.0 229.5h0" stroke="#d0583c" stroke-width="1.00" stroke-linecap="round" opacity="0.85" fill="none"/>
<path d="M208.0 242.3h0M206.8 251.2h0M186.2 222.3h0M215.3 252.4h0M209.4 242.3h0M203.1 242.2h0M199.4 229.9h0M219.9 238.4h0M209.3 239.1h0M209.5 241.3h0M208.2 242.4h0M215.4 228.2h0M211.9 224.5h0M194.1 238.2h0M182.9 222.4h0M207.6 240.7h0M220.9 232.6h0M200.6 225.6h0M184.9 224.3h0M222.2 231.3h0M204.5 219.3h0M206.9 248.8h0M215.2 226.0h0M183.9 224.7h0M219.7 238.0h0M209.5 243.5h0M196.7 240.9h0M206.3 244.9h0M225.3 225.4h0M218.7 231.0h0M197.5 228.3h0M205.0 220.3h0M211.4 226.4h0M225.8 224.2h0M203.4 242.8h0M186.8 224.3h0M205.1 240.4h0M204.5 220.9h0M197.8 241.3h0M195.3 226.3h0M220.4 243.4h0M218.2 244.4h0M210.4 239.4h0M209.7 245.5h0M213.0 225.7h0M229.1 230.4h0M183.8 224.6h0M195.0 236.7h0M195.2 229.2h0M194.4 225.2h0M210.9 225.8h0M194.1 229.2h0M206.0 245.2h0M206.8 251.9h0M225.4 223.8h0M219.6 236.2h0M207.1 248.5h0M210.4 225.4h0M209.9 242.5h0M223.2 233.2h0M215.0 255.5h0M193.7 228.3h0M210.8 242.7h0M220.5 243.3h0M215.5 255.8h0M224.3 235.1h0M221.0 241.3h0M198.5 240.2h0M207.9 251.8h0M221.9 235.1h0M183.7 223.6h0M205.1 242.8h0M188.8 225.4h0M220.9 241.8h0M224.1 231.7h0M197.5 228.4h0M207.1 240.7h0M199.6 240.3h0M196.4 226.3h0M198.3 231.3h0M211.0 243.4h0M204.8 242.2h0M213.7 238.0h0M206.9 250.6h0M216.8 245.7h0M204.4 238.8h0M221.6 222.9h0M210.2 237.9h0M208.6 241.3h0M216.6 234.3h0M214.8 227.5h0M184.4 222.4h0M218.4 231.0h0M207.4 243.4h0M182.7 223.1h0M197.1 232.1h0M208.4 240.0h0M207.0 255.4h0M207.4 245.9h0M221.9 225.8h0M208.2 245.9h0M215.6 224.1h0M216.0 253.7h0M225.0 226.1h0M219.5 234.2h0M199.6 225.8h0M217.5 234.4h0M218.3 244.8h0M222.0 236.4h0M217.9 237.9h0M184.1 223.7h0M207.2 246.7h0M198.9 239.6h0M201.5 226.0h0M212.1 224.5h0M229.0 232.2h0M197.2 224.2h0M185.5 223.5h0M195.1 230.4h0M184.5 222.3h0M215.1 228.3h0M206.5 253.5h0M200.0 229.2h0M220.5 234.5h0M202.6 241.4h0M202.3 241.1h0M194.8 230.9h0M206.6 245.3h0M211.2 228.4h0M210.6 243.9h0M207.5 251.4h0M209.5 237.3h0M206.1 218.9h0M206.4 244.9h0M217.0 239.5h0M190.4 225.5h0M213.5 239.4h0M194.1 227.7h0M209.2 245.1h0M207.7 249.4h0M208.0 252.5h0M207.6 248.1h0M194.1 230.2h0M189.5 225.8h0M223.9 224.3h0M197.3 232.1h0M203.5 242.8h0M220.2 246.0h0M222.4 241.0h0M210.4 245.0h0M209.5 241.3h0M219.0 235.5h0M215.4 255.5h0M229.2 232.5h0M202.8 240.6h0M213.6 240.5h0M212.5 227.4h0M200.2 241.0h0M224.2 237.0h0M221.5 234.4h0M207.1 239.0h0M204.2 240.8h0M200.1 227.1h0M196.5 224.6h0M195.6 229.5h0M204.0 241.2h0M185.6 224.7h0M194.7 224.5h0M186.4 222.3h0M207.7 245.5h0M223.9 231.6h0M204.7 238.7h0M223.8 235.6h0M216.2 239.3h0M185.9 221.4h0M206.1 219.5h0M209.1 243.4h0M210.9 225.1h0M217.5 246.4h0M207.7 239.4h0M185.2 223.0h0M214.5 255.0h0M203.4 242.3h0M203.5 242.4h0M193.8 230.1h0M197.2 229.9h0M213.7 238.7h0M210.4 243.1h0M210.5 241.7h0M217.6 235.3h0M186.7 220.7h0M194.6 234.5h0M213.7 225.5h0M210.9 240.4h0M211.1 241.3h0M186.8 221.6h0M207.4 244.5h0M216.6 238.9h0M194.5 240.2h0M219.5 240.7h0M205.8 238.5h0M218.5 239.5h0M224.8 236.6h0M200.6 227.4h0M205.5 244.2h0M183.2 221.8h0M212.8 226.8h0M197.1 230.1h0M208.4 241.9h0M197.1 227.9h0M201.3 229.3h0M204.9 239.9h0M219.9 233.6h0M215.0 250.5h0M213.5 236.3h0M210.8 223.4h0M209.9 243.1h0M214.2 227.0h0M218.4 234.3h0M220.8 230.7h0M194.5 226.2h0M182.6 222.5h0M184.5 224.1h0M216.9 233.7h0M203.4 238.7h0M198.1 239.6h0M204.8 245.7h0M223.0 241.5h0M221.0 240.2h0M207.3 249.7h0M184.9 220.5h0M207.7 256.1h0M222.9 237.7h0M221.8 231.7h0M207.1 251.1h0M205.4 244.2h0M185.3 223.2h0M198.5 230.0h0M194.8 224.5h0M203.7 242.8h0M223.1 241.3h0M217.4 234.3h0M183.8 222.9h0M215.1 251.1h0M203.8 244.2h0M220.0 238.4h0M185.4 222.5h0M223.5 239.8h0M206.0 245.0h0M206.9 219.2h0M215.3 238.6h0M204.5 240.5h0M215.2 223.4h0M207.2 238.5h0M207.4 241.7h0M229.2 230.9h0M206.3 238.0h0M218.8 240.0h0M213.9 240.4h0M195.6 223.8h0" stroke="#c6c6c6" stroke-width="0.90" stroke-linecap="round" opacity="0.9" fill="none"/>
<path d="M194.4 238.5h0M206.9 254.6h0M202.6 243.3h0M210.1 241.2h0M197.8 225.4h0M200.7 226.7h0M203.9 244.9h0M208.6 245.1h0M209.7 239.6h0M186.3 224.2h0M197.7 228.3h0M208.4 242.1h0M190.9 225.1h0M218.1 234.1h0M182.4 222.1h0M214.7 223.1h0M206.3 236.8h0M207.3 256.4h0M224.8 238.2h0M202.7 240.7h0M208.0 240.3h0M221.7 232.7h0M216.3 244.6h0M204.5 243.7h0M215.8 237.1h0M203.2 219.0h0M184.6 223.8h0M217.0 237.2h0M206.1 246.0h0M214.1 236.7h0M216.0 237.0h0M204.0 239.1h0M185.2 222.7h0M222.6 240.8h0M217.9 237.9h0M187.3 223.1h0M184.8 220.8h0M186.8 223.6h0M210.6 240.8h0M206.9 244.0h0M215.6 226.5h0M183.2 221.1h0M208.9 237.1h0M209.2 242.8h0M184.7 223.2h0M222.3 223.1h0M197.0 232.1h0M207.1 219.2h0M220.8 244.8h0M205.5 245.5h0M210.1 243.9h0M213.4 240.0h0M186.2 223.8h0M217.8 238.3h0M200.7 226.2h0M214.3 238.4h0M211.5 241.8h0M199.4 227.5h0M219.5 230.7h0M207.6 243.6h0M200.5 230.4h0M191.5 225.9h0M204.5 240.3h0M219.2 234.5h0M203.9 240.0h0M184.2 222.6h0M196.4 240.5h0M208.5 241.1h0M215.6 227.6h0M225.2 234.7h0M185.7 222.9h0M207.2 241.1h0M211.1 242.4h0M196.0 240.6h0M186.7 221.4h0M216.3 225.5h0M198.4 230.8h0M215.6 223.8h0M196.8 231.3h0M205.8 239.3h0M185.0 222.5h0M228.4 230.0h0M182.6 221.8h0M205.3 242.7h0M218.7 246.3h0M210.4 238.2h0M210.7 240.4h0M195.5 237.0h0M205.2 245.7h0M204.1 237.6h0M208.4 238.0h0M207.9 242.1h0M212.3 225.0h0M222.4 231.1h0M208.0 240.4h0M213.9 223.7h0M223.2 232.1h0M196.0 227.1h0M200.4 227.5h0M221.5 233.7h0M211.4 241.6h0M206.2 242.2h0M222.7 240.6h0M206.5 236.9h0M203.9 219.5h0M207.1 246.4h0M185.6 220.2h0M220.2 240.0h0M215.1 253.3h0M206.0 243.9h0M210.2 240.7h0M196.8 240.7h0M204.9 237.0h0M194.7 239.6h0M194.4 238.2h0M210.4 242.2h0M193.6 226.4h0M218.8 245.6h0M210.6 244.4h0M195.7 231.7h0" stroke="#ffffff" stroke-width="0.50" stroke-linecap="round" opacity="1.0" fill="none"/>
<path d="M215.8 224.1h0M207.4 239.8h0M208.6 243.5h0M228.1 232.7h0M207.4 219.6h0M214.4 228.5h0M195.6 238.5h0M197.5 228.9h0M215.4 224.3h0M216.4 244.2h0M223.3 225.3h0M199.7 223.9h0M208.6 245.0h0M190.7 224.6h0M218.2 237.7h0M222.7 241.1h0M222.7 241.4h0M186.0 221.9h0M210.1 238.6h0M214.9 227.6h0M223.6 226.3h0M203.4 238.4h0M223.8 235.6h0M210.8 227.8h0M207.9 242.7h0M199.8 229.1h0M199.5 240.3h0M184.3 221.7h0M185.8 222.5h0M210.1 238.3h0M204.1 242.2h0M212.1 228.5h0M222.8 235.7h0M200.3 227.7h0M211.5 228.7h0M224.3 235.1h0M219.7 234.9h0M220.7 232.1h0M209.0 241.2h0M216.9 235.9h0M223.8 236.8h0M197.4 241.4h0M220.3 232.0h0M182.9 224.0h0M205.2 241.2h0M203.9 239.3h0M194.8 236.8h0M184.5 220.5h0M195.4 234.3h0M222.8 233.5h0M194.7 238.9h0M209.9 239.8h0M211.4 242.6h0M195.2 224.9h0M206.2 242.7h0M209.6 238.5h0M201.5 226.4h0M209.0 240.0h0M195.3 235.1h0M200.1 227.0h0M183.8 223.6h0M219.7 241.0h0M206.2 243.6h0M220.4 239.6h0M203.1 241.6h0M199.1 227.0h0M206.2 240.4h0M213.2 240.3h0M206.2 239.1h0M183.0 223.7h0M197.9 241.2h0M210.6 228.0h0M208.6 243.9h0M190.8 224.3h0M185.3 220.3h0M210.0 245.0h0M214.8 238.6h0M212.9 239.7h0M210.3 240.5h0M193.6 225.9h0M222.9 223.8h0M196.8 227.8h0M184.6 222.4h0M229.2 231.6h0M195.8 224.3h0M207.1 256.4h0M207.2 239.2h0M226.4 224.0h0M215.7 239.4h0M196.5 229.6h0M186.0 221.9h0M212.4 223.5h0M210.6 243.5h0M205.6 242.5h0M204.3 241.1h0M212.8 225.3h0M207.2 243.6h0M204.3 238.3h0M204.2 218.9h0M221.4 230.2h0M210.6 241.0h0M211.3 228.3h0M227.8 231.9h0M207.3 249.5h0M205.9 219.5h0M213.8 227.5h0M207.3 249.1h0M212.0 223.3h0M224.2 232.4h0M199.1 228.0h0M210.9 228.5h0M207.9 254.4h0M203.8 241.7h0M218.4 234.2h0M196.4 223.5h0M205.5 245.2h0M215.9 252.2h0M224.3 239.4h0M197.8 225.2h0M189.5 225.0h0M204.0 245.3h0M215.0 255.7h0M209.8 241.7h0M218.7 241.2h0M188.5 226.0h0M214.2 229.3h0M205.9 245.4h0M221.7 231.7h0M229.3 231.0h0M201.2 229.8h0M194.7 228.8h0M221.4 223.7h0M220.7 245.7h0M213.8 224.1h0M195.5 233.7h0M183.1 223.3h0M220.6 231.1h0M211.4 243.0h0M210.7 239.4h0M204.1 219.5h0M227.8 232.1h0M206.2 220.0h0M220.5 237.8h0M209.6 225.5h0M205.1 245.9h0M205.6 246.2h0M228.3 231.3h0M206.0 244.0h0M184.0 221.0h0M217.1 239.2h0M205.2 237.0h0M208.7 242.1h0M207.8 246.1h0M217.8 232.0h0M186.4 221.9h0M215.5 251.1h0M224.3 236.0h0M224.4 224.7h0M203.3 244.6h0M202.8 240.0h0M185.1 220.7h0M206.4 219.4h0M190.1 224.8h0M218.4 240.6h0M207.3 243.9h0M224.2 231.4h0M205.6 244.8h0M187.0 223.4h0M206.5 241.9h0M206.9 244.2h0M195.1 228.6h0M184.0 221.7h0M228.6 233.0h0M216.1 240.4h0M206.3 244.2h0M193.1 227.6h0M220.1 234.0h0M199.3 240.2h0M210.3 243.9h0M223.9 223.1h0M227.4 231.6h0M221.8 224.2h0M210.0 227.2h0M183.4 220.9h0M208.3 245.6h0M211.9 226.2h0M226.3 222.7h0M220.0 246.0h0M200.3 229.8h0M197.7 228.1h0M225.5 223.2h0M201.8 228.7h0M210.4 242.4h0M217.3 243.5h0M209.9 225.0h0M204.1 242.4h0M217.7 244.6h0M200.1 240.0h0M197.8 228.7h0M225.0 237.8h0M224.0 223.5h0M194.7 229.9h0M205.5 237.6h0M183.2 221.2h0M184.8 221.1h0M195.9 226.4h0M203.2 239.5h0M204.3 244.3h0M213.5 238.7h0M186.5 220.6h0" stroke="#cf6446" stroke-width="1.00" stroke-linecap="round" opacity="0.75" fill="none"/>
<text x="304.30" y="9.74" font-size="7.6" fill="#ee5a36" text-anchor="middle" textLength="34.20" lengthAdjust="spacingAndGlyphs">Epidermal</text>
<text x="303.85" y="18.44" font-size="7.6" fill="#1fa060" text-anchor="middle" textLength="34.30" lengthAdjust="spacingAndGlyphs">Mesophyll</text>
<text x="304.00" y="27.34" font-size="7.6" fill="#5e3a92" text-anchor="middle" textLength="39.60" lengthAdjust="spacingAndGlyphs">Vasculature</text>
<path d="M267.90 62.80 L267.90 42.70 A20.1 20.1 0 1 1 250.73 73.24 Z" fill="#3aaa6c"/>
<path d="M267.90 62.80 L250.73 73.24 A20.1 20.1 0 0 1 267.90 42.70 Z" fill="#cb8431"/>
<text x="266.90" y="40.60" font-size="7.2" fill="#333" text-anchor="middle">GA</text>
<path d="M343.30 62.80 L343.30 42.70 A20.1 20.1 0 0 1 346.10 42.90 Z" fill="#7a5094"/>
<path d="M343.30 62.80 L346.10 42.90 A20.1 20.1 0 1 1 327.90 49.88 Z" fill="#3aaa6c"/>
<path d="M343.30 62.80 L327.90 49.88 A20.1 20.1 0 0 1 343.30 42.70 Z" fill="#cb8431"/>
<text x="342.30" y="40.60" font-size="7.2" fill="#333" text-anchor="middle">CK</text>
<path d="M267.90 123.70 L267.90 103.60 A20.1 20.1 0 0 1 283.95 111.60 Z" fill="#7a5094"/>
<path d="M267.90 123.70 L283.95 111.60 A20.1 20.1 0 1 1 247.80 123.70 Z" fill="#3aaa6c"/>
<path d="M267.90 123.70 L247.80 123.70 A20.1 20.1 0 0 1 267.90 103.60 Z" fill="#cb8431"/>
<text x="266.90" y="101.50" font-size="7.2" fill="#333" text-anchor="middle">SA</text>
<path d="M343.30 123.70 L343.30 103.60 A20.1 20.1 0 0 1 363.32 125.45 Z" fill="#7a5094"/>
<path d="M343.30 123.70 L363.32 125.45 A20.1 20.1 0 0 1 324.47 130.74 Z" fill="#3aaa6c"/>
<path d="M343.30 123.70 L324.47 130.74 A20.1 20.1 0 0 1 343.30 103.60 Z" fill="#cb8431"/>
<text x="342.30" y="101.50" font-size="7.2" fill="#333" text-anchor="middle">2,4-D</text>
<path d="M267.90 183.00 L267.90 162.90 A20.1 20.1 0 0 1 284.66 171.91 Z" fill="#7a5094"/>
<path d="M267.90 183.00 L284.66 171.91 A20.1 20.1 0 1 1 267.90 162.90 Z" fill="#3aaa6c"/>
<text x="266.90" y="160.80" font-size="7.2" fill="#333" text-anchor="middle">BR</text>
<path d="M343.30 183.00 L343.30 162.90 A20.1 20.1 0 1 1 331.09 167.03 Z" fill="#3aaa6c"/>
<path d="M343.30 183.00 L331.09 167.03 A20.1 20.1 0 0 1 343.30 162.90 Z" fill="#cb8431"/>
<text x="342.30" y="160.80" font-size="7.2" fill="#333" text-anchor="middle">ACC</text>
<path d="M267.90 242.00 L267.90 221.90 A20.1 20.1 0 0 1 274.84 260.86 Z" fill="#7a5094"/>
<path d="M267.90 242.00 L274.84 260.86 A20.1 20.1 0 1 1 267.90 221.90 Z" fill="#cb8431"/>
<text x="266.90" y="219.80" font-size="7.2" fill="#333" text-anchor="middle">MJ</text>
<path d="M343.30 242.00 L343.30 221.90 A20.1 20.1 0 0 1 355.00 225.66 Z" fill="#7a5094"/>
<path d="M343.30 242.00 L355.00 225.66 A20.1 20.1 0 1 1 323.23 240.88 Z" fill="#3aaa6c"/>
<path d="M343.30 242.00 L323.23 240.88 A20.1 20.1 0 0 1 343.30 221.90 Z" fill="#cb8431"/>
<text x="342.30" y="219.80" font-size="7.2" fill="#333" text-anchor="middle">ABA</text>
<text x="428.30" y="21.24" font-size="7.6" fill="#ee5a36" text-anchor="middle" textLength="33.60" lengthAdjust="spacingAndGlyphs">Epidermal</text>
<text x="490.10" y="14.34" font-size="7.6" fill="#1fa060" text-anchor="middle" textLength="34.80" lengthAdjust="spacingAndGlyphs">Mesophyll</text>
<text x="501.95" y="24.14" font-size="7.6" fill="#5e3a92" text-anchor="middle" textLength="39.90" lengthAdjust="spacingAndGlyphs">Vasculature</text>
<line x1="465.00" y1="35.70" x2="465.00" y2="112.20" stroke="#9a9a9a" stroke-width="1.8"/>
<line x1="416.00" y1="75.10" x2="504.60" y2="75.10" stroke="#7c7c7c" stroke-width="1.4"/>
<path d="M463.0 83.8h0M450.1 89.7h0M456.1 88.9h0M472.5 74.2h0M476.6 67.5h0M439.1 88.0h0M433.2 94.6h0M426.1 95.5h0M443.9 86.8h0M464.4 91.9h0M450.2 86.9h0M452.3 88.9h0M462.1 79.6h0M442.5 91.5h0M448.1 98.4h0M429.0 94.2h0M459.6 77.8h0M485.8 73.1h0M464.3 73.8h0M453.7 87.1h0M444.8 90.4h0M446.3 101.6h0M465.0 77.8h0M462.1 79.7h0M434.6 105.4h0M457.4 91.1h0M453.2 78.7h0M455.7 94.1h0M431.4 102.8h0M456.4 78.3h0M469.0 80.2h0M445.3 86.4h0M455.3 94.9h0M462.8 77.0h0M434.1 93.6h0M465.3 82.1h0M451.4 90.1h0M441.5 88.3h0M454.7 90.8h0M474.8 75.0h0M438.1 91.1h0M466.2 76.3h0M462.6 76.9h0M467.1 77.9h0M435.5 95.4h0M444.9 84.7h0M455.5 79.5h0M467.4 76.9h0M453.7 93.6h0M466.0 81.5h0M465.1 73.8h0M464.6 85.6h0M424.0 102.4h0M459.7 76.3h0M457.8 85.8h0M466.1 73.1h0M447.6 82.2h0M460.6 85.9h0M461.0 78.3h0M454.4 93.0h0M442.9 85.9h0M457.3 71.3h0M459.8 79.6h0M456.5 79.6h0M446.0 88.5h0M447.1 109.4h0M468.2 80.6h0M461.1 82.9h0M456.6 82.3h0M452.6 79.1h0M470.9 72.1h0M443.8 84.3h0M474.7 73.6h0M448.5 89.1h0M458.2 72.0h0M453.7 87.0h0M455.9 81.8h0M454.5 81.5h0M458.4 88.0h0M456.0 70.9h0M445.9 79.6h0M471.1 87.1h0M457.2 87.5h0M473.3 65.8h0M464.9 75.4h0M438.0 94.1h0M452.6 85.1h0M457.7 85.7h0M466.0 76.2h0M458.5 86.0h0M456.3 82.4h0M455.1 76.1h0M441.8 95.1h0M476.4 77.1h0M468.2 62.7h0M456.8 86.3h0M468.8 71.8h0M444.1 92.0h0M442.3 74.4h0M458.8 89.2h0M448.2 87.4h0M445.4 90.4h0M462.5 73.8h0M460.4 77.5h0M449.9 83.8h0M454.4 86.5h0M433.2 107.0h0M453.9 81.3h0M442.7 88.3h0M470.6 72.6h0M442.3 93.8h0M461.5 87.6h0M472.4 72.7h0M446.6 86.1h0M459.6 92.8h0M454.2 83.9h0M460.6 81.1h0M466.1 75.6h0M465.9 64.0h0M442.1 85.5h0M473.7 78.1h0M453.9 100.3h0M459.7 73.7h0M446.8 96.6h0M458.0 82.7h0M455.9 89.2h0M442.7 89.2h0M454.4 83.6h0M431.7 103.8h0M450.0 80.6h0M448.3 95.0h0M452.2 75.8h0M433.9 94.4h0M447.4 99.0h0M460.8 70.6h0M444.2 92.6h0M452.5 91.2h0M463.1 76.3h0M445.5 88.1h0M450.3 83.6h0M439.6 94.7h0M445.9 80.1h0M462.2 75.0h0M419.9 99.8h0M442.5 98.4h0M472.0 70.3h0M452.9 84.4h0M465.6 76.7h0M450.8 86.8h0M437.9 95.5h0M451.6 90.2h0M465.8 86.4h0M467.6 82.2h0M447.9 86.1h0M441.4 85.5h0M459.5 79.5h0M460.0 80.6h0M451.2 96.5h0M429.3 98.2h0M450.3 90.1h0M453.6 87.2h0M448.1 97.7h0M461.1 77.0h0M464.3 63.8h0M450.5 82.1h0M463.6 87.2h0M449.6 85.3h0M470.2 75.6h0M456.6 76.1h0M470.1 75.0h0M452.9 84.3h0M447.4 79.5h0M448.0 98.8h0M434.4 99.7h0M441.9 90.2h0M473.8 74.0h0M454.0 89.2h0M432.4 108.1h0M451.7 93.2h0M421.5 102.2h0M463.5 72.5h0M441.5 85.2h0M476.1 65.2h0M448.2 92.4h0M469.6 79.9h0M452.5 87.6h0M466.0 72.2h0M458.7 78.3h0M440.5 90.0h0M458.3 87.7h0M458.8 82.7h0M450.4 93.1h0M441.4 97.1h0M451.7 90.1h0M447.8 94.9h0M437.0 98.0h0M443.3 90.8h0M451.3 77.2h0M466.8 71.6h0M440.1 90.7h0M463.1 79.4h0M463.3 82.9h0M462.7 82.7h0M451.6 88.4h0M466.7 77.8h0M459.0 85.8h0M474.2 73.1h0M465.1 86.8h0M448.1 84.7h0M462.2 79.1h0M474.5 72.1h0M457.5 79.2h0M466.1 81.3h0M468.1 80.0h0M444.4 98.7h0M452.8 97.4h0M453.2 75.5h0M442.2 81.1h0M437.9 90.5h0M466.6 71.3h0M446.3 80.8h0M458.2 80.6h0M473.1 78.1h0M452.1 89.3h0M458.8 87.3h0M461.6 83.8h0M458.6 79.5h0M456.2 79.2h0M468.3 74.4h0M449.2 95.0h0M462.2 68.5h0M463.9 83.0h0M461.7 73.9h0M477.4 74.8h0M448.7 88.8h0M454.3 88.9h0M459.0 87.3h0M457.5 80.6h0M445.5 85.5h0M454.4 91.0h0M454.2 79.4h0M439.2 95.1h0M455.0 81.5h0M433.5 94.2h0M464.4 80.8h0M456.5 85.8h0M458.9 85.5h0M446.4 87.7h0M431.4 96.9h0M456.9 87.4h0M449.9 92.5h0M467.1 73.5h0M451.8 73.3h0M435.1 93.2h0M458.7 81.0h0M455.5 86.2h0M451.3 84.4h0M460.9 78.5h0M442.5 94.7h0M475.8 70.2h0M463.4 78.8h0M458.8 86.3h0M442.4 97.3h0M456.0 88.8h0M468.6 67.3h0M440.5 90.7h0M453.7 83.6h0M472.1 78.2h0M449.9 84.9h0M444.1 88.1h0M440.1 92.3h0M445.6 90.8h0M472.3 80.7h0M442.4 85.9h0M435.9 88.0h0M460.6 91.5h0M449.0 94.7h0M454.8 85.3h0M440.1 85.1h0M449.8 96.6h0M451.5 90.2h0M428.2 96.4h0M445.8 83.3h0M434.1 95.8h0M439.2 96.8h0M444.7 90.8h0M446.7 88.6h0M466.7 70.7h0M447.7 97.0h0M473.2 84.4h0M445.8 89.8h0M431.9 93.4h0M462.0 80.0h0M449.0 91.1h0M456.5 92.2h0M460.6 84.3h0M463.4 73.3h0M465.1 76.9h0M476.1 82.4h0M444.7 90.7h0M452.5 80.0h0M474.1 63.3h0M451.5 98.5h0M465.4 66.3h0M462.5 84.0h0M470.5 72.1h0M463.1 88.0h0M449.9 85.7h0M463.0 65.1h0M456.4 94.9h0M464.6 96.8h0M472.7 82.1h0M440.3 82.2h0M459.0 66.5h0M480.7 71.1h0M432.5 107.0h0M476.2 86.1h0M459.2 60.2h0M466.8 74.0h0M461.5 99.8h0M455.4 58.2h0M450.7 73.5h0M482.5 68.6h0M448.8 88.3h0" stroke="#3b85c6" stroke-width="1.60" stroke-linecap="round" opacity="0.95" fill="none"/>
<path d="M462.7 67.1h0M481.5 58.8h0M476.9 64.4h0M486.3 52.0h0M481.4 58.2h0M478.5 67.9h0M469.4 72.6h0M465.3 64.9h0M484.2 63.3h0M468.4 64.4h0M480.1 63.1h0M476.3 61.2h0M474.5 71.2h0M484.3 59.6h0M483.7 53.3h0M463.5 72.4h0M474.3 69.3h0M480.5 67.5h0M478.4 61.0h0M479.7 57.8h0M484.9 71.5h0M488.0 53.6h0M463.8 66.8h0M465.9 71.6h0M483.1 57.1h0M491.3 53.7h0M479.1 59.3h0M473.0 64.6h0M475.2 69.7h0M474.5 60.4h0M475.9 67.5h0M479.9 54.4h0M473.7 60.6h0M473.4 63.9h0M471.8 64.1h0M483.8 60.2h0M480.6 68.5h0M472.7 64.9h0M456.8 75.5h0M472.0 57.8h0M478.3 57.5h0M483.6 61.1h0M458.1 62.5h0M476.1 73.3h0M480.9 50.1h0M466.4 66.6h0M467.7 58.8h0M473.0 70.2h0M474.7 61.8h0M472.1 55.7h0M470.2 69.7h0M474.2 62.0h0M478.2 50.1h0M474.4 58.4h0M474.3 60.4h0M483.3 65.1h0M484.0 64.7h0M471.2 67.0h0M465.7 55.3h0M471.1 72.8h0M480.2 59.6h0M467.1 64.3h0M480.5 57.3h0M473.0 69.5h0M481.6 51.2h0M470.1 69.8h0M476.6 64.8h0M473.3 56.7h0M479.4 66.7h0M485.2 58.0h0M466.4 71.5h0M473.5 56.0h0M476.4 60.4h0M481.6 67.3h0M473.0 62.5h0M476.6 63.5h0M466.5 72.3h0M460.6 70.2h0M486.3 56.5h0M469.6 54.8h0M480.6 60.0h0M478.5 66.2h0M466.7 69.3h0M469.4 67.6h0M478.1 68.9h0M470.1 69.1h0M485.8 66.7h0M475.7 68.2h0M474.5 50.9h0M471.6 67.6h0M478.6 70.9h0M480.1 65.6h0M477.4 59.1h0M476.9 56.4h0M471.7 55.7h0M480.1 67.3h0M472.3 75.6h0M471.7 64.9h0M480.7 67.0h0M475.9 72.0h0M474.8 59.4h0M479.3 63.1h0M466.0 65.9h0M472.1 60.6h0M474.9 65.0h0M487.6 58.1h0M477.4 60.3h0M479.6 57.4h0M467.8 72.8h0M476.0 70.2h0M481.3 54.6h0M477.1 68.9h0M474.4 68.4h0M465.0 69.7h0M471.9 71.1h0M476.2 66.6h0M474.7 70.5h0M480.7 66.4h0M477.5 56.1h0M477.4 61.8h0M475.6 59.5h0M476.2 55.6h0M471.7 74.4h0M479.9 63.2h0M478.2 58.8h0M476.8 61.8h0M467.4 66.4h0M473.0 67.5h0M467.1 76.4h0M472.5 68.5h0M473.8 67.5h0M482.1 64.0h0M473.5 64.5h0M466.1 62.1h0M480.4 69.2h0M477.7 59.3h0M477.9 55.7h0M473.5 63.9h0M475.8 73.5h0M474.7 63.6h0M471.4 64.4h0M470.2 76.4h0M487.2 49.1h0M470.0 64.1h0M477.8 62.3h0M479.9 63.3h0M478.8 68.5h0M473.3 61.4h0M476.8 64.2h0M478.3 57.7h0M490.3 59.1h0M460.4 72.3h0M470.9 61.8h0M467.5 61.5h0M483.2 61.8h0M473.1 55.5h0M479.6 64.5h0M475.8 51.0h0M479.3 67.9h0M469.3 64.5h0M469.8 55.7h0M479.0 66.8h0M478.1 66.4h0M476.5 70.1h0M485.8 59.7h0M473.2 63.9h0M481.1 63.2h0M472.9 67.0h0M485.5 50.5h0M475.0 57.9h0M472.0 57.0h0M466.5 71.5h0M480.7 53.7h0M471.2 68.2h0M483.4 59.8h0M478.3 72.7h0M474.7 56.6h0M477.3 65.0h0M475.7 64.2h0M463.1 68.8h0M483.6 47.5h0M479.1 61.1h0M484.5 54.3h0M472.3 68.8h0M480.0 62.1h0M476.1 66.2h0M483.8 61.2h0M468.8 78.6h0M480.3 60.4h0M471.3 62.4h0M479.6 58.3h0M466.1 67.5h0M472.7 58.9h0M485.7 58.6h0M477.6 61.2h0M483.5 61.8h0M480.2 53.8h0M478.1 57.9h0M478.5 65.6h0M471.0 62.9h0M463.4 88.1h0M452.3 84.2h0M466.6 80.0h0M460.3 89.6h0M456.9 75.3h0M457.5 85.6h0M468.8 65.3h0M473.0 71.1h0M456.9 88.6h0M463.7 71.5h0M460.9 69.8h0M454.6 87.7h0M463.1 73.7h0M456.9 71.7h0M469.3 82.2h0M455.5 94.3h0M455.0 83.8h0M452.6 80.0h0M470.2 72.1h0M468.7 70.1h0M463.4 84.4h0M452.2 86.7h0M477.8 64.4h0M474.0 75.4h0M465.6 80.1h0M457.8 83.3h0M472.7 77.7h0M467.0 82.8h0M452.1 77.8h0M451.3 90.6h0M468.8 71.0h0M471.2 66.0h0M470.1 68.7h0M464.1 84.2h0M451.4 82.7h0M457.8 82.9h0M469.4 76.5h0M478.5 74.4h0M454.4 90.9h0M471.1 60.8h0M453.6 86.2h0M456.3 84.3h0M461.1 66.3h0M469.4 82.8h0M466.4 76.1h0M467.6 80.6h0M465.3 84.9h0M462.5 77.1h0M467.1 81.7h0M462.1 75.6h0M457.1 77.0h0M476.8 69.7h0M469.4 70.5h0M456.7 74.3h0M460.3 80.3h0M466.7 78.9h0M457.0 80.7h0M466.0 69.9h0M448.2 81.8h0M456.6 86.9h0M453.2 75.8h0M465.2 78.1h0M461.6 81.3h0M463.9 68.5h0M454.3 89.1h0M459.5 83.8h0M471.4 73.6h0M473.1 76.1h0M470.9 75.8h0M466.2 75.7h0M461.2 81.3h0M459.1 81.7h0M470.6 77.7h0M466.0 79.8h0M456.6 86.1h0M470.2 69.7h0M455.9 90.0h0M454.8 79.4h0M450.4 89.4h0M463.4 85.2h0M469.3 74.3h0M453.6 70.5h0M464.2 79.9h0M456.6 82.3h0M461.1 83.3h0M470.5 78.6h0M465.9 75.5h0M458.1 78.0h0M468.7 77.4h0M458.3 74.7h0M472.0 92.5h0M475.0 67.8h0M476.7 83.1h0M468.8 59.9h0M456.5 61.8h0M433.8 70.9h0M503.1 60.8h0M476.9 61.9h0M463.9 66.8h0M461.2 59.2h0M464.5 62.5h0M483.7 54.6h0M449.0 73.2h0M461.2 72.0h0M476.8 69.3h0M455.3 65.4h0M479.9 62.5h0M466.6 91.2h0M475.7 71.3h0M457.3 85.7h0" stroke="#d6453c" stroke-width="1.60" stroke-linecap="round" opacity="0.95" fill="none"/>
<rect x="416.00" y="35.70" width="88.60" height="76.50" fill="none" stroke="#8a8a8a" stroke-width="0.9"/>
<line x1="412.80" y1="53.90" x2="416.00" y2="53.90" stroke="#555" stroke-width="0.7"/>
<text x="409.40" y="56.10" font-size="6.2" fill="#444" text-anchor="end">0.5</text>
<line x1="412.80" y1="74.60" x2="416.00" y2="74.60" stroke="#555" stroke-width="0.7"/>
<text x="409.40" y="76.80" font-size="6.2" fill="#444" text-anchor="end">0</text>
<line x1="412.80" y1="95.20" x2="416.00" y2="95.20" stroke="#555" stroke-width="0.7"/>
<text x="409.40" y="97.40" font-size="6.2" fill="#444" text-anchor="end">−0.5</text>
<line x1="428.60" y1="112.20" x2="428.60" y2="114.80" stroke="#555" stroke-width="0.7"/>
<text x="427.40" y="124.10" font-size="6.2" fill="#444" text-anchor="middle">−0.2</text>
<line x1="446.40" y1="112.20" x2="446.40" y2="114.80" stroke="#555" stroke-width="0.7"/>
<text x="445.20" y="124.10" font-size="6.2" fill="#444" text-anchor="middle">−0.1</text>
<line x1="464.80" y1="112.20" x2="464.80" y2="114.80" stroke="#555" stroke-width="0.7"/>
<text x="464.80" y="124.10" font-size="6.2" fill="#444" text-anchor="middle">0</text>
<line x1="483.20" y1="112.20" x2="483.20" y2="114.80" stroke="#555" stroke-width="0.7"/>
<text x="483.20" y="124.10" font-size="6.2" fill="#444" text-anchor="middle">0.1</text>
<line x1="501.60" y1="112.20" x2="501.60" y2="114.80" stroke="#555" stroke-width="0.7"/>
<text x="501.60" y="124.10" font-size="6.2" fill="#444" text-anchor="middle">0.2</text>
<text x="421.90" y="136.80" font-size="7.3" fill="#333" text-anchor="middle" textLength="34.20" lengthAdjust="spacingAndGlyphs">Repressed</text>
<path d="M444.60 134.50H449.90" stroke="#333" stroke-width="0.8"/>
<path d="M442.00 134.50L445.30 132.90L445.30 136.10Z" fill="#333"/>
<text x="464.50" y="136.80" font-size="7.3" fill="#333" text-anchor="middle" textLength="28.40" lengthAdjust="spacingAndGlyphs">Leaf age</text>
<path d="M479.50 134.50H485.10" stroke="#333" stroke-width="0.8"/>
<path d="M487.70 134.50L484.40 132.90L484.40 136.10Z" fill="#333"/>
<text x="504.20" y="136.80" font-size="7.3" fill="#333" text-anchor="middle" textLength="27.20" lengthAdjust="spacingAndGlyphs">Induced</text>
<text x="0" y="0" font-size="7.3" fill="#333" text-anchor="middle" textLength="26.50" lengthAdjust="spacingAndGlyphs" transform="translate(394.90 51.15) rotate(-90)">Induced</text>
<path d="M392.20 71.50V78.30" stroke="#333" stroke-width="0.8"/>
<path d="M392.20 68.90L390.60 72.20L393.80 72.20Z" fill="#333"/>
<path d="M392.20 80.90L390.60 77.60L393.80 77.60Z" fill="#333"/>
<text x="0" y="0" font-size="7.3" fill="#333" text-anchor="middle" textLength="34.20" lengthAdjust="spacingAndGlyphs" transform="translate(394.90 100.30) rotate(-90)">Repressed</text>
<text x="0" y="0" font-size="7.3" fill="#333" text-anchor="middle" textLength="60.00" lengthAdjust="spacingAndGlyphs" transform="translate(387.70 73.80) rotate(-90)">Drought response</text>
<text x="424.75" y="45.84" font-size="9.0" fill="#333" text-anchor="middle" textLength="11.50" lengthAdjust="spacingAndGlyphs">SA</text>
<text x="430.45" y="54.78" font-size="6.6" fill="#d6404a" text-anchor="middle" textLength="22.90" lengthAdjust="spacingAndGlyphs">Induced</text>
<text x="433.60" y="61.68" font-size="6.6" fill="#3f6fc0" text-anchor="middle" textLength="29.20" lengthAdjust="spacingAndGlyphs">Repressed</text>
<text x="487.25" y="88.62" font-size="7.0" fill="#d6404a" text-anchor="middle" textLength="19.10" lengthAdjust="spacingAndGlyphs">ACD6</text>
<text x="484.45" y="106.72" font-size="7.0" fill="#3b85c6" text-anchor="middle" textLength="19.50" lengthAdjust="spacingAndGlyphs">BAM2</text>
<line x1="471.10" y1="61.00" x2="486.20" y2="82.10" stroke="#444" stroke-width="0.6"/>
<line x1="457.00" y1="91.10" x2="471.10" y2="103.20" stroke="#444" stroke-width="0.6"/>
<line x1="630.00" y1="35.60" x2="630.00" y2="112.00" stroke="#9a9a9a" stroke-width="1.8"/>
<path d="M611.0 47.3h0M615.3 44.6h0M633.0 50.0h0M634.5 52.0h0M637.0 55.6h0M631.7 62.5h0M635.9 63.5h0M633.5 65.2h0M648.0 39.0h0M647.6 61.0h0M655.0 72.0h0M623.5 78.8h0M635.9 70.7h0M632.5 57.5h0" stroke="#3b85c6" stroke-width="1.60" stroke-linecap="round" opacity="0.95" fill="none"/>
<path d="M617.4 72.0h0M607.7 85.8h0M616.6 86.4h0M620.3 76.7h0M616.4 74.0h0M610.4 87.0h0M610.9 79.1h0M623.0 78.5h0M612.7 83.3h0M617.5 79.2h0M620.6 76.0h0M615.4 74.0h0M615.9 83.1h0M609.4 82.7h0M615.3 81.0h0M614.7 83.2h0M610.7 73.9h0M608.5 91.6h0M617.7 84.7h0M624.3 67.2h0M612.3 82.5h0M614.7 79.4h0M612.3 85.1h0M607.8 90.3h0M620.5 80.5h0M616.8 80.0h0M611.0 85.2h0M621.8 77.2h0M621.9 80.4h0M615.7 74.6h0M598.9 92.2h0M614.9 80.4h0M610.7 82.0h0M613.5 77.6h0M604.0 90.7h0M613.7 75.8h0M619.1 77.8h0M615.7 80.9h0M610.5 85.1h0M619.3 73.6h0M616.6 86.2h0M616.5 87.4h0M617.2 80.4h0M615.3 79.1h0M617.7 75.6h0M610.9 84.6h0M606.3 88.9h0M607.0 89.1h0M619.8 77.4h0M600.3 80.9h0M618.2 83.2h0M614.1 83.7h0M619.0 84.1h0M603.3 90.5h0M614.9 82.5h0M614.8 80.5h0M614.5 91.8h0M611.6 79.6h0M613.9 73.9h0M620.1 79.2h0M618.1 77.1h0M608.8 80.9h0M609.1 78.8h0M622.3 75.8h0M604.9 80.2h0M619.6 77.7h0M607.9 85.6h0M618.0 80.0h0M608.7 82.2h0M607.4 82.8h0M604.1 90.2h0M626.8 73.5h0M627.6 71.6h0M617.2 78.5h0M621.5 74.2h0M608.3 88.4h0M611.0 89.2h0M614.6 79.0h0M606.7 79.1h0M609.1 83.0h0M613.3 80.2h0M615.7 79.9h0M602.6 87.0h0M614.2 75.2h0M617.1 81.6h0M623.0 82.7h0M607.3 84.9h0M610.0 90.4h0M615.3 82.7h0M627.6 78.7h0M614.0 78.0h0M615.9 83.0h0M604.0 89.6h0M603.2 87.8h0M614.1 74.9h0M616.1 83.0h0M608.4 88.0h0M610.1 86.4h0M616.9 83.0h0M615.8 81.2h0M619.1 73.9h0M622.5 74.5h0M614.0 76.2h0M615.5 79.7h0M622.3 77.4h0M620.9 76.0h0M609.7 83.1h0M610.4 78.1h0M612.2 82.2h0M618.5 78.6h0M612.6 86.2h0M603.5 89.5h0M616.1 76.3h0M627.6 79.1h0M612.2 81.6h0M607.4 90.6h0M620.5 74.0h0M628.5 80.8h0M615.4 79.9h0M609.5 79.9h0M623.1 77.3h0M622.3 75.6h0M608.8 84.0h0M619.0 67.1h0M608.4 87.2h0M602.1 87.5h0M602.5 87.4h0M616.5 81.9h0M618.0 80.2h0M574.3 82.6h0M581.9 88.1h0M618.7 75.7h0M602.5 86.5h0M614.0 88.9h0M615.8 85.6h0M598.2 73.4h0M612.3 82.6h0M615.3 70.8h0M581.6 98.5h0M625.7 72.5h0M603.7 86.9h0M609.2 76.0h0M580.6 95.8h0M615.7 78.3h0M628.4 54.7h0M582.7 100.1h0M618.6 72.3h0M595.9 74.0h0M606.2 83.4h0M619.3 81.2h0M608.1 76.6h0M585.7 82.3h0M627.2 57.7h0M593.5 93.9h0M602.7 86.1h0M625.4 85.6h0M606.6 101.3h0M620.8 80.6h0M593.4 85.0h0M607.6 94.8h0M621.3 77.7h0M620.0 75.1h0M597.2 84.4h0M623.8 61.6h0M602.9 69.9h0M593.4 75.1h0M598.6 67.1h0M626.7 70.8h0M589.9 94.9h0M586.4 96.4h0M575.9 96.7h0M601.4 101.9h0M625.5 76.4h0M623.7 83.5h0M596.7 95.4h0M593.3 81.7h0M585.3 90.2h0M600.9 78.1h0M617.3 73.8h0M598.8 81.3h0M615.9 83.7h0M607.1 76.1h0M628.8 83.2h0M603.3 83.7h0M611.2 69.7h0M587.0 96.8h0M605.5 83.8h0M596.1 81.3h0M619.2 77.8h0M623.7 96.3h0M619.1 93.3h0M606.3 65.0h0M612.1 87.1h0M611.1 90.7h0M585.6 91.9h0M605.6 76.7h0M607.3 73.1h0M601.0 99.3h0M594.1 94.5h0M601.7 85.0h0M621.9 78.2h0M620.5 60.2h0M596.0 85.2h0M617.3 84.9h0M575.6 100.7h0M587.6 107.5h0M613.6 68.1h0M597.5 93.8h0M618.5 78.5h0M598.2 77.7h0M604.3 89.9h0M621.0 64.0h0M619.2 68.6h0M611.2 74.1h0M619.0 72.3h0M621.8 61.8h0M623.7 63.6h0M623.1 60.5h0M613.1 61.7h0M615.0 61.7h0M599.9 64.5h0M626.4 66.7h0M611.1 65.3h0M609.1 60.6h0M619.9 65.6h0M640.5 95.5h0M646.0 78.5h0" stroke="#d6453c" stroke-width="1.60" stroke-linecap="round" opacity="0.95" fill="none"/>
<line x1="570.70" y1="64.50" x2="659.20" y2="64.50" stroke="#444" stroke-width="1.0"/>
<rect x="570.70" y="35.60" width="88.50" height="76.40" fill="none" stroke="#8a8a8a" stroke-width="0.9"/>
<line x1="567.50" y1="40.60" x2="570.70" y2="40.60" stroke="#555" stroke-width="0.7"/>
<text x="564.10" y="42.80" font-size="6.2" fill="#444" text-anchor="end">0.5</text>
<line x1="567.50" y1="64.20" x2="570.70" y2="64.20" stroke="#555" stroke-width="0.7"/>
<text x="564.10" y="66.40" font-size="6.2" fill="#444" text-anchor="end">0</text>
<line x1="567.50" y1="87.90" x2="570.70" y2="87.90" stroke="#555" stroke-width="0.7"/>
<text x="564.10" y="90.10" font-size="6.2" fill="#444" text-anchor="end">−0.5</text>
<line x1="567.50" y1="111.30" x2="570.70" y2="111.30" stroke="#555" stroke-width="0.7"/>
<text x="564.10" y="113.50" font-size="6.2" fill="#444" text-anchor="end">−1.0</text>
<line x1="586.10" y1="112.00" x2="586.10" y2="114.60" stroke="#555" stroke-width="0.7"/>
<text x="584.90" y="122.00" font-size="6.2" fill="#444" text-anchor="middle">−0.2</text>
<line x1="608.20" y1="112.00" x2="608.20" y2="114.60" stroke="#555" stroke-width="0.7"/>
<text x="607.00" y="122.00" font-size="6.2" fill="#444" text-anchor="middle">−0.1</text>
<line x1="630.60" y1="112.00" x2="630.60" y2="114.60" stroke="#555" stroke-width="0.7"/>
<text x="630.60" y="122.00" font-size="6.2" fill="#444" text-anchor="middle">0</text>
<line x1="652.30" y1="112.00" x2="652.30" y2="114.60" stroke="#555" stroke-width="0.7"/>
<text x="652.30" y="122.00" font-size="6.2" fill="#444" text-anchor="middle">0.1</text>
<text x="575.90" y="136.60" font-size="7.3" fill="#333" text-anchor="middle" textLength="34.20" lengthAdjust="spacingAndGlyphs">Repressed</text>
<path d="M598.60 134.30H603.90" stroke="#333" stroke-width="0.8"/>
<path d="M596.00 134.30L599.30 132.70L599.30 135.90Z" fill="#333"/>
<text x="618.50" y="136.60" font-size="7.3" fill="#333" text-anchor="middle" textLength="28.40" lengthAdjust="spacingAndGlyphs">Leaf age</text>
<path d="M633.50 134.30H639.10" stroke="#333" stroke-width="0.8"/>
<path d="M641.70 134.30L638.40 132.70L638.40 135.90Z" fill="#333"/>
<text x="658.20" y="136.60" font-size="7.3" fill="#333" text-anchor="middle" textLength="27.20" lengthAdjust="spacingAndGlyphs">Induced</text>
<text x="0" y="0" font-size="7.3" fill="#333" text-anchor="middle" textLength="26.50" lengthAdjust="spacingAndGlyphs" transform="translate(548.20 50.35) rotate(-90)">Induced</text>
<path d="M545.50 70.70V77.50" stroke="#333" stroke-width="0.8"/>
<path d="M545.50 68.10L543.90 71.40L547.10 71.40Z" fill="#333"/>
<path d="M545.50 80.10L543.90 76.80L547.10 76.80Z" fill="#333"/>
<text x="0" y="0" font-size="7.3" fill="#333" text-anchor="middle" textLength="34.20" lengthAdjust="spacingAndGlyphs" transform="translate(548.20 99.50) rotate(-90)">Repressed</text>
<text x="0" y="0" font-size="7.3" fill="#333" text-anchor="middle" textLength="60.00" lengthAdjust="spacingAndGlyphs" transform="translate(540.30 73.15) rotate(-90)">Drought response</text>
<text x="580.95" y="45.14" font-size="9.0" fill="#333" text-anchor="middle" textLength="11.30" lengthAdjust="spacingAndGlyphs">CK</text>
<text x="603.40" y="59.92" font-size="7.0" fill="#d63a58" text-anchor="middle" textLength="25.60" lengthAdjust="spacingAndGlyphs">ATEXP6</text>
<text x="617.00" y="105.72" font-size="7.0" fill="#d63a58" text-anchor="middle" textLength="17.60" lengthAdjust="spacingAndGlyphs">CRF2</text>
<line x1="599.00" y1="62.20" x2="597.40" y2="81.60" stroke="#444" stroke-width="0.6"/>
<line x1="610.50" y1="78.20" x2="617.40" y2="96.50" stroke="#444" stroke-width="0.6"/>
<line x1="473.00" y1="165.80" x2="473.00" y2="242.60" stroke="#9a9a9a" stroke-width="1.8"/>
<path d="M483.7 187.4h0M488.4 188.0h0M498.1 186.9h0M479.8 188.9h0M489.6 190.3h0M494.2 189.5h0M492.0 187.5h0M481.4 173.1h0M491.2 199.8h0M486.4 180.0h0M495.0 183.3h0M486.6 192.0h0M482.8 173.6h0M486.1 183.7h0M475.7 177.7h0M492.8 185.4h0M478.8 176.6h0M485.5 180.9h0M497.5 181.0h0M481.1 191.3h0M472.5 184.8h0M485.3 192.5h0M488.0 180.0h0M487.0 185.8h0M489.8 180.6h0M476.2 190.9h0M474.9 178.7h0M491.4 178.5h0M487.5 187.0h0M484.4 179.8h0M491.4 187.5h0M494.4 180.3h0M489.1 188.8h0M493.6 183.4h0M479.5 184.9h0M447.8 190.9h0M459.2 198.2h0M452.1 186.5h0M457.9 195.4h0M462.3 203.5h0M458.9 196.1h0M451.7 191.8h0M473.3 199.6h0M473.1 193.4h0M469.7 185.4h0M478.4 198.3h0M457.1 194.1h0M472.4 190.9h0M460.7 190.0h0M458.2 187.9h0M461.7 190.7h0M467.8 197.9h0M459.3 190.2h0M463.2 195.9h0M479.0 187.8h0M468.8 195.4h0M455.6 187.0h0M449.5 193.0h0M469.8 193.4h0M472.9 191.2h0M453.0 192.0h0M477.4 193.1h0M481.7 199.4h0M462.4 193.1h0M475.6 197.7h0M461.5 209.5h0M468.1 184.9h0M483.2 191.5h0M468.6 199.5h0M461.8 197.2h0M459.3 185.8h0M454.3 190.6h0M468.9 193.4h0M473.6 167.5h0" stroke="#3b85c6" stroke-width="1.60" stroke-linecap="round" opacity="0.95" fill="none"/>
<path d="M457.9 207.8h0M460.8 213.0h0M452.5 214.1h0M468.4 195.5h0M485.7 218.8h0M457.8 205.9h0M456.6 210.0h0M475.5 202.3h0M443.9 223.9h0M451.4 210.7h0M458.2 212.9h0M476.9 201.9h0M453.3 204.1h0M453.3 213.4h0M461.4 210.4h0M466.7 213.2h0M454.0 209.3h0M462.8 207.1h0M465.8 209.3h0M467.5 213.5h0M480.2 216.0h0M473.0 204.1h0M460.2 217.9h0M448.9 218.8h0M476.9 207.0h0M467.0 208.6h0M436.7 217.7h0M453.3 197.2h0M456.7 217.0h0M437.8 226.5h0M449.1 211.6h0M464.9 214.3h0M458.6 211.2h0M443.2 209.2h0M477.7 215.8h0M460.0 203.5h0M449.8 224.6h0M450.6 208.4h0M455.6 199.1h0M456.1 214.8h0M458.0 208.9h0M452.5 191.9h0M465.5 207.6h0M449.7 222.4h0M445.0 220.0h0M470.5 211.8h0M459.6 218.4h0M442.2 214.3h0M454.8 216.0h0M466.6 195.3h0M461.1 214.8h0M461.6 205.0h0M436.5 207.6h0M446.0 219.0h0M457.2 213.8h0M457.9 210.1h0M454.1 212.2h0M457.1 208.4h0M460.9 224.4h0M465.6 215.8h0M454.3 213.6h0M440.4 216.0h0M479.5 208.4h0M457.7 217.0h0M445.4 214.9h0M492.3 220.9h0M474.9 206.1h0M476.3 205.0h0M475.8 217.6h0M488.4 201.2h0M494.6 215.8h0M478.8 206.2h0M470.6 226.8h0M420.5 238.5h0M418.5 213.0h0" stroke="#d6453c" stroke-width="1.60" stroke-linecap="round" opacity="0.95" fill="none"/>
<line x1="416.30" y1="195.50" x2="504.20" y2="195.50" stroke="#444" stroke-width="1.0"/>
<rect x="416.30" y="165.80" width="87.90" height="76.80" fill="none" stroke="#8a8a8a" stroke-width="0.9"/>
<line x1="413.10" y1="168.70" x2="416.30" y2="168.70" stroke="#555" stroke-width="0.7"/>
<text x="409.70" y="170.90" font-size="6.2" fill="#444" text-anchor="end">0.5</text>
<line x1="413.10" y1="195.40" x2="416.30" y2="195.40" stroke="#555" stroke-width="0.7"/>
<text x="409.70" y="197.60" font-size="6.2" fill="#444" text-anchor="end">0</text>
<line x1="413.10" y1="221.70" x2="416.30" y2="221.70" stroke="#555" stroke-width="0.7"/>
<text x="409.70" y="223.90" font-size="6.2" fill="#444" text-anchor="end">−0.5</text>
<line x1="443.60" y1="242.60" x2="443.60" y2="245.20" stroke="#555" stroke-width="0.7"/>
<text x="442.40" y="253.80" font-size="6.2" fill="#444" text-anchor="middle">−0.1</text>
<line x1="472.00" y1="242.60" x2="472.00" y2="245.20" stroke="#555" stroke-width="0.7"/>
<text x="472.00" y="253.80" font-size="6.2" fill="#444" text-anchor="middle">0</text>
<line x1="499.50" y1="242.60" x2="499.50" y2="245.20" stroke="#555" stroke-width="0.7"/>
<text x="499.50" y="253.80" font-size="6.2" fill="#444" text-anchor="middle">0.1</text>
<text x="421.80" y="264.60" font-size="7.3" fill="#333" text-anchor="middle" textLength="34.20" lengthAdjust="spacingAndGlyphs">Repressed</text>
<path d="M444.50 262.30H449.80" stroke="#333" stroke-width="0.8"/>
<path d="M441.90 262.30L445.20 260.70L445.20 263.90Z" fill="#333"/>
<text x="464.40" y="264.60" font-size="7.3" fill="#333" text-anchor="middle" textLength="28.40" lengthAdjust="spacingAndGlyphs">Leaf age</text>
<path d="M479.40 262.30H485.00" stroke="#333" stroke-width="0.8"/>
<path d="M487.60 262.30L484.30 260.70L484.30 263.90Z" fill="#333"/>
<text x="504.10" y="264.60" font-size="7.3" fill="#333" text-anchor="middle" textLength="27.20" lengthAdjust="spacingAndGlyphs">Induced</text>
<text x="0" y="0" font-size="7.3" fill="#333" text-anchor="middle" textLength="26.50" lengthAdjust="spacingAndGlyphs" transform="translate(392.70 176.75) rotate(-90)">Induced</text>
<path d="M390.00 197.10V203.90" stroke="#333" stroke-width="0.8"/>
<path d="M390.00 194.50L388.40 197.80L391.60 197.80Z" fill="#333"/>
<path d="M390.00 206.50L388.40 203.20L391.60 203.20Z" fill="#333"/>
<text x="0" y="0" font-size="7.3" fill="#333" text-anchor="middle" textLength="34.20" lengthAdjust="spacingAndGlyphs" transform="translate(392.70 225.90) rotate(-90)">Repressed</text>
<text x="0" y="0" font-size="7.3" fill="#333" text-anchor="middle" textLength="60.00" lengthAdjust="spacingAndGlyphs" transform="translate(384.80 200.00) rotate(-90)">Drought response</text>
<text x="430.10" y="176.04" font-size="9.0" fill="#333" text-anchor="middle" textLength="20.20" lengthAdjust="spacingAndGlyphs">2,4-D</text>
<text x="456.45" y="238.12" font-size="7.0" fill="#d63a58" text-anchor="middle" textLength="16.50" lengthAdjust="spacingAndGlyphs">PIN3</text>
<text x="488.80" y="231.82" font-size="7.0" fill="#3b85c6" text-anchor="middle" textLength="16.40" lengthAdjust="spacingAndGlyphs">RD19</text>
<line x1="478.90" y1="180.10" x2="490.20" y2="225.30" stroke="#444" stroke-width="0.6"/>
<line x1="455.60" y1="219.90" x2="455.10" y2="230.80" stroke="#444" stroke-width="0.6"/>
<path d="M626.9 193.5h0M640.3 193.1h0M631.6 194.6h0M643.7 194.8h0M638.2 213.1h0M625.8 202.9h0M621.9 202.8h0M633.3 200.2h0M635.4 193.8h0M636.9 199.6h0M629.3 208.8h0M638.2 195.1h0M616.4 185.5h0M627.7 199.1h0M609.5 206.6h0M643.7 188.4h0M634.5 191.5h0M629.5 202.0h0M603.5 197.0h0M643.6 189.9h0M628.9 200.4h0M632.5 172.2h0M626.3 205.9h0M633.8 197.7h0M641.2 195.7h0M624.4 199.0h0M640.4 184.0h0M634.4 205.8h0M636.3 192.2h0M621.4 206.5h0M640.9 200.8h0M627.2 220.3h0M648.9 190.3h0M622.4 200.5h0M622.2 209.8h0M623.4 188.4h0M635.0 190.3h0M638.3 185.6h0M627.1 194.8h0M627.7 203.5h0M636.6 206.5h0M627.3 201.2h0M645.0 198.7h0M652.4 186.4h0M631.1 197.4h0M634.7 188.5h0M640.3 181.8h0M620.9 205.5h0M614.6 215.3h0M624.3 195.8h0M620.1 208.5h0M626.9 196.3h0M636.7 199.6h0M620.0 201.2h0M642.2 185.6h0M636.5 179.9h0M633.3 196.3h0M637.0 193.2h0M651.8 198.0h0M632.5 187.0h0M626.5 209.8h0M619.8 197.4h0M651.0 180.5h0M633.2 192.2h0M626.5 176.3h0M613.5 213.6h0M616.6 210.2h0M618.9 210.0h0M612.2 204.6h0M636.6 195.9h0M632.8 198.5h0M640.7 192.8h0M626.0 201.0h0M617.9 210.9h0M646.5 173.8h0M637.8 200.9h0M624.4 205.8h0M634.2 171.2h0M629.8 198.4h0M621.4 198.6h0M628.3 184.8h0M634.3 195.3h0M626.6 205.8h0M619.9 220.8h0M618.2 216.4h0M639.9 204.3h0M635.6 199.8h0M634.8 188.8h0M628.3 202.2h0M637.6 208.1h0M633.9 210.1h0M622.9 212.9h0M627.3 202.2h0M613.1 198.0h0M645.9 184.1h0M621.9 214.8h0M637.7 196.7h0M615.7 203.6h0M635.5 190.3h0M638.1 186.5h0M635.1 195.3h0M636.5 210.0h0M638.2 191.7h0M629.1 188.5h0M641.3 201.2h0M629.5 189.6h0M622.1 190.4h0M649.6 209.7h0M629.9 202.2h0M613.0 207.3h0M624.9 199.3h0M632.3 181.9h0M621.9 183.0h0M613.1 207.3h0M626.5 217.2h0M631.2 215.3h0M629.8 194.8h0M640.6 186.6h0M616.3 208.9h0M643.1 188.4h0M634.5 167.1h0M625.0 190.8h0M631.2 210.8h0M627.6 200.7h0M618.7 210.1h0M625.1 186.5h0M611.0 205.1h0M628.4 193.1h0M633.3 204.8h0M623.9 206.0h0M616.9 210.7h0M620.5 211.6h0M627.1 206.1h0M625.2 196.9h0M634.3 183.7h0M618.4 195.9h0M627.0 181.6h0M628.8 197.3h0M629.5 210.8h0M630.4 196.1h0M632.5 202.5h0M631.4 196.1h0M612.3 228.5h0M638.5 183.4h0M620.4 197.7h0M629.1 198.8h0M630.0 198.1h0M622.2 201.9h0M591.8 232.8h0M608.2 212.1h0M614.4 224.5h0M612.0 214.0h0M618.8 211.0h0M614.2 212.2h0M592.4 224.8h0M599.1 231.2h0M590.5 229.5h0M619.2 221.7h0M618.0 214.0h0M602.8 213.2h0M598.9 211.5h0M609.4 214.3h0M605.2 223.0h0M619.7 204.7h0M594.8 240.6h0M620.7 212.7h0M614.1 216.3h0M608.6 224.4h0M599.0 205.8h0M623.8 216.4h0M618.1 229.7h0M599.2 220.0h0M595.8 229.2h0M598.3 218.5h0M606.5 223.3h0M611.4 223.2h0M612.1 214.9h0M615.7 204.8h0M597.2 222.3h0M617.6 221.8h0M609.8 222.7h0M610.8 223.2h0M599.1 216.8h0M607.9 197.3h0M609.1 220.5h0M588.2 212.7h0M615.0 223.8h0M618.4 218.2h0M635.4 202.8h0M622.8 214.8h0M624.9 219.0h0M612.3 204.9h0M615.7 208.7h0M615.8 215.5h0M616.0 214.9h0M602.9 214.2h0M602.3 214.0h0M630.6 228.0h0M628.5 212.6h0M616.7 207.8h0M602.7 225.7h0M598.4 229.1h0M610.3 213.3h0M601.2 216.7h0M593.8 213.8h0M608.4 213.4h0M618.7 213.6h0M602.4 221.9h0M623.3 213.0h0M618.5 220.1h0M601.8 224.3h0M615.0 211.4h0M608.5 223.5h0M614.4 218.0h0M606.6 220.6h0M603.9 225.0h0M598.8 224.1h0M640.5 175.1h0M640.8 175.1h0M643.5 172.4h0M648.8 175.5h0M634.2 178.5h0M653.6 173.4h0M633.2 170.0h0M637.0 172.6h0M654.9 179.1h0M649.4 184.0h0M650.9 175.1h0M656.2 178.9h0M639.1 170.0h0M640.9 179.6h0M631.1 179.1h0M648.2 170.2h0" stroke="#d6453c" stroke-width="1.60" stroke-linecap="round" opacity="0.95" fill="none"/>
<path d="M594.7 202.0h0M623.5 196.6h0M642.7 193.8h0M630.4 210.3h0M640.0 210.3h0M649.6 215.8h0M613.9 226.7h0M607.0 214.4h0" stroke="#3b85c6" stroke-width="1.60" stroke-linecap="round" opacity="0.95" fill="none"/>
<line x1="570.90" y1="208.50" x2="659.60" y2="208.50" stroke="#444" stroke-width="1.0"/>
<line x1="625.50" y1="165.80" x2="625.50" y2="243.00" stroke="#444" stroke-width="1.0"/>
<rect x="570.90" y="165.80" width="88.70" height="77.20" fill="none" stroke="#8a8a8a" stroke-width="0.9"/>
<line x1="567.70" y1="166.40" x2="570.90" y2="166.40" stroke="#555" stroke-width="0.7"/>
<text x="564.30" y="168.60" font-size="6.2" fill="#444" text-anchor="end">1.0</text>
<line x1="567.70" y1="187.60" x2="570.90" y2="187.60" stroke="#555" stroke-width="0.7"/>
<text x="564.30" y="189.80" font-size="6.2" fill="#444" text-anchor="end">0.5</text>
<line x1="567.70" y1="208.20" x2="570.90" y2="208.20" stroke="#555" stroke-width="0.7"/>
<text x="564.30" y="210.40" font-size="6.2" fill="#444" text-anchor="end">0</text>
<line x1="567.70" y1="229.30" x2="570.90" y2="229.30" stroke="#555" stroke-width="0.7"/>
<text x="564.30" y="231.50" font-size="6.2" fill="#444" text-anchor="end">−0.5</text>
<line x1="580.60" y1="243.00" x2="580.60" y2="245.60" stroke="#555" stroke-width="0.7"/>
<text x="579.40" y="254.80" font-size="6.2" fill="#444" text-anchor="middle">−0.2</text>
<line x1="602.40" y1="243.00" x2="602.40" y2="245.60" stroke="#555" stroke-width="0.7"/>
<text x="601.20" y="254.80" font-size="6.2" fill="#444" text-anchor="middle">−0.1</text>
<line x1="624.30" y1="243.00" x2="624.30" y2="245.60" stroke="#555" stroke-width="0.7"/>
<text x="624.30" y="254.80" font-size="6.2" fill="#444" text-anchor="middle">0</text>
<line x1="646.10" y1="243.00" x2="646.10" y2="245.60" stroke="#555" stroke-width="0.7"/>
<text x="646.10" y="254.80" font-size="6.2" fill="#444" text-anchor="middle">0.1</text>
<text x="575.20" y="265.30" font-size="7.3" fill="#333" text-anchor="middle" textLength="34.20" lengthAdjust="spacingAndGlyphs">Repressed</text>
<path d="M597.90 263.00H603.20" stroke="#333" stroke-width="0.8"/>
<path d="M595.30 263.00L598.60 261.40L598.60 264.60Z" fill="#333"/>
<text x="617.80" y="265.30" font-size="7.3" fill="#333" text-anchor="middle" textLength="28.40" lengthAdjust="spacingAndGlyphs">Leaf age</text>
<path d="M632.80 263.00H638.40" stroke="#333" stroke-width="0.8"/>
<path d="M641.00 263.00L637.70 261.40L637.70 264.60Z" fill="#333"/>
<text x="657.50" y="265.30" font-size="7.3" fill="#333" text-anchor="middle" textLength="27.20" lengthAdjust="spacingAndGlyphs">Induced</text>
<text x="0" y="0" font-size="7.3" fill="#333" text-anchor="middle" textLength="26.50" lengthAdjust="spacingAndGlyphs" transform="translate(546.30 176.25) rotate(-90)">Induced</text>
<path d="M543.60 196.60V203.40" stroke="#333" stroke-width="0.8"/>
<path d="M543.60 194.00L542.00 197.30L545.20 197.30Z" fill="#333"/>
<path d="M543.60 206.00L542.00 202.70L545.20 202.70Z" fill="#333"/>
<text x="0" y="0" font-size="7.3" fill="#333" text-anchor="middle" textLength="34.20" lengthAdjust="spacingAndGlyphs" transform="translate(546.30 225.40) rotate(-90)">Repressed</text>
<text x="0" y="0" font-size="7.3" fill="#333" text-anchor="middle" textLength="60.00" lengthAdjust="spacingAndGlyphs" transform="translate(538.50 199.20) rotate(-90)">Drought response</text>
<text x="582.85" y="175.64" font-size="9.0" fill="#333" text-anchor="middle" textLength="15.90" lengthAdjust="spacingAndGlyphs">ABA</text>
<text x="597.20" y="192.72" font-size="7.0" fill="#d63a58" text-anchor="middle" textLength="17.00" lengthAdjust="spacingAndGlyphs">ERD7</text>
<text x="591.25" y="237.52" font-size="7.0" fill="#d63a58" text-anchor="middle" textLength="17.90" lengthAdjust="spacingAndGlyphs">KCS1</text>
<text x="613.95" y="240.42" font-size="7.0" fill="#d63a58" text-anchor="middle" textLength="21.90" lengthAdjust="spacingAndGlyphs">PIP2;1</text>
<text x="641.35" y="233.42" font-size="7.0" fill="#d63a58" text-anchor="middle" textLength="15.30" lengthAdjust="spacingAndGlyphs">ABI2</text>
<line x1="607.00" y1="189.70" x2="627.60" y2="177.30" stroke="#444" stroke-width="0.6"/>
<line x1="635.90" y1="185.60" x2="639.20" y2="224.00" stroke="#444" stroke-width="0.6"/>
<line x1="593.30" y1="230.90" x2="601.60" y2="228.70" stroke="#444" stroke-width="0.6"/>
<line x1="610.60" y1="232.20" x2="608.40" y2="224.00" stroke="#444" stroke-width="0.6"/>
<path d="M419.35 31.60h2.75v-0.30h-2.75ZM424.85 31.60h2.75v-0.20h-2.75ZM427.60 31.60h2.75v-0.30h-2.75ZM430.35 31.60h2.75v-0.50h-2.75ZM433.10 31.60h2.75v-0.30h-2.75ZM435.85 31.60h2.75v-0.80h-2.75ZM438.60 31.60h2.75v-1.20h-2.75ZM441.35 31.60h2.75v-1.50h-2.75ZM444.10 31.60h2.75v-2.00h-2.75ZM446.85 31.60h2.75v-3.70h-2.75ZM449.60 31.60h2.75v-4.60h-2.75ZM452.35 31.60h2.75v-4.60h-2.75ZM455.10 31.60h2.75v-5.50h-2.75ZM457.85 31.60h2.75v-8.30h-2.75ZM460.60 31.60h2.75v-4.10h-2.75ZM463.35 31.60h2.75v-2.70h-2.75ZM466.10 31.60h2.75v-4.10h-2.75ZM468.85 31.60h2.75v-3.70h-2.75ZM471.60 31.60h2.75v-4.60h-2.75ZM474.35 31.60h2.75v-4.10h-2.75ZM477.10 31.60h2.75v-2.30h-2.75ZM479.85 31.60h2.75v-1.00h-2.75ZM482.60 31.60h2.75v-0.50h-2.75ZM485.35 31.60h2.75v-0.30h-2.75ZM488.10 31.60h2.75v-0.20h-2.75ZM490.85 31.60h2.75v-0.30h-2.75ZM493.60 31.60h2.75v-0.20h-2.75ZM496.35 31.60h2.75v-0.30h-2.75Z" fill="#e0883a" opacity="0.45"/>
<path d="M419.35 31.60h2.75v-0.40h-2.75ZM422.10 31.60h2.75v-0.30h-2.75ZM424.85 31.60h2.75v-0.30h-2.75ZM427.60 31.60h2.75v-0.50h-2.75ZM430.35 31.60h2.75v-0.40h-2.75ZM433.10 31.60h2.75v-0.30h-2.75ZM435.85 31.60h2.75v-0.60h-2.75ZM438.60 31.60h2.75v-0.80h-2.75ZM441.35 31.60h2.75v-1.00h-2.75ZM444.10 31.60h2.75v-4.60h-2.75ZM446.85 31.60h2.75v-8.30h-2.75ZM449.60 31.60h2.75v-8.30h-2.75ZM452.35 31.60h2.75v-8.30h-2.75ZM455.10 31.60h2.75v-12.40h-2.75ZM457.85 31.60h2.75v-8.70h-2.75ZM460.60 31.60h2.75v-15.20h-2.75ZM463.35 31.60h2.75v-9.20h-2.75ZM466.10 31.60h2.75v-14.70h-2.75ZM468.85 31.60h2.75v-17.90h-2.75ZM471.60 31.60h2.75v-13.30h-2.75ZM474.35 31.60h2.75v-6.90h-2.75ZM477.10 31.60h2.75v-9.20h-2.75ZM479.85 31.60h2.75v-4.20h-2.75ZM482.60 31.60h2.75v-1.90h-2.75ZM485.35 31.60h2.75v-1.00h-2.75ZM488.10 31.60h2.75v-0.60h-2.75ZM490.85 31.60h2.75v-0.40h-2.75ZM493.60 31.60h2.75v-0.40h-2.75ZM496.35 31.60h2.75v-0.30h-2.75Z" fill="#3aaa6c" opacity="0.4"/>
<path d="M422.10 31.60h2.75v-0.30h-2.75ZM424.85 31.60h2.75v-0.40h-2.75ZM427.60 31.60h2.75v-0.20h-2.75ZM433.10 31.60h2.75v-0.40h-2.75ZM435.85 31.60h2.75v-0.30h-2.75ZM438.60 31.60h2.75v-0.50h-2.75ZM441.35 31.60h2.75v-1.00h-2.75ZM444.10 31.60h2.75v-2.30h-2.75ZM446.85 31.60h2.75v-1.40h-2.75ZM449.60 31.60h2.75v-1.40h-2.75ZM452.35 31.60h2.75v-1.40h-2.75ZM455.10 31.60h2.75v-1.80h-2.75ZM457.85 31.60h2.75v-3.20h-2.75ZM460.60 31.60h2.75v-1.80h-2.75ZM463.35 31.60h2.75v-4.10h-2.75ZM466.10 31.60h2.75v-2.70h-2.75ZM468.85 31.60h2.75v-2.30h-2.75ZM471.60 31.60h2.75v-5.50h-2.75ZM474.35 31.60h2.75v-3.20h-2.75ZM477.10 31.60h2.75v-1.80h-2.75ZM479.85 31.60h2.75v-1.40h-2.75ZM482.60 31.60h2.75v-1.00h-2.75ZM485.35 31.60h2.75v-0.50h-2.75ZM488.10 31.60h2.75v-0.30h-2.75ZM493.60 31.60h2.75v-0.20h-2.75Z" fill="#6b4a92" opacity="0.42"/>
<path d="M508.10 39.20v2.10h0.80v-2.10ZM508.10 45.50v2.10h1.10v-2.10ZM508.10 47.60v2.10h1.10v-2.10ZM508.10 51.80v2.10h1.80v-2.10ZM508.10 53.90v2.10h2.80v-2.10ZM508.10 56.00v2.10h3.20v-2.10ZM508.10 58.10v2.10h3.20v-2.10ZM508.10 60.20v2.10h3.90v-2.10ZM508.10 62.30v2.10h3.90v-2.10ZM508.10 64.40v2.10h4.60v-2.10ZM508.10 66.50v2.10h6.80v-2.10ZM508.10 68.60v2.10h5.40v-2.10ZM508.10 70.70v2.10h7.40v-2.10ZM508.10 72.80v2.10h6.80v-2.10ZM508.10 74.90v2.10h6.10v-2.10ZM508.10 77.00v2.10h6.80v-2.10ZM508.10 79.10v2.10h3.20v-2.10ZM508.10 81.20v2.10h3.90v-2.10ZM508.10 83.30v2.10h3.90v-2.10ZM508.10 85.40v2.10h5.40v-2.10ZM508.10 87.50v2.10h4.60v-2.10ZM508.10 89.60v2.10h3.90v-2.10ZM508.10 91.70v2.10h1.80v-2.10ZM508.10 93.80v2.10h2.50v-2.10ZM508.10 95.90v2.10h1.80v-2.10ZM508.10 100.10v2.10h0.80v-2.10ZM508.10 104.30v2.10h0.80v-2.10Z" fill="#e0883a" opacity="0.45"/>
<path d="M508.10 43.40v2.10h2.30v-2.10ZM508.10 45.50v2.10h2.30v-2.10ZM508.10 47.60v2.10h1.80v-2.10ZM508.10 49.70v2.10h1.80v-2.10ZM508.10 51.80v2.10h3.20v-2.10ZM508.10 53.90v2.10h3.90v-2.10ZM508.10 56.00v2.10h5.00v-2.10ZM508.10 58.10v2.10h6.00v-2.10ZM508.10 60.20v2.10h10.30v-2.10ZM508.10 62.30v2.10h13.10v-2.10ZM508.10 64.40v2.10h16.60v-2.10ZM508.10 66.50v2.10h16.60v-2.10ZM508.10 68.60v2.10h15.20v-2.10ZM508.10 70.70v2.10h14.50v-2.10ZM508.10 72.80v2.10h14.50v-2.10ZM508.10 74.90v2.10h13.90v-2.10ZM508.10 77.00v2.10h13.90v-2.10ZM508.10 79.10v2.10h22.00v-2.10ZM508.10 81.20v2.10h15.20v-2.10ZM508.10 83.30v2.10h13.90v-2.10ZM508.10 85.40v2.10h12.40v-2.10ZM508.10 87.50v2.10h10.30v-2.10ZM508.10 89.60v2.10h9.00v-2.10ZM508.10 91.70v2.10h6.80v-2.10ZM508.10 93.80v2.10h4.60v-2.10ZM508.10 106.40v2.10h0.80v-2.10Z" fill="#3aaa6c" opacity="0.4"/>
<path d="M508.10 58.10v2.10h3.20v-2.10ZM508.10 60.20v2.10h1.80v-2.10ZM508.10 62.30v2.10h3.90v-2.10ZM508.10 64.40v2.10h4.60v-2.10ZM508.10 66.50v2.10h3.90v-2.10ZM508.10 68.60v2.10h5.40v-2.10ZM508.10 70.70v2.10h3.90v-2.10ZM508.10 72.80v2.10h3.20v-2.10ZM508.10 74.90v2.10h3.20v-2.10ZM508.10 77.00v2.10h2.50v-2.10ZM508.10 79.10v2.10h3.20v-2.10ZM508.10 81.20v2.10h3.90v-2.10ZM508.10 83.30v2.10h3.90v-2.10ZM508.10 85.40v2.10h3.20v-2.10ZM508.10 87.50v2.10h2.50v-2.10ZM508.10 89.60v2.10h1.80v-2.10ZM508.10 91.70v2.10h1.80v-2.10ZM508.10 95.90v2.10h1.00v-2.10Z" fill="#6b4a92" opacity="0.42"/>
<path d="M575.00 31.90h2.63v-0.30h-2.63ZM580.26 31.90h2.63v-0.30h-2.63ZM588.15 31.90h2.63v-0.30h-2.63ZM596.04 31.90h2.63v-0.30h-2.63ZM598.67 31.90h2.63v-0.50h-2.63ZM601.30 31.90h2.63v-0.50h-2.63ZM603.93 31.90h2.63v-0.50h-2.63ZM606.56 31.90h2.63v-0.80h-2.63ZM609.19 31.90h2.63v-1.20h-2.63ZM611.82 31.90h2.63v-0.80h-2.63ZM614.45 31.90h2.63v-1.00h-2.63ZM617.08 31.90h2.63v-1.00h-2.63ZM619.71 31.90h2.63v-1.50h-2.63ZM622.34 31.90h2.63v-1.20h-2.63ZM624.97 31.90h2.63v-1.00h-2.63ZM627.60 31.90h2.63v-0.80h-2.63ZM632.86 31.90h2.63v-1.00h-2.63ZM635.49 31.90h2.63v-0.80h-2.63ZM638.12 31.90h2.63v-0.30h-2.63ZM651.27 31.90h2.63v-0.90h-2.63ZM653.90 31.90h2.63v-0.90h-2.63Z" fill="#e0883a" opacity="0.45"/>
<path d="M575.00 31.90h2.63v-1.30h-2.63ZM577.63 31.90h2.63v-1.30h-2.63ZM582.89 31.90h2.63v-1.90h-2.63ZM588.15 31.90h2.63v-0.30h-2.63ZM590.78 31.90h2.63v-0.30h-2.63ZM593.41 31.90h2.63v-0.50h-2.63ZM596.04 31.90h2.63v-1.90h-2.63ZM598.67 31.90h2.63v-1.00h-2.63ZM601.30 31.90h2.63v-3.20h-2.63ZM603.93 31.90h2.63v-8.50h-2.63ZM606.56 31.90h2.63v-9.80h-2.63ZM609.19 31.90h2.63v-18.40h-2.63ZM611.82 31.90h2.63v-14.40h-2.63ZM614.45 31.90h2.63v-9.80h-2.63ZM617.08 31.90h2.63v-5.90h-2.63ZM619.71 31.90h2.63v-2.40h-2.63ZM622.34 31.90h2.63v-2.40h-2.63ZM624.97 31.90h2.63v-2.40h-2.63ZM627.60 31.90h2.63v-0.30h-2.63ZM630.23 31.90h2.63v-1.90h-2.63ZM632.86 31.90h2.63v-3.90h-2.63ZM635.49 31.90h2.63v-1.30h-2.63ZM643.38 31.90h2.63v-0.90h-2.63ZM646.01 31.90h2.63v-0.90h-2.63ZM648.64 31.90h2.63v-0.90h-2.63Z" fill="#3aaa6c" opacity="0.4"/>
<path d="M577.63 31.90h2.63v-0.30h-2.63ZM580.26 31.90h2.63v-0.50h-2.63ZM585.52 31.90h2.63v-0.30h-2.63ZM590.78 31.90h2.63v-0.50h-2.63ZM593.41 31.90h2.63v-0.30h-2.63ZM601.30 31.90h2.63v-0.30h-2.63ZM603.93 31.90h2.63v-0.30h-2.63ZM606.56 31.90h2.63v-0.50h-2.63ZM609.19 31.90h2.63v-0.80h-2.63ZM611.82 31.90h2.63v-0.80h-2.63ZM614.45 31.90h2.63v-1.20h-2.63ZM617.08 31.90h2.63v-0.80h-2.63ZM619.71 31.90h2.63v-1.50h-2.63ZM622.34 31.90h2.63v-1.00h-2.63ZM624.97 31.90h2.63v-0.50h-2.63ZM627.60 31.90h2.63v-0.30h-2.63ZM632.86 31.90h2.63v-0.80h-2.63ZM635.49 31.90h2.63v-0.50h-2.63Z" fill="#6b4a92" opacity="0.42"/>
<path d="M663.20 47.60v2.10h1.40v-2.10ZM663.20 60.20v2.10h2.10v-2.10ZM663.20 62.30v2.10h2.50v-2.10ZM663.20 64.40v2.10h2.10v-2.10ZM663.20 66.50v2.10h2.10v-2.10ZM663.20 68.60v2.10h2.10v-2.10ZM663.20 70.70v2.10h1.40v-2.10ZM663.20 72.80v2.10h1.40v-2.10ZM663.20 74.90v2.10h2.10v-2.10ZM663.20 79.10v2.10h2.80v-2.10ZM663.20 81.20v2.10h2.10v-2.10ZM663.20 83.30v2.10h2.10v-2.10ZM663.20 85.40v2.10h1.40v-2.10ZM663.20 87.50v2.10h2.10v-2.10ZM663.20 89.60v2.10h1.40v-2.10ZM663.20 93.80v2.10h0.70v-2.10ZM663.20 98.00v2.10h0.70v-2.10ZM663.20 106.40v2.10h1.10v-2.10Z" fill="#e0883a" opacity="0.45"/>
<path d="M663.20 39.20v2.10h1.40v-2.10ZM663.20 43.40v2.10h1.40v-2.10ZM663.20 49.70v2.10h2.10v-2.10ZM663.20 53.90v2.10h3.50v-2.10ZM663.20 56.00v2.10h3.50v-2.10ZM663.20 58.10v2.10h1.70v-2.10ZM663.20 60.20v2.10h2.80v-2.10ZM663.20 62.30v2.10h3.50v-2.10ZM663.20 64.40v2.10h6.30v-2.10ZM663.20 66.50v2.10h11.30v-2.10ZM663.20 68.60v2.10h10.60v-2.10ZM663.20 70.70v2.10h17.50v-2.10ZM663.20 72.80v2.10h14.00v-2.10ZM663.20 74.90v2.10h17.60v-2.10ZM663.20 77.00v2.10h16.20v-2.10ZM663.20 79.10v2.10h19.70v-2.10ZM663.20 81.20v2.10h16.20v-2.10ZM663.20 83.30v2.10h21.80v-2.10ZM663.20 85.40v2.10h12.70v-2.10ZM663.20 87.50v2.10h4.20v-2.10ZM663.20 93.80v2.10h0.70v-2.10ZM663.20 95.90v2.10h0.70v-2.10ZM663.20 98.00v2.10h0.70v-2.10ZM663.20 100.10v2.10h0.70v-2.10Z" fill="#3aaa6c" opacity="0.4"/>
<path d="M663.20 49.70v2.10h1.40v-2.10ZM663.20 68.60v2.10h2.10v-2.10ZM663.20 70.70v2.10h1.40v-2.10ZM663.20 72.80v2.10h1.40v-2.10ZM663.20 77.00v2.10h1.40v-2.10ZM663.20 83.30v2.10h2.10v-2.10ZM663.20 85.40v2.10h1.40v-2.10ZM663.20 91.70v2.10h0.70v-2.10Z" fill="#6b4a92" opacity="0.42"/>
<path d="M430.52 161.70h2.63v-2.50h-2.63ZM435.78 161.70h2.63v-5.30h-2.63ZM441.04 161.70h2.63v-5.30h-2.63ZM443.67 161.70h2.63v-2.80h-2.63ZM446.30 161.70h2.63v-2.80h-2.63ZM448.93 161.70h2.63v-5.30h-2.63ZM451.56 161.70h2.63v-10.60h-2.63ZM454.19 161.70h2.63v-10.60h-2.63ZM456.82 161.70h2.63v-11.00h-2.63ZM459.45 161.70h2.63v-5.30h-2.63ZM462.08 161.70h2.63v-5.30h-2.63ZM464.71 161.70h2.63v-5.30h-2.63ZM467.34 161.70h2.63v-5.30h-2.63ZM469.97 161.70h2.63v-2.80h-2.63ZM472.60 161.70h2.63v-2.80h-2.63ZM475.23 161.70h2.63v-2.80h-2.63ZM477.86 161.70h2.63v-2.80h-2.63ZM480.49 161.70h2.63v-2.80h-2.63ZM483.12 161.70h2.63v-5.30h-2.63ZM485.75 161.70h2.63v-2.80h-2.63ZM488.38 161.70h2.63v-2.80h-2.63Z" fill="#e0883a" opacity="0.45"/>
<path d="M420.00 161.70h2.63v-2.80h-2.63ZM438.41 161.70h2.63v-2.50h-2.63ZM441.04 161.70h2.63v-5.30h-2.63ZM448.93 161.70h2.63v-2.80h-2.63ZM451.56 161.70h2.63v-5.30h-2.63ZM454.19 161.70h2.63v-2.80h-2.63ZM456.82 161.70h2.63v-2.80h-2.63ZM459.45 161.70h2.63v-8.00h-2.63ZM462.08 161.70h2.63v-8.00h-2.63ZM464.71 161.70h2.63v-8.00h-2.63ZM467.34 161.70h2.63v-10.60h-2.63ZM469.97 161.70h2.63v-2.80h-2.63ZM472.60 161.70h2.63v-2.80h-2.63ZM475.23 161.70h2.63v-15.80h-2.63ZM477.86 161.70h2.63v-10.60h-2.63ZM480.49 161.70h2.63v-13.20h-2.63ZM483.12 161.70h2.63v-8.00h-2.63ZM485.75 161.70h2.63v-8.00h-2.63ZM488.38 161.70h2.63v-2.80h-2.63ZM491.01 161.70h2.63v-2.60h-2.63ZM493.64 161.70h2.63v-2.60h-2.63Z" fill="#3aaa6c" opacity="0.4"/>
<path d="M441.04 161.70h2.63v-5.30h-2.63ZM448.93 161.70h2.63v-2.80h-2.63ZM451.56 161.70h2.63v-2.80h-2.63ZM454.19 161.70h2.63v-2.80h-2.63ZM456.82 161.70h2.63v-18.40h-2.63ZM459.45 161.70h2.63v-5.30h-2.63ZM462.08 161.70h2.63v-5.30h-2.63ZM464.71 161.70h2.63v-5.30h-2.63ZM467.34 161.70h2.63v-2.80h-2.63ZM469.97 161.70h2.63v-2.80h-2.63ZM472.60 161.70h2.63v-5.30h-2.63ZM475.23 161.70h2.63v-2.80h-2.63ZM477.86 161.70h2.63v-2.80h-2.63ZM480.49 161.70h2.63v-5.30h-2.63ZM485.75 161.70h2.63v-2.80h-2.63ZM488.38 161.70h2.63v-2.80h-2.63ZM496.27 161.70h2.63v-2.80h-2.63ZM498.90 161.70h2.63v-8.00h-2.63Z" fill="#6b4a92" opacity="0.42"/>
<path d="M508.50 169.30v2.40h4.60v-2.40ZM508.50 178.90v2.40h4.60v-2.40ZM508.50 183.70v2.40h4.60v-2.40ZM508.50 186.10v2.40h8.90v-2.40ZM508.50 188.50v2.40h4.60v-2.40ZM508.50 190.90v2.40h4.60v-2.40ZM508.50 193.30v2.40h17.20v-2.40ZM508.50 195.70v2.40h12.40v-2.40ZM508.50 198.10v2.40h12.40v-2.40ZM508.50 200.50v2.40h3.60v-2.40ZM508.50 202.90v2.40h3.60v-2.40ZM508.50 207.70v2.40h3.60v-2.40ZM508.50 212.50v2.40h21.00v-2.40ZM508.50 214.90v2.40h3.60v-2.40ZM508.50 217.30v2.40h7.60v-2.40ZM508.50 219.70v2.40h17.10v-2.40ZM508.50 222.10v2.40h3.60v-2.40ZM508.50 224.50v2.40h8.40v-2.40Z" fill="#e0883a" opacity="0.45"/>
<path d="M508.50 176.50v2.40h13.20v-2.40ZM508.50 178.90v2.40h8.30v-2.40ZM508.50 181.30v2.40h17.20v-2.40ZM508.50 183.70v2.40h8.30v-2.40ZM508.50 188.50v2.40h4.60v-2.40ZM508.50 190.90v2.40h13.20v-2.40ZM508.50 193.30v2.40h8.90v-2.40ZM508.50 195.70v2.40h21.00v-2.40ZM508.50 198.10v2.40h3.60v-2.40ZM508.50 200.50v2.40h21.00v-2.40ZM508.50 202.90v2.40h6.00v-2.40ZM508.50 205.30v2.40h16.80v-2.40ZM508.50 207.70v2.40h3.60v-2.40ZM508.50 210.10v2.40h16.80v-2.40ZM508.50 212.50v2.40h3.60v-2.40ZM508.50 217.30v2.40h7.60v-2.40ZM508.50 219.70v2.40h12.40v-2.40ZM508.50 224.50v2.40h8.40v-2.40ZM508.50 231.70v2.40h3.60v-2.40ZM508.50 236.50v2.40h3.60v-2.40Z" fill="#3aaa6c" opacity="0.4"/>
<path d="M508.50 186.10v2.40h12.60v-2.40ZM508.50 188.50v2.40h12.60v-2.40ZM508.50 190.90v2.40h4.60v-2.40ZM508.50 193.30v2.40h8.90v-2.40ZM508.50 195.70v2.40h8.90v-2.40ZM508.50 200.50v2.40h3.60v-2.40ZM508.50 202.90v2.40h12.40v-2.40ZM508.50 207.70v2.40h12.40v-2.40ZM508.50 210.10v2.40h21.00v-2.40ZM508.50 212.50v2.40h16.80v-2.40ZM508.50 214.90v2.40h3.60v-2.40ZM508.50 217.30v2.40h7.60v-2.40ZM508.50 219.70v2.40h3.60v-2.40ZM508.50 224.50v2.40h3.60v-2.40Z" fill="#6b4a92" opacity="0.42"/>
<path d="M588.15 161.65h2.63v-1.31h-2.63ZM590.78 161.65h2.63v-1.97h-2.63ZM593.41 161.65h2.63v-2.63h-2.63ZM596.04 161.65h2.63v-1.31h-2.63ZM598.67 161.65h2.63v-2.63h-2.63ZM601.30 161.65h2.63v-3.94h-2.63ZM603.93 161.65h2.63v-2.63h-2.63ZM606.56 161.65h2.63v-2.63h-2.63ZM609.19 161.65h2.63v-2.63h-2.63ZM611.82 161.65h2.63v-6.57h-2.63ZM614.45 161.65h2.63v-2.63h-2.63ZM617.08 161.65h2.63v-2.63h-2.63ZM619.71 161.65h2.63v-2.63h-2.63ZM624.97 161.65h2.63v-3.94h-2.63ZM627.60 161.65h2.63v-3.29h-2.63ZM630.23 161.65h2.63v-3.94h-2.63ZM632.86 161.65h2.63v-3.29h-2.63ZM635.49 161.65h2.63v-5.26h-2.63ZM640.75 161.65h2.63v-2.63h-2.63ZM648.64 161.65h2.63v-1.31h-2.63ZM651.27 161.65h2.63v-2.63h-2.63Z" fill="#e0883a" opacity="0.45"/>
<path d="M575.00 161.65h2.63v-1.31h-2.63ZM577.63 161.65h2.63v-1.31h-2.63ZM582.89 161.65h2.63v-2.63h-2.63ZM590.78 161.65h2.63v-2.63h-2.63ZM598.67 161.65h2.63v-5.26h-2.63ZM601.30 161.65h2.63v-10.51h-2.63ZM603.93 161.65h2.63v-7.62h-2.63ZM606.56 161.65h2.63v-3.29h-2.63ZM609.19 161.65h2.63v-6.57h-2.63ZM611.82 161.65h2.63v-10.51h-2.63ZM614.45 161.65h2.63v-4.60h-2.63ZM617.08 161.65h2.63v-7.62h-2.63ZM619.71 161.65h2.63v-10.51h-2.63ZM622.34 161.65h2.63v-10.51h-2.63ZM624.97 161.65h2.63v-11.83h-2.63ZM627.60 161.65h2.63v-18.40h-2.63ZM630.23 161.65h2.63v-10.51h-2.63ZM632.86 161.65h2.63v-7.23h-2.63ZM635.49 161.65h2.63v-10.51h-2.63ZM638.12 161.65h2.63v-3.29h-2.63ZM640.75 161.65h2.63v-7.62h-2.63ZM643.38 161.65h2.63v-2.63h-2.63ZM646.01 161.65h2.63v-2.63h-2.63ZM648.64 161.65h2.63v-1.97h-2.63Z" fill="#3aaa6c" opacity="0.4"/>
<path d="M598.67 161.65h2.63v-1.31h-2.63ZM601.30 161.65h2.63v-1.31h-2.63ZM611.82 161.65h2.63v-1.31h-2.63ZM617.08 161.65h2.63v-1.97h-2.63ZM619.71 161.65h2.63v-2.63h-2.63ZM622.34 161.65h2.63v-3.94h-2.63ZM624.97 161.65h2.63v-3.94h-2.63ZM627.60 161.65h2.63v-3.94h-2.63ZM630.23 161.65h2.63v-2.63h-2.63ZM635.49 161.65h2.63v-2.63h-2.63ZM638.12 161.65h2.63v-2.63h-2.63ZM640.75 161.65h2.63v-1.97h-2.63ZM643.38 161.65h2.63v-1.97h-2.63ZM651.27 161.65h2.63v-2.63h-2.63ZM653.90 161.65h2.63v-2.63h-2.63Z" fill="#6b4a92" opacity="0.42"/>
<path d="M663.20 169.20v2.35h6.00v-2.35ZM663.20 173.90v2.35h3.60v-2.35ZM663.20 180.95v2.35h3.70v-2.35ZM663.20 183.30v2.35h4.10v-2.35ZM663.20 185.65v2.35h2.80v-2.35ZM663.20 188.00v2.35h4.00v-2.35ZM663.20 190.35v2.35h4.50v-2.35ZM663.20 192.70v2.35h6.80v-2.35ZM663.20 195.05v2.35h6.80v-2.35ZM663.20 197.40v2.35h6.00v-2.35ZM663.20 199.75v2.35h4.40v-2.35ZM663.20 202.10v2.35h5.50v-2.35ZM663.20 204.45v2.35h4.00v-2.35ZM663.20 206.80v2.35h5.50v-2.35ZM663.20 209.15v2.35h5.50v-2.35ZM663.20 211.50v2.35h6.30v-2.35ZM663.20 213.85v2.35h7.00v-2.35ZM663.20 216.20v2.35h4.70v-2.35ZM663.20 220.90v2.35h5.50v-2.35ZM663.20 223.25v2.35h2.40v-2.35ZM663.20 225.60v2.35h3.20v-2.35ZM663.20 227.95v2.35h3.20v-2.35ZM663.20 230.30v2.35h2.40v-2.35Z" fill="#e0883a" opacity="0.45"/>
<path d="M663.20 171.55v2.35h3.20v-2.35ZM663.20 173.90v2.35h6.00v-2.35ZM663.20 176.25v2.35h2.80v-2.35ZM663.20 183.30v2.35h7.00v-2.35ZM663.20 185.65v2.35h2.80v-2.35ZM663.20 188.00v2.35h8.90v-2.35ZM663.20 190.35v2.35h4.50v-2.35ZM663.20 192.70v2.35h11.00v-2.35ZM663.20 195.05v2.35h12.40v-2.35ZM663.20 197.40v2.35h22.00v-2.35ZM663.20 199.75v2.35h13.80v-2.35ZM663.20 202.10v2.35h14.30v-2.35ZM663.20 204.45v2.35h15.00v-2.35ZM663.20 206.80v2.35h19.80v-2.35ZM663.20 209.15v2.35h21.90v-2.35ZM663.20 211.50v2.35h14.30v-2.35ZM663.20 213.85v2.35h9.50v-2.35ZM663.20 216.20v2.35h4.70v-2.35ZM663.20 218.55v2.35h14.60v-2.35ZM663.20 223.25v2.35h5.50v-2.35ZM663.20 225.60v2.35h7.10v-2.35ZM663.20 227.95v2.35h4.00v-2.35ZM663.20 230.30v2.35h2.40v-2.35ZM663.20 237.35v2.35h1.60v-2.35Z" fill="#3aaa6c" opacity="0.4"/>
<path d="M663.20 173.90v2.35h3.60v-2.35ZM663.20 178.60v2.35h1.80v-2.35ZM663.20 185.65v2.35h2.80v-2.35ZM663.20 188.00v2.35h2.80v-2.35ZM663.20 192.70v2.35h6.80v-2.35ZM663.20 195.05v2.35h6.80v-2.35ZM663.20 197.40v2.35h3.60v-2.35ZM663.20 199.75v2.35h4.40v-2.35ZM663.20 202.10v2.35h2.40v-2.35ZM663.20 220.90v2.35h2.40v-2.35ZM663.20 223.25v2.35h2.40v-2.35Z" fill="#6b4a92" opacity="0.42"/>
</svg>
</body></html>
